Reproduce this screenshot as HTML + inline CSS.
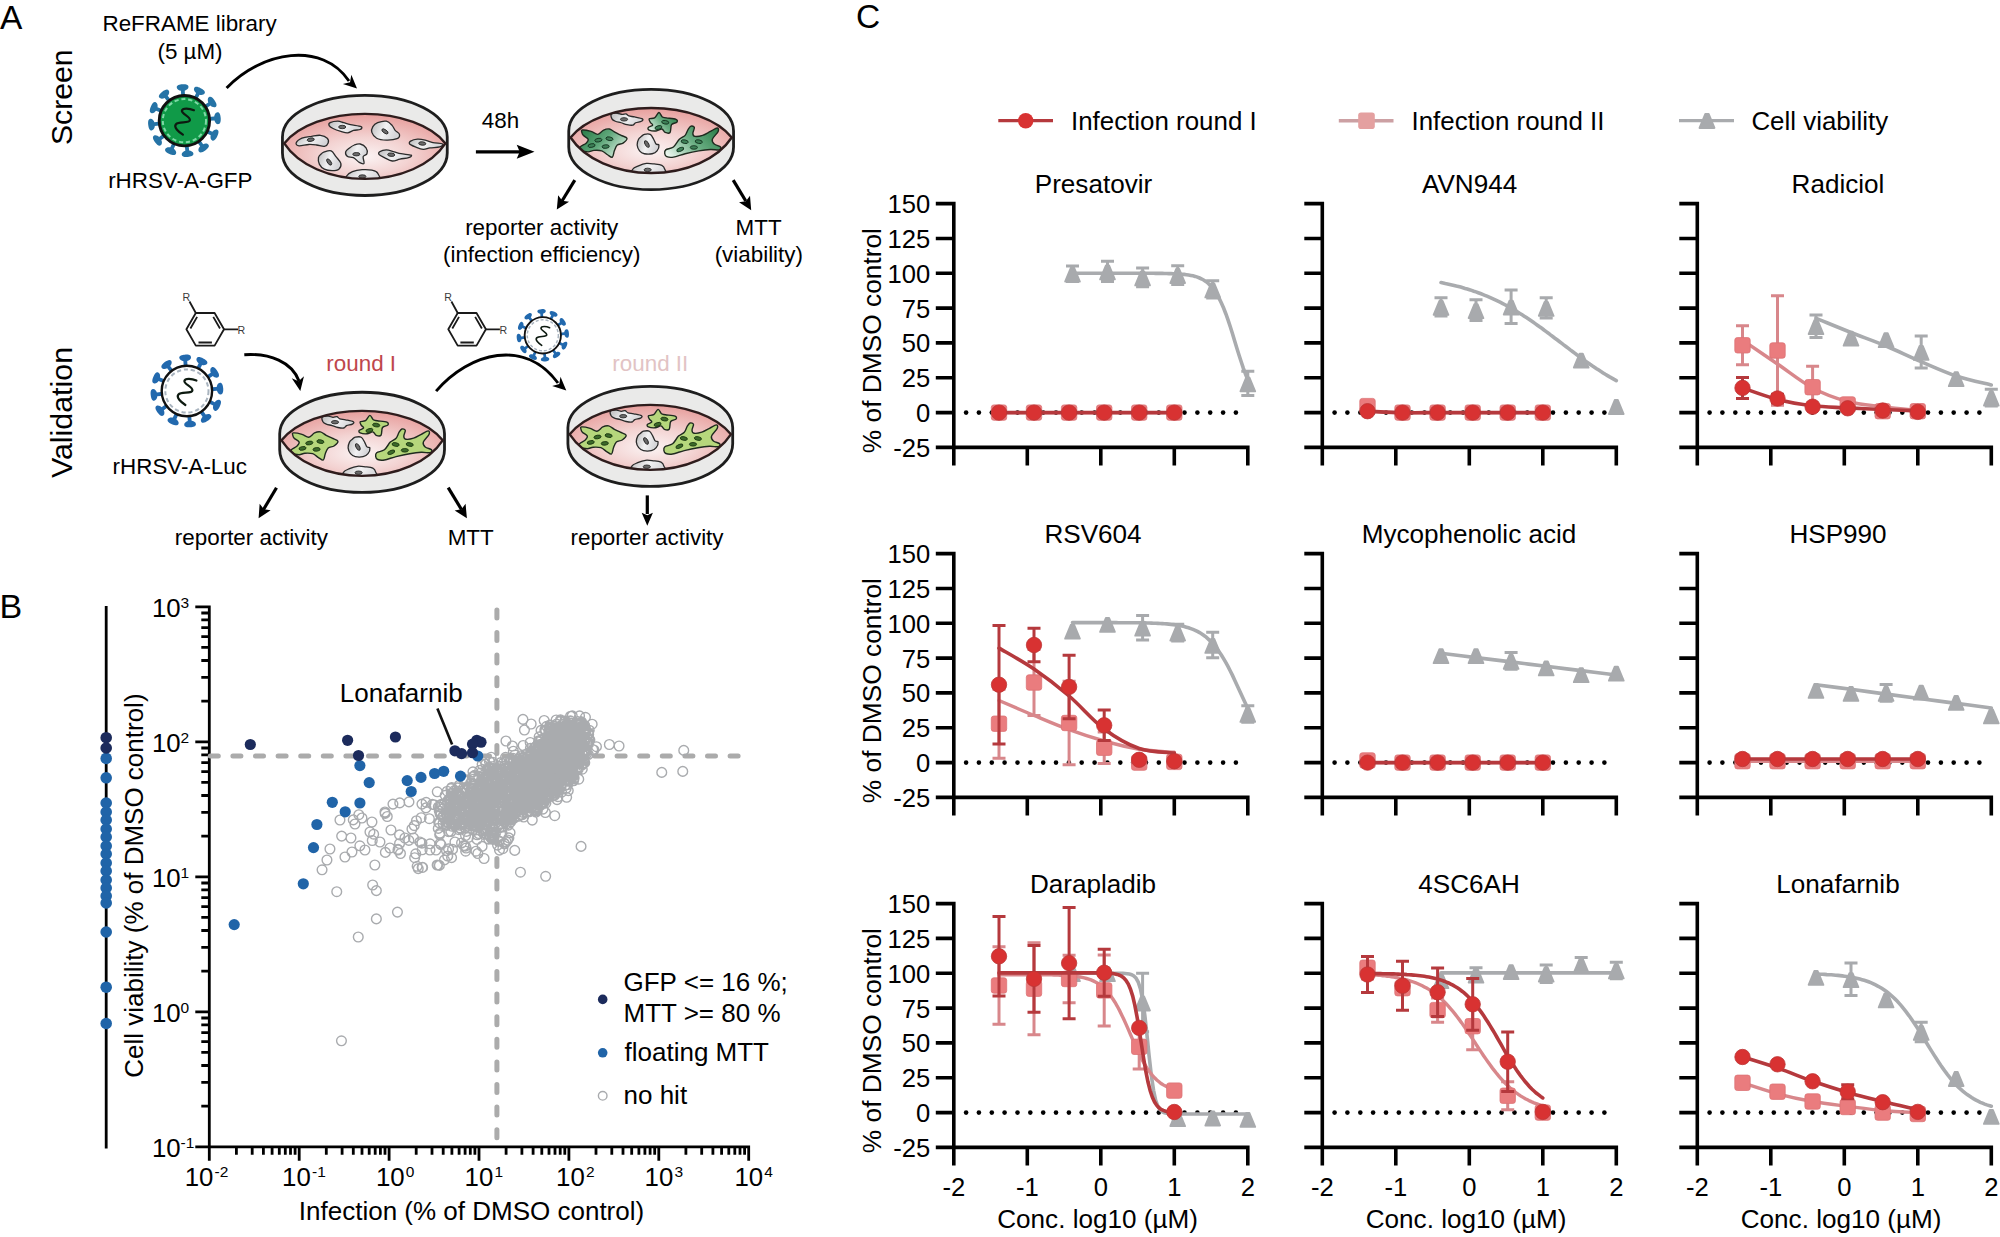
<!DOCTYPE html>
<html><head><meta charset="utf-8"><style>html,body{margin:0;padding:0;background:#fff;width:2000px;height:1237px;overflow:hidden}svg{display:block}</style></head>
<body><svg width="2000" height="1237" viewBox="0 0 2000 1237" font-family="&quot;Liberation Sans&quot;, sans-serif" fill="#000">
<rect width="2000" height="1237" fill="#fff"/>
<path d="M998.3 120.7H1053" stroke="#B5393D" stroke-width="3.2"/><circle cx="1025.7" cy="120.7" r="7.7" fill="#D83232"/><text x="1071" y="130" font-size="25.9">Infection round I</text><path d="M1338.8 120.7H1393.5" stroke="#CCA0A3" stroke-width="3.4"/><rect x="1358.2" y="112.4" width="16.6" height="16.6" rx="2.8" fill="#E4A0A0"/><text x="1411.5" y="130" font-size="25.9">Infection round II</text><path d="M1679 120.7H1734" stroke="#A9ABAE" stroke-width="3.2"/><path d="M1705.4 113.9L1708.6 113.9L1714.4 127.9L1699.6 127.9Z" fill="#A8AAAD" stroke="#A8AAAD" stroke-width="2" stroke-linejoin="round"/><text x="1751.4" y="130" font-size="25.9">Cell viability</text><text x="856" y="28.4" font-size="33.5">C</text><path d="M953.8 201.8V465.4 M935.8 447.4H1249.6 M935.8 412.6H953.8 M935.8 377.8H953.8 M935.8 342.9H953.8 M935.8 308.1H953.8 M935.8 273.3H953.8 M935.8 238.5H953.8 M935.8 203.6H953.8 M1027.3 447.4V465.4 M1100.8 447.4V465.4 M1174.3 447.4V465.4 M1247.8 447.4V465.4" stroke="#000" stroke-width="3.6" fill="none"/><g fill="#000"><circle cx="966.1" cy="412.6" r="2.3"/><circle cx="978.9" cy="412.6" r="2.3"/><circle cx="991.8" cy="412.6" r="2.3"/><circle cx="1004.6" cy="412.6" r="2.3"/><circle cx="1017.5" cy="412.6" r="2.3"/><circle cx="1030.3" cy="412.6" r="2.3"/><circle cx="1043.2" cy="412.6" r="2.3"/><circle cx="1056" cy="412.6" r="2.3"/><circle cx="1068.9" cy="412.6" r="2.3"/><circle cx="1081.7" cy="412.6" r="2.3"/><circle cx="1094.6" cy="412.6" r="2.3"/><circle cx="1107.4" cy="412.6" r="2.3"/><circle cx="1120.3" cy="412.6" r="2.3"/><circle cx="1133.1" cy="412.6" r="2.3"/><circle cx="1146" cy="412.6" r="2.3"/><circle cx="1158.8" cy="412.6" r="2.3"/><circle cx="1171.7" cy="412.6" r="2.3"/><circle cx="1184.5" cy="412.6" r="2.3"/><circle cx="1197.4" cy="412.6" r="2.3"/><circle cx="1210.2" cy="412.6" r="2.3"/><circle cx="1223.1" cy="412.6" r="2.3"/><circle cx="1235.9" cy="412.6" r="2.3"/></g><text x="930.2" y="456.8" text-anchor="end" font-size="25.6">-25</text><text x="930.2" y="422" text-anchor="end" font-size="25.6">0</text><text x="930.2" y="387.2" text-anchor="end" font-size="25.6">25</text><text x="930.2" y="352.3" text-anchor="end" font-size="25.6">50</text><text x="930.2" y="317.5" text-anchor="end" font-size="25.6">75</text><text x="930.2" y="282.7" text-anchor="end" font-size="25.6">100</text><text x="930.2" y="247.9" text-anchor="end" font-size="25.6">125</text><text x="930.2" y="213" text-anchor="end" font-size="25.6">150</text><text transform="translate(880.5 340.6) rotate(-90)" text-anchor="middle" font-size="26.3">% of DMSO control</text><text x="1093.5" y="193" text-anchor="middle" font-size="26.1">Presatovir</text><path d="M1072.5 273.3 L1074.7 273.3 L1076.8 273.3 L1079 273.3 L1081.2 273.3 L1083.4 273.3 L1085.6 273.3 L1087.8 273.3 L1090 273.3 L1092.2 273.3 L1094.4 273.3 L1096.6 273.3 L1098.8 273.3 L1101 273.3 L1103.1 273.3 L1105.3 273.3 L1107.5 273.3 L1109.7 273.3 L1111.9 273.3 L1114.1 273.3 L1116.3 273.3 L1118.5 273.3 L1120.7 273.3 L1122.9 273.3 L1125.1 273.3 L1127.3 273.3 L1129.4 273.3 L1131.6 273.3 L1133.8 273.3 L1136 273.3 L1138.2 273.3 L1140.4 273.3 L1142.6 273.3 L1144.8 273.3 L1147 273.3 L1149.2 273.3 L1151.4 273.3 L1153.6 273.3 L1155.7 273.4 L1157.9 273.4 L1160.1 273.4 L1162.3 273.4 L1164.5 273.5 L1166.7 273.5 L1168.9 273.6 L1171.1 273.6 L1173.3 273.7 L1175.5 273.8 L1177.7 273.9 L1179.9 274 L1182 274.2 L1184.2 274.4 L1186.4 274.7 L1188.6 275 L1190.8 275.4 L1193 275.8 L1195.2 276.4 L1197.4 277.1 L1199.6 278 L1201.8 279 L1204 280.2 L1206.2 281.7 L1208.3 283.5 L1210.5 285.7 L1212.7 288.2 L1214.9 291.2 L1217.1 294.6 L1219.3 298.6 L1221.5 303.2 L1223.7 308.3 L1225.9 314 L1228.1 320.1 L1230.3 326.7 L1232.5 333.7 L1234.6 340.8 L1236.8 348 L1239 355 L1241.2 361.8 L1243.4 368.3 L1245.6 374.3 L1247.8 379.7" stroke="#A9ABAE" stroke-width="3.6" fill="none" stroke-linecap="round"/><path d="M1072.5 266V281.4 M1066 266H1079 M1066 281.4H1079 M1107.5 261.3V281.6 M1101 261.3H1114 M1101 281.6H1114 M1142.6 268.1V286.8 M1136.1 268.1H1149.1 M1136.1 286.8H1149.1 M1177.7 265.8V284.4 M1171.2 265.8H1184.2 M1171.2 284.4H1184.2 M1212.7 280.8V298.1 M1206.2 280.8H1219.2 M1206.2 298.1H1219.2 M1247.8 371.2V395.5 M1241.3 371.2H1254.3 M1241.3 395.5H1254.3" stroke="#A8AAAD" stroke-width="3" fill="none"/><path d="M1070.9 267.6L1074.1 267.6L1079.9 281.6L1065.1 281.6Z M1105.9 265.4L1109.1 265.4L1114.9 279.4L1100.1 279.4Z M1141 271.4L1144.2 271.4L1150 285.4L1135.2 285.4Z M1176.1 269L1179.3 269L1185.1 283L1170.3 283Z M1211.1 283.4L1214.3 283.4L1220.1 297.4L1205.3 297.4Z M1246.2 377.3L1249.4 377.3L1255.2 391.3L1240.4 391.3Z" fill="#A8AAAD" stroke="#A8AAAD" stroke-width="1.8" stroke-linejoin="round"/><path d="M999 412.6C1004.8 412.6 1022.3 412.6 1034 412.6C1045.7 412.6 1057.4 412.6 1069.1 412.6C1080.8 412.6 1092.5 412.6 1104.2 412.6C1115.9 412.6 1127.5 412.6 1139.2 412.6C1150.9 412.6 1168.5 412.6 1174.3 412.6" stroke="#D8878B" stroke-width="3.4" fill="none" stroke-linecap="round"/><rect x="991.3" y="404.9" width="15.4" height="15.4" rx="2.5" fill="#EA7C7E" stroke="#DC7476" stroke-width="0.8"/><rect x="1026.3" y="404.9" width="15.4" height="15.4" rx="2.5" fill="#EA7C7E" stroke="#DC7476" stroke-width="0.8"/><rect x="1061.4" y="404.9" width="15.4" height="15.4" rx="2.5" fill="#EA7C7E" stroke="#DC7476" stroke-width="0.8"/><rect x="1096.5" y="404.9" width="15.4" height="15.4" rx="2.5" fill="#EA7C7E" stroke="#DC7476" stroke-width="0.8"/><rect x="1131.5" y="404.9" width="15.4" height="15.4" rx="2.5" fill="#EA7C7E" stroke="#DC7476" stroke-width="0.8"/><rect x="1166.6" y="404.9" width="15.4" height="15.4" rx="2.5" fill="#EA7C7E" stroke="#DC7476" stroke-width="0.8"/><path d="M999 412.6C1004.8 412.6 1022.3 412.6 1034 412.6C1045.7 412.6 1057.4 412.6 1069.1 412.6C1080.8 412.6 1092.5 412.6 1104.2 412.6C1115.9 412.6 1127.5 412.6 1139.2 412.6C1150.9 412.6 1168.5 412.6 1174.3 412.6" stroke="#B5393D" stroke-width="3.6" fill="none" stroke-linecap="round"/><circle cx="999" cy="412.6" r="7.7" fill="#D83232" stroke="#BC3636" stroke-width="0.8"/><circle cx="1034" cy="412.6" r="7.7" fill="#D83232" stroke="#BC3636" stroke-width="0.8"/><circle cx="1069.1" cy="412.6" r="7.7" fill="#D83232" stroke="#BC3636" stroke-width="0.8"/><circle cx="1104.2" cy="412.6" r="7.7" fill="#D83232" stroke="#BC3636" stroke-width="0.8"/><circle cx="1139.2" cy="412.6" r="7.7" fill="#D83232" stroke="#BC3636" stroke-width="0.8"/><circle cx="1174.3" cy="412.6" r="7.7" fill="#D83232" stroke="#BC3636" stroke-width="0.8"/><path d="M1322.3 201.8V465.4 M1304.3 447.4H1618.1 M1304.3 412.6H1322.3 M1304.3 377.8H1322.3 M1304.3 342.9H1322.3 M1304.3 308.1H1322.3 M1304.3 273.3H1322.3 M1304.3 238.5H1322.3 M1304.3 203.6H1322.3 M1395.8 447.4V465.4 M1469.3 447.4V465.4 M1542.8 447.4V465.4 M1616.3 447.4V465.4" stroke="#000" stroke-width="3.6" fill="none"/><g fill="#000"><circle cx="1334.6" cy="412.6" r="2.3"/><circle cx="1347.4" cy="412.6" r="2.3"/><circle cx="1360.3" cy="412.6" r="2.3"/><circle cx="1373.1" cy="412.6" r="2.3"/><circle cx="1386" cy="412.6" r="2.3"/><circle cx="1398.8" cy="412.6" r="2.3"/><circle cx="1411.7" cy="412.6" r="2.3"/><circle cx="1424.5" cy="412.6" r="2.3"/><circle cx="1437.4" cy="412.6" r="2.3"/><circle cx="1450.2" cy="412.6" r="2.3"/><circle cx="1463.1" cy="412.6" r="2.3"/><circle cx="1475.9" cy="412.6" r="2.3"/><circle cx="1488.8" cy="412.6" r="2.3"/><circle cx="1501.6" cy="412.6" r="2.3"/><circle cx="1514.5" cy="412.6" r="2.3"/><circle cx="1527.3" cy="412.6" r="2.3"/><circle cx="1540.2" cy="412.6" r="2.3"/><circle cx="1553" cy="412.6" r="2.3"/><circle cx="1565.9" cy="412.6" r="2.3"/><circle cx="1578.7" cy="412.6" r="2.3"/><circle cx="1591.6" cy="412.6" r="2.3"/><circle cx="1604.4" cy="412.6" r="2.3"/></g><text x="1469.6" y="193" text-anchor="middle" font-size="26.1">AVN944</text><path d="M1441 282.6 L1443.2 283 L1445.3 283.5 L1447.5 283.9 L1449.7 284.4 L1451.9 284.9 L1454.1 285.4 L1456.3 286 L1458.5 286.5 L1460.7 287.1 L1462.9 287.7 L1465.1 288.4 L1467.3 289 L1469.5 289.7 L1471.6 290.4 L1473.8 291.2 L1476 291.9 L1478.2 292.7 L1480.4 293.5 L1482.6 294.4 L1484.8 295.3 L1487 296.2 L1489.2 297.1 L1491.4 298.1 L1493.6 299.1 L1495.8 300.1 L1497.9 301.1 L1500.1 302.2 L1502.3 303.3 L1504.5 304.5 L1506.7 305.7 L1508.9 306.9 L1511.1 308.1 L1513.3 309.4 L1515.5 310.7 L1517.7 312 L1519.9 313.4 L1522.1 314.8 L1524.2 316.2 L1526.4 317.6 L1528.6 319.1 L1530.8 320.6 L1533 322.1 L1535.2 323.6 L1537.4 325.2 L1539.6 326.8 L1541.8 328.3 L1544 330 L1546.2 331.6 L1548.4 333.2 L1550.5 334.9 L1552.7 336.5 L1554.9 338.2 L1557.1 339.8 L1559.3 341.5 L1561.5 343.2 L1563.7 344.9 L1565.9 346.5 L1568.1 348.2 L1570.3 349.9 L1572.5 351.5 L1574.7 353.2 L1576.8 354.8 L1579 356.4 L1581.2 358 L1583.4 359.6 L1585.6 361.2 L1587.8 362.7 L1590 364.3 L1592.2 365.8 L1594.4 367.2 L1596.6 368.7 L1598.8 370.1 L1601 371.5 L1603.1 372.9 L1605.3 374.3 L1607.5 375.6 L1609.7 376.9 L1611.9 378.1 L1614.1 379.4 L1616.3 380.6" stroke="#A9ABAE" stroke-width="3.6" fill="none" stroke-linecap="round"/><path d="M1441 297.7V316.1 M1434.5 297.7H1447.5 M1434.5 316.1H1447.5 M1476 299.8V320.6 M1469.5 299.8H1482.5 M1469.5 320.6H1482.5 M1511.1 290V323.4 M1504.6 290H1517.6 M1504.6 323.4H1517.6 M1546.2 297.7V318 M1539.7 297.7H1552.7 M1539.7 318H1552.7" stroke="#A8AAAD" stroke-width="3" fill="none"/><path d="M1439.4 300.8L1442.6 300.8L1448.4 314.8L1433.6 314.8Z M1474.4 304.1L1477.6 304.1L1483.4 318.1L1468.6 318.1Z M1509.5 300.6L1512.7 300.6L1518.5 314.6L1503.7 314.6Z M1544.6 301.8L1547.8 301.8L1553.6 315.8L1538.8 315.8Z M1579.6 353.6L1582.8 353.6L1588.6 367.6L1573.8 367.6Z M1614.7 400L1617.9 400L1623.7 414L1608.9 414Z" fill="#A8AAAD" stroke="#A8AAAD" stroke-width="1.8" stroke-linejoin="round"/><path d="M1367.5 411.2C1373.3 411.4 1390.8 412.4 1402.5 412.6C1414.2 412.8 1425.9 412.6 1437.6 412.6C1449.3 412.6 1461 412.6 1472.7 412.6C1484.4 412.6 1496 412.6 1507.7 412.6C1519.4 412.6 1537 412.6 1542.8 412.6" stroke="#D8878B" stroke-width="3.4" fill="none" stroke-linecap="round"/><rect x="1359.8" y="398.4" width="15.4" height="15.4" rx="2.5" fill="#EA7C7E" stroke="#DC7476" stroke-width="0.8"/><rect x="1394.8" y="404.9" width="15.4" height="15.4" rx="2.5" fill="#EA7C7E" stroke="#DC7476" stroke-width="0.8"/><rect x="1429.9" y="404.9" width="15.4" height="15.4" rx="2.5" fill="#EA7C7E" stroke="#DC7476" stroke-width="0.8"/><rect x="1465" y="404.9" width="15.4" height="15.4" rx="2.5" fill="#EA7C7E" stroke="#DC7476" stroke-width="0.8"/><rect x="1500" y="404.9" width="15.4" height="15.4" rx="2.5" fill="#EA7C7E" stroke="#DC7476" stroke-width="0.8"/><rect x="1535.1" y="404.9" width="15.4" height="15.4" rx="2.5" fill="#EA7C7E" stroke="#DC7476" stroke-width="0.8"/><path d="M1367.5 411.2C1373.3 411.4 1390.8 412.4 1402.5 412.6C1414.2 412.8 1425.9 412.6 1437.6 412.6C1449.3 412.6 1461 412.6 1472.7 412.6C1484.4 412.6 1496 412.6 1507.7 412.6C1519.4 412.6 1537 412.6 1542.8 412.6" stroke="#B5393D" stroke-width="3.6" fill="none" stroke-linecap="round"/><circle cx="1367.5" cy="411.2" r="7.7" fill="#D83232" stroke="#BC3636" stroke-width="0.8"/><circle cx="1402.5" cy="412.6" r="7.7" fill="#D83232" stroke="#BC3636" stroke-width="0.8"/><circle cx="1437.6" cy="412.6" r="7.7" fill="#D83232" stroke="#BC3636" stroke-width="0.8"/><circle cx="1472.7" cy="412.6" r="7.7" fill="#D83232" stroke="#BC3636" stroke-width="0.8"/><circle cx="1507.7" cy="412.6" r="7.7" fill="#D83232" stroke="#BC3636" stroke-width="0.8"/><circle cx="1542.8" cy="412.6" r="7.7" fill="#D83232" stroke="#BC3636" stroke-width="0.8"/><path d="M1697.3 201.8V465.4 M1679.3 447.4H1993.1 M1679.3 412.6H1697.3 M1679.3 377.8H1697.3 M1679.3 342.9H1697.3 M1679.3 308.1H1697.3 M1679.3 273.3H1697.3 M1679.3 238.5H1697.3 M1679.3 203.6H1697.3 M1770.8 447.4V465.4 M1844.3 447.4V465.4 M1917.8 447.4V465.4 M1991.3 447.4V465.4" stroke="#000" stroke-width="3.6" fill="none"/><g fill="#000"><circle cx="1709.6" cy="412.6" r="2.3"/><circle cx="1722.4" cy="412.6" r="2.3"/><circle cx="1735.3" cy="412.6" r="2.3"/><circle cx="1748.1" cy="412.6" r="2.3"/><circle cx="1761" cy="412.6" r="2.3"/><circle cx="1773.8" cy="412.6" r="2.3"/><circle cx="1786.7" cy="412.6" r="2.3"/><circle cx="1799.5" cy="412.6" r="2.3"/><circle cx="1812.4" cy="412.6" r="2.3"/><circle cx="1825.2" cy="412.6" r="2.3"/><circle cx="1838.1" cy="412.6" r="2.3"/><circle cx="1850.9" cy="412.6" r="2.3"/><circle cx="1863.8" cy="412.6" r="2.3"/><circle cx="1876.6" cy="412.6" r="2.3"/><circle cx="1889.5" cy="412.6" r="2.3"/><circle cx="1902.3" cy="412.6" r="2.3"/><circle cx="1915.2" cy="412.6" r="2.3"/><circle cx="1928" cy="412.6" r="2.3"/><circle cx="1940.9" cy="412.6" r="2.3"/><circle cx="1953.7" cy="412.6" r="2.3"/><circle cx="1966.6" cy="412.6" r="2.3"/><circle cx="1979.4" cy="412.6" r="2.3"/></g><text x="1838" y="193" text-anchor="middle" font-size="26.1">Radiciol</text><path d="M1816 318.3C1821.8 320.6 1839.3 327.9 1851 332.5C1862.7 337.1 1874.4 341.1 1886.1 346C1897.8 350.9 1909.5 356.8 1921.2 361.7C1932.9 366.7 1944.5 372.1 1956.2 376C1967.9 379.8 1985.5 383.5 1991.3 385" stroke="#A9ABAE" stroke-width="3.6" fill="none" stroke-linecap="round"/><path d="M1816 315.1V337.4 M1809.5 315.1H1822.5 M1809.5 337.4H1822.5 M1921.2 336V368 M1914.7 336H1927.7 M1914.7 368H1927.7 M1991.3 389.3V406.1 M1984.8 389.3H1997.8 M1984.8 406.1H1997.8" stroke="#A8AAAD" stroke-width="3" fill="none"/><path d="M1814.4 320.1L1817.6 320.1L1823.4 334.1L1808.6 334.1Z M1849.4 331.7L1852.6 331.7L1858.4 345.7L1843.6 345.7Z M1884.5 333.2L1887.7 333.2L1893.5 347.2L1878.7 347.2Z M1919.6 345.9L1922.8 345.9L1928.6 359.9L1913.8 359.9Z M1954.6 372.2L1957.8 372.2L1963.6 386.2L1948.8 386.2Z M1989.7 391.6L1992.9 391.6L1998.7 405.6L1983.9 405.6Z" fill="#A8AAAD" stroke="#A8AAAD" stroke-width="1.8" stroke-linejoin="round"/><path d="M1742.5 340.2C1748.3 344.1 1765.8 356 1777.5 364C1789.2 371.9 1800.9 381.7 1812.6 387.9C1824.3 394.2 1836 398.3 1847.7 401.5C1859.4 404.6 1871 405.2 1882.7 406.7C1894.4 408.3 1912 409.9 1917.8 410.5" stroke="#D8878B" stroke-width="3.4" fill="none" stroke-linecap="round"/><path d="M1742.5 325.8V364.8 M1736 325.8H1749 M1736 364.8H1749 M1777.5 295.7V405.2 M1771 295.7H1784 M1771 405.2H1784 M1812.6 366.3V408.1 M1806.1 366.3H1819.1 M1806.1 408.1H1819.1" stroke="#D8878B" stroke-width="3" fill="none"/><rect x="1734.8" y="337.6" width="15.4" height="15.4" rx="2.5" fill="#EA7C7E" stroke="#DC7476" stroke-width="0.8"/><rect x="1769.8" y="342.8" width="15.4" height="15.4" rx="2.5" fill="#EA7C7E" stroke="#DC7476" stroke-width="0.8"/><rect x="1804.9" y="379.5" width="15.4" height="15.4" rx="2.5" fill="#EA7C7E" stroke="#DC7476" stroke-width="0.8"/><rect x="1840" y="396.8" width="15.4" height="15.4" rx="2.5" fill="#EA7C7E" stroke="#DC7476" stroke-width="0.8"/><rect x="1875" y="403.5" width="15.4" height="15.4" rx="2.5" fill="#EA7C7E" stroke="#DC7476" stroke-width="0.8"/><rect x="1910.1" y="403.5" width="15.4" height="15.4" rx="2.5" fill="#EA7C7E" stroke="#DC7476" stroke-width="0.8"/><path d="M1742.5 387.9C1748.3 389.9 1765.8 396.5 1777.5 399.5C1789.2 402.5 1800.9 404.4 1812.6 405.8C1824.3 407.2 1836 407.2 1847.7 407.9C1859.4 408.5 1871 409 1882.7 409.5C1894.4 410 1912 410.7 1917.8 410.9" stroke="#B5393D" stroke-width="3.6" fill="none" stroke-linecap="round"/><path d="M1742.5 377.5V398.4 M1736 377.5H1749 M1736 398.4H1749 M1777.5 394.3V402.7 M1771 394.3H1784 M1771 402.7H1784" stroke="#B5393D" stroke-width="3" fill="none"/><circle cx="1742.5" cy="387.9" r="7.7" fill="#D83232" stroke="#BC3636" stroke-width="0.8"/><circle cx="1777.5" cy="398.5" r="7.7" fill="#D83232" stroke="#BC3636" stroke-width="0.8"/><circle cx="1812.6" cy="406.7" r="7.7" fill="#D83232" stroke="#BC3636" stroke-width="0.8"/><circle cx="1847.7" cy="408.3" r="7.7" fill="#D83232" stroke="#BC3636" stroke-width="0.8"/><circle cx="1882.7" cy="410.5" r="7.7" fill="#D83232" stroke="#BC3636" stroke-width="0.8"/><circle cx="1917.8" cy="411.9" r="7.7" fill="#D83232" stroke="#BC3636" stroke-width="0.8"/><path d="M953.8 551.8V815.4 M935.8 797.4H1249.6 M935.8 762.6H953.8 M935.8 727.8H953.8 M935.8 692.9H953.8 M935.8 658.1H953.8 M935.8 623.3H953.8 M935.8 588.5H953.8 M935.8 553.6H953.8 M1027.3 797.4V815.4 M1100.8 797.4V815.4 M1174.3 797.4V815.4 M1247.8 797.4V815.4" stroke="#000" stroke-width="3.6" fill="none"/><g fill="#000"><circle cx="966.1" cy="762.6" r="2.3"/><circle cx="978.9" cy="762.6" r="2.3"/><circle cx="991.8" cy="762.6" r="2.3"/><circle cx="1004.6" cy="762.6" r="2.3"/><circle cx="1017.5" cy="762.6" r="2.3"/><circle cx="1030.3" cy="762.6" r="2.3"/><circle cx="1043.2" cy="762.6" r="2.3"/><circle cx="1056" cy="762.6" r="2.3"/><circle cx="1068.9" cy="762.6" r="2.3"/><circle cx="1081.7" cy="762.6" r="2.3"/><circle cx="1094.6" cy="762.6" r="2.3"/><circle cx="1107.4" cy="762.6" r="2.3"/><circle cx="1120.3" cy="762.6" r="2.3"/><circle cx="1133.1" cy="762.6" r="2.3"/><circle cx="1146" cy="762.6" r="2.3"/><circle cx="1158.8" cy="762.6" r="2.3"/><circle cx="1171.7" cy="762.6" r="2.3"/><circle cx="1184.5" cy="762.6" r="2.3"/><circle cx="1197.4" cy="762.6" r="2.3"/><circle cx="1210.2" cy="762.6" r="2.3"/><circle cx="1223.1" cy="762.6" r="2.3"/><circle cx="1235.9" cy="762.6" r="2.3"/></g><text x="930.2" y="806.8" text-anchor="end" font-size="25.6">-25</text><text x="930.2" y="772" text-anchor="end" font-size="25.6">0</text><text x="930.2" y="737.2" text-anchor="end" font-size="25.6">25</text><text x="930.2" y="702.3" text-anchor="end" font-size="25.6">50</text><text x="930.2" y="667.5" text-anchor="end" font-size="25.6">75</text><text x="930.2" y="632.7" text-anchor="end" font-size="25.6">100</text><text x="930.2" y="597.9" text-anchor="end" font-size="25.6">125</text><text x="930.2" y="563" text-anchor="end" font-size="25.6">150</text><text transform="translate(880.5 690.6) rotate(-90)" text-anchor="middle" font-size="26.3">% of DMSO control</text><text x="1093" y="543" text-anchor="middle" font-size="26.1">RSV604</text><path d="M1072.5 622.6 L1074.7 622.6 L1076.8 622.6 L1079 622.6 L1081.2 622.6 L1083.4 622.6 L1085.6 622.6 L1087.8 622.6 L1090 622.6 L1092.2 622.6 L1094.4 622.6 L1096.6 622.6 L1098.8 622.6 L1101 622.6 L1103.1 622.6 L1105.3 622.6 L1107.5 622.6 L1109.7 622.6 L1111.9 622.6 L1114.1 622.6 L1116.3 622.6 L1118.5 622.7 L1120.7 622.7 L1122.9 622.7 L1125.1 622.7 L1127.3 622.7 L1129.4 622.7 L1131.6 622.7 L1133.8 622.8 L1136 622.8 L1138.2 622.8 L1140.4 622.8 L1142.6 622.9 L1144.8 622.9 L1147 623 L1149.2 623 L1151.4 623.1 L1153.6 623.2 L1155.7 623.3 L1157.9 623.4 L1160.1 623.5 L1162.3 623.6 L1164.5 623.8 L1166.7 623.9 L1168.9 624.1 L1171.1 624.4 L1173.3 624.6 L1175.5 624.9 L1177.7 625.3 L1179.9 625.7 L1182 626.1 L1184.2 626.6 L1186.4 627.2 L1188.6 627.8 L1190.8 628.6 L1193 629.4 L1195.2 630.3 L1197.4 631.4 L1199.6 632.6 L1201.8 634 L1204 635.5 L1206.2 637.2 L1208.3 639.1 L1210.5 641.2 L1212.7 643.6 L1214.9 646.1 L1217.1 648.9 L1219.3 652 L1221.5 655.3 L1223.7 658.9 L1225.9 662.7 L1228.1 666.7 L1230.3 671 L1232.5 675.4 L1234.6 680 L1236.8 684.7 L1239 689.5 L1241.2 694.3 L1243.4 699.1 L1245.6 703.8 L1247.8 708.4" stroke="#A9ABAE" stroke-width="3.6" fill="none" stroke-linecap="round"/><path d="M1142.6 615.6V639.9 M1136.1 615.6H1149.1 M1136.1 639.9H1149.1 M1177.7 624.3V641 M1171.2 624.3H1184.2 M1171.2 641H1184.2 M1212.7 632.2V657.8 M1206.2 632.2H1219.2 M1206.2 657.8H1219.2 M1247.8 705.8V722.2 M1241.3 705.8H1254.3 M1241.3 722.2H1254.3" stroke="#A8AAAD" stroke-width="3" fill="none"/><path d="M1070.9 624.7L1074.1 624.7L1079.9 638.7L1065.1 638.7Z M1105.9 617.9L1109.1 617.9L1114.9 631.9L1100.1 631.9Z M1141 621.7L1144.2 621.7L1150 635.7L1135.2 635.7Z M1176.1 626.5L1179.3 626.5L1185.1 640.5L1170.3 640.5Z M1211.1 638.9L1214.3 638.9L1220.1 652.9L1205.3 652.9Z M1246.2 707.9L1249.4 707.9L1255.2 721.9L1240.4 721.9Z" fill="#A8AAAD" stroke="#A8AAAD" stroke-width="1.8" stroke-linejoin="round"/><path d="M999 700.5C1004.8 703 1022.3 710.6 1034 715.5C1045.7 720.4 1057.4 725.5 1069.1 729.7C1080.8 734 1092.5 737.8 1104.2 741C1115.9 744.3 1127.5 747.3 1139.2 749.2C1150.9 751.1 1168.5 751.8 1174.3 752.3" stroke="#D8878B" stroke-width="3.4" fill="none" stroke-linecap="round"/><path d="M999 689.2V758.3 M992.5 689.2H1005.5 M992.5 758.3H1005.5 M1034 649.5V715.5 M1027.5 649.5H1040.5 M1027.5 715.5H1040.5 M1069.1 681.2V764.8 M1062.6 681.2H1075.6 M1062.6 764.8H1075.6 M1104.2 731.9V763.4 M1097.7 731.9H1110.7 M1097.7 763.4H1110.7" stroke="#D8878B" stroke-width="3" fill="none"/><rect x="991.3" y="716" width="15.4" height="15.4" rx="2.5" fill="#EA7C7E" stroke="#DC7476" stroke-width="0.8"/><rect x="1026.3" y="674.8" width="15.4" height="15.4" rx="2.5" fill="#EA7C7E" stroke="#DC7476" stroke-width="0.8"/><rect x="1061.4" y="715.3" width="15.4" height="15.4" rx="2.5" fill="#EA7C7E" stroke="#DC7476" stroke-width="0.8"/><rect x="1096.5" y="740" width="15.4" height="15.4" rx="2.5" fill="#EA7C7E" stroke="#DC7476" stroke-width="0.8"/><rect x="1131.5" y="754.9" width="15.4" height="15.4" rx="2.5" fill="#EA7C7E" stroke="#DC7476" stroke-width="0.8"/><rect x="1166.6" y="754.2" width="15.4" height="15.4" rx="2.5" fill="#EA7C7E" stroke="#DC7476" stroke-width="0.8"/><path d="M999 648.1C1004.8 651.6 1022.3 661 1034 669C1045.7 677 1057.4 686 1069.1 696C1080.8 706 1092.5 720.3 1104.2 729C1115.9 737.8 1127.5 744.5 1139.2 748.5C1150.9 752.5 1168.5 752.2 1174.3 753" stroke="#B5393D" stroke-width="3.6" fill="none" stroke-linecap="round"/><path d="M999 625.5V743.9 M992.5 625.5H1005.5 M992.5 743.9H1005.5 M1034 628.3V661.7 M1027.5 628.3H1040.5 M1027.5 661.7H1040.5 M1069.1 655.2V718.7 M1062.6 655.2H1075.6 M1062.6 718.7H1075.6 M1104.2 709.9V740.6 M1097.7 709.9H1110.7 M1097.7 740.6H1110.7" stroke="#B5393D" stroke-width="3" fill="none"/><circle cx="999" cy="684.7" r="7.7" fill="#D83232" stroke="#BC3636" stroke-width="0.8"/><circle cx="1034" cy="645" r="7.7" fill="#D83232" stroke="#BC3636" stroke-width="0.8"/><circle cx="1069.1" cy="686.9" r="7.7" fill="#D83232" stroke="#BC3636" stroke-width="0.8"/><circle cx="1104.2" cy="725.3" r="7.7" fill="#D83232" stroke="#BC3636" stroke-width="0.8"/><circle cx="1139.2" cy="759.8" r="7.7" fill="#D83232" stroke="#BC3636" stroke-width="0.8"/><circle cx="1174.3" cy="761.2" r="7.7" fill="#D83232" stroke="#BC3636" stroke-width="0.8"/><path d="M1322.3 551.8V815.4 M1304.3 797.4H1618.1 M1304.3 762.6H1322.3 M1304.3 727.8H1322.3 M1304.3 692.9H1322.3 M1304.3 658.1H1322.3 M1304.3 623.3H1322.3 M1304.3 588.5H1322.3 M1304.3 553.6H1322.3 M1395.8 797.4V815.4 M1469.3 797.4V815.4 M1542.8 797.4V815.4 M1616.3 797.4V815.4" stroke="#000" stroke-width="3.6" fill="none"/><g fill="#000"><circle cx="1334.6" cy="762.6" r="2.3"/><circle cx="1347.4" cy="762.6" r="2.3"/><circle cx="1360.3" cy="762.6" r="2.3"/><circle cx="1373.1" cy="762.6" r="2.3"/><circle cx="1386" cy="762.6" r="2.3"/><circle cx="1398.8" cy="762.6" r="2.3"/><circle cx="1411.7" cy="762.6" r="2.3"/><circle cx="1424.5" cy="762.6" r="2.3"/><circle cx="1437.4" cy="762.6" r="2.3"/><circle cx="1450.2" cy="762.6" r="2.3"/><circle cx="1463.1" cy="762.6" r="2.3"/><circle cx="1475.9" cy="762.6" r="2.3"/><circle cx="1488.8" cy="762.6" r="2.3"/><circle cx="1501.6" cy="762.6" r="2.3"/><circle cx="1514.5" cy="762.6" r="2.3"/><circle cx="1527.3" cy="762.6" r="2.3"/><circle cx="1540.2" cy="762.6" r="2.3"/><circle cx="1553" cy="762.6" r="2.3"/><circle cx="1565.9" cy="762.6" r="2.3"/><circle cx="1578.7" cy="762.6" r="2.3"/><circle cx="1591.6" cy="762.6" r="2.3"/><circle cx="1604.4" cy="762.6" r="2.3"/></g><text x="1469" y="543" text-anchor="middle" font-size="26.1">Mycophenolic acid</text><path d="M1441 653.2C1446.8 654 1464.3 656.1 1476 657.6C1487.7 659 1499.4 660.4 1511.1 661.9C1522.8 663.3 1534.5 664.9 1546.2 666.3C1557.9 667.8 1569.5 669.2 1581.2 670.6C1592.9 672.1 1610.5 674.2 1616.3 675" stroke="#A9ABAE" stroke-width="3.6" fill="none" stroke-linecap="round"/><path d="M1511.1 652.5V669.3 M1504.6 652.5H1517.6 M1504.6 669.3H1517.6" stroke="#A8AAAD" stroke-width="3" fill="none"/><path d="M1439.4 649.2L1442.6 649.2L1448.4 663.2L1433.6 663.2Z M1474.4 649.2L1477.6 649.2L1483.4 663.2L1468.6 663.2Z M1509.5 654.8L1512.7 654.8L1518.5 668.8L1503.7 668.8Z M1544.6 661.4L1547.8 661.4L1553.6 675.4L1538.8 675.4Z M1579.6 668.2L1582.8 668.2L1588.6 682.2L1573.8 682.2Z M1614.7 666.7L1617.9 666.7L1623.7 680.7L1608.9 680.7Z" fill="#A8AAAD" stroke="#A8AAAD" stroke-width="1.8" stroke-linejoin="round"/><path d="M1367.5 762.6C1373.3 762.6 1390.8 762.6 1402.5 762.6C1414.2 762.6 1425.9 762.6 1437.6 762.6C1449.3 762.6 1461 762.6 1472.7 762.6C1484.4 762.6 1496 762.6 1507.7 762.6C1519.4 762.6 1537 762.6 1542.8 762.6" stroke="#D8878B" stroke-width="3.4" fill="none" stroke-linecap="round"/><rect x="1359.8" y="752.8" width="15.4" height="15.4" rx="2.5" fill="#EA7C7E" stroke="#DC7476" stroke-width="0.8"/><rect x="1394.8" y="754.9" width="15.4" height="15.4" rx="2.5" fill="#EA7C7E" stroke="#DC7476" stroke-width="0.8"/><rect x="1429.9" y="754.9" width="15.4" height="15.4" rx="2.5" fill="#EA7C7E" stroke="#DC7476" stroke-width="0.8"/><rect x="1465" y="754.9" width="15.4" height="15.4" rx="2.5" fill="#EA7C7E" stroke="#DC7476" stroke-width="0.8"/><rect x="1500" y="754.9" width="15.4" height="15.4" rx="2.5" fill="#EA7C7E" stroke="#DC7476" stroke-width="0.8"/><rect x="1535.1" y="754.9" width="15.4" height="15.4" rx="2.5" fill="#EA7C7E" stroke="#DC7476" stroke-width="0.8"/><path d="M1367.5 762.6C1373.3 762.6 1390.8 762.6 1402.5 762.6C1414.2 762.6 1425.9 762.6 1437.6 762.6C1449.3 762.6 1461 762.6 1472.7 762.6C1484.4 762.6 1496 762.6 1507.7 762.6C1519.4 762.6 1537 762.6 1542.8 762.6" stroke="#B5393D" stroke-width="3.6" fill="none" stroke-linecap="round"/><circle cx="1367.5" cy="762.6" r="7.7" fill="#D83232" stroke="#BC3636" stroke-width="0.8"/><circle cx="1402.5" cy="762.6" r="7.7" fill="#D83232" stroke="#BC3636" stroke-width="0.8"/><circle cx="1437.6" cy="762.6" r="7.7" fill="#D83232" stroke="#BC3636" stroke-width="0.8"/><circle cx="1472.7" cy="762.6" r="7.7" fill="#D83232" stroke="#BC3636" stroke-width="0.8"/><circle cx="1507.7" cy="762.6" r="7.7" fill="#D83232" stroke="#BC3636" stroke-width="0.8"/><circle cx="1542.8" cy="762.6" r="7.7" fill="#D83232" stroke="#BC3636" stroke-width="0.8"/><path d="M1697.3 551.8V815.4 M1679.3 797.4H1993.1 M1679.3 762.6H1697.3 M1679.3 727.8H1697.3 M1679.3 692.9H1697.3 M1679.3 658.1H1697.3 M1679.3 623.3H1697.3 M1679.3 588.5H1697.3 M1679.3 553.6H1697.3 M1770.8 797.4V815.4 M1844.3 797.4V815.4 M1917.8 797.4V815.4 M1991.3 797.4V815.4" stroke="#000" stroke-width="3.6" fill="none"/><g fill="#000"><circle cx="1709.6" cy="762.6" r="2.3"/><circle cx="1722.4" cy="762.6" r="2.3"/><circle cx="1735.3" cy="762.6" r="2.3"/><circle cx="1748.1" cy="762.6" r="2.3"/><circle cx="1761" cy="762.6" r="2.3"/><circle cx="1773.8" cy="762.6" r="2.3"/><circle cx="1786.7" cy="762.6" r="2.3"/><circle cx="1799.5" cy="762.6" r="2.3"/><circle cx="1812.4" cy="762.6" r="2.3"/><circle cx="1825.2" cy="762.6" r="2.3"/><circle cx="1838.1" cy="762.6" r="2.3"/><circle cx="1850.9" cy="762.6" r="2.3"/><circle cx="1863.8" cy="762.6" r="2.3"/><circle cx="1876.6" cy="762.6" r="2.3"/><circle cx="1889.5" cy="762.6" r="2.3"/><circle cx="1902.3" cy="762.6" r="2.3"/><circle cx="1915.2" cy="762.6" r="2.3"/><circle cx="1928" cy="762.6" r="2.3"/><circle cx="1940.9" cy="762.6" r="2.3"/><circle cx="1953.7" cy="762.6" r="2.3"/><circle cx="1966.6" cy="762.6" r="2.3"/><circle cx="1979.4" cy="762.6" r="2.3"/></g><text x="1838" y="543" text-anchor="middle" font-size="26.1">HSP990</text><path d="M1816 684.7C1821.8 685.5 1839.3 687.8 1851 689.3C1862.7 690.9 1874.4 692.5 1886.1 694.1C1897.8 695.6 1909.5 697.1 1921.2 698.7C1932.9 700.2 1944.5 701.8 1956.2 703.4C1967.9 704.9 1985.5 707.2 1991.3 708" stroke="#A9ABAE" stroke-width="3.6" fill="none" stroke-linecap="round"/><path d="M1886.1 684.6V701.3 M1879.6 684.6H1892.6 M1879.6 701.3H1892.6" stroke="#A8AAAD" stroke-width="3" fill="none"/><path d="M1814.4 683.9L1817.6 683.9L1823.4 697.9L1808.6 697.9Z M1849.4 686.9L1852.6 686.9L1858.4 700.9L1843.6 700.9Z M1884.5 686.9L1887.7 686.9L1893.5 700.9L1878.7 700.9Z M1919.6 685.7L1922.8 685.7L1928.6 699.7L1913.8 699.7Z M1954.6 695.9L1957.8 695.9L1963.6 709.9L1948.8 709.9Z M1989.7 709.4L1992.9 709.4L1998.7 723.4L1983.9 723.4Z" fill="#A8AAAD" stroke="#A8AAAD" stroke-width="1.8" stroke-linejoin="round"/><path d="M1742.5 761.2C1748.3 761.2 1765.8 761.2 1777.5 761.2C1789.2 761.2 1800.9 761.2 1812.6 761.2C1824.3 761.2 1836 761.2 1847.7 761.2C1859.4 761.2 1871 761.2 1882.7 761.2C1894.4 761.2 1912 761.2 1917.8 761.2" stroke="#D8878B" stroke-width="3.4" fill="none" stroke-linecap="round"/><rect x="1734.8" y="753.5" width="15.4" height="15.4" rx="2.5" fill="#EA7C7E" stroke="#DC7476" stroke-width="0.8"/><rect x="1769.8" y="753.5" width="15.4" height="15.4" rx="2.5" fill="#EA7C7E" stroke="#DC7476" stroke-width="0.8"/><rect x="1804.9" y="753.5" width="15.4" height="15.4" rx="2.5" fill="#EA7C7E" stroke="#DC7476" stroke-width="0.8"/><rect x="1840" y="753.5" width="15.4" height="15.4" rx="2.5" fill="#EA7C7E" stroke="#DC7476" stroke-width="0.8"/><rect x="1875" y="753.5" width="15.4" height="15.4" rx="2.5" fill="#EA7C7E" stroke="#DC7476" stroke-width="0.8"/><rect x="1910.1" y="753.5" width="15.4" height="15.4" rx="2.5" fill="#EA7C7E" stroke="#DC7476" stroke-width="0.8"/><path d="M1742.5 759C1748.3 759 1765.8 759 1777.5 759C1789.2 759 1800.9 759 1812.6 759C1824.3 759 1836 759 1847.7 759C1859.4 759 1871 759 1882.7 759C1894.4 759 1912 759 1917.8 759" stroke="#B5393D" stroke-width="3.6" fill="none" stroke-linecap="round"/><circle cx="1742.5" cy="759" r="7.7" fill="#D83232" stroke="#BC3636" stroke-width="0.8"/><circle cx="1777.5" cy="759" r="7.7" fill="#D83232" stroke="#BC3636" stroke-width="0.8"/><circle cx="1812.6" cy="759" r="7.7" fill="#D83232" stroke="#BC3636" stroke-width="0.8"/><circle cx="1847.7" cy="759" r="7.7" fill="#D83232" stroke="#BC3636" stroke-width="0.8"/><circle cx="1882.7" cy="759" r="7.7" fill="#D83232" stroke="#BC3636" stroke-width="0.8"/><circle cx="1917.8" cy="759" r="7.7" fill="#D83232" stroke="#BC3636" stroke-width="0.8"/><path d="M953.8 901.8V1165.4 M935.8 1147.4H1249.6 M935.8 1112.6H953.8 M935.8 1077.8H953.8 M935.8 1042.9H953.8 M935.8 1008.1H953.8 M935.8 973.3H953.8 M935.8 938.4H953.8 M935.8 903.6H953.8 M1027.3 1147.4V1165.4 M1100.8 1147.4V1165.4 M1174.3 1147.4V1165.4 M1247.8 1147.4V1165.4" stroke="#000" stroke-width="3.6" fill="none"/><g fill="#000"><circle cx="966.1" cy="1112.6" r="2.3"/><circle cx="978.9" cy="1112.6" r="2.3"/><circle cx="991.8" cy="1112.6" r="2.3"/><circle cx="1004.6" cy="1112.6" r="2.3"/><circle cx="1017.5" cy="1112.6" r="2.3"/><circle cx="1030.3" cy="1112.6" r="2.3"/><circle cx="1043.2" cy="1112.6" r="2.3"/><circle cx="1056" cy="1112.6" r="2.3"/><circle cx="1068.9" cy="1112.6" r="2.3"/><circle cx="1081.7" cy="1112.6" r="2.3"/><circle cx="1094.6" cy="1112.6" r="2.3"/><circle cx="1107.4" cy="1112.6" r="2.3"/><circle cx="1120.3" cy="1112.6" r="2.3"/><circle cx="1133.1" cy="1112.6" r="2.3"/><circle cx="1146" cy="1112.6" r="2.3"/><circle cx="1158.8" cy="1112.6" r="2.3"/><circle cx="1171.7" cy="1112.6" r="2.3"/><circle cx="1184.5" cy="1112.6" r="2.3"/><circle cx="1197.4" cy="1112.6" r="2.3"/><circle cx="1210.2" cy="1112.6" r="2.3"/><circle cx="1223.1" cy="1112.6" r="2.3"/><circle cx="1235.9" cy="1112.6" r="2.3"/></g><text x="930.2" y="1156.8" text-anchor="end" font-size="25.6">-25</text><text x="930.2" y="1122" text-anchor="end" font-size="25.6">0</text><text x="930.2" y="1087.2" text-anchor="end" font-size="25.6">25</text><text x="930.2" y="1052.3" text-anchor="end" font-size="25.6">50</text><text x="930.2" y="1017.5" text-anchor="end" font-size="25.6">75</text><text x="930.2" y="982.7" text-anchor="end" font-size="25.6">100</text><text x="930.2" y="947.8" text-anchor="end" font-size="25.6">125</text><text x="930.2" y="913" text-anchor="end" font-size="25.6">150</text><text transform="translate(880.5 1040.6) rotate(-90)" text-anchor="middle" font-size="26.3">% of DMSO control</text><text x="953.8" y="1195.5" text-anchor="middle" font-size="25.6">-2</text><text x="1027.3" y="1195.5" text-anchor="middle" font-size="25.6">-1</text><text x="1100.8" y="1195.5" text-anchor="middle" font-size="25.6">0</text><text x="1174.3" y="1195.5" text-anchor="middle" font-size="25.6">1</text><text x="1247.8" y="1195.5" text-anchor="middle" font-size="25.6">2</text><text x="1097.6" y="1228" text-anchor="middle" font-size="26.1">Conc. log10 (µM)</text><text x="1093" y="893" text-anchor="middle" font-size="26.1">Darapladib</text><path d="M1072.5 973.3 L1074.7 973.3 L1076.8 973.3 L1079 973.3 L1081.2 973.3 L1083.4 973.3 L1085.6 973.3 L1087.8 973.3 L1090 973.3 L1092.2 973.3 L1094.4 973.3 L1096.6 973.3 L1098.8 973.3 L1101 973.3 L1103.1 973.3 L1105.3 973.3 L1107.5 973.3 L1109.7 973.3 L1111.9 973.3 L1114.1 973.3 L1116.3 973.3 L1118.5 973.3 L1120.7 973.3 L1122.9 973.4 L1125.1 973.5 L1127.3 973.7 L1129.4 974.1 L1131.6 974.7 L1133.8 975.9 L1136 978.1 L1138.2 982 L1140.4 988.7 L1142.6 999.4 L1144.8 1015.1 L1147 1035.2 L1149.2 1056.7 L1151.4 1076 L1153.6 1090.6 L1155.7 1100.3 L1157.9 1106.3 L1160.1 1109.7 L1162.3 1111.7 L1164.5 1112.7 L1166.7 1113.3 L1168.9 1113.6 L1171.1 1113.8 L1173.3 1113.9 L1175.5 1113.9 L1177.7 1114 L1179.9 1114 L1182 1114 L1184.2 1114 L1186.4 1114 L1188.6 1114 L1190.8 1114 L1193 1114 L1195.2 1114 L1197.4 1114 L1199.6 1114 L1201.8 1114 L1204 1114 L1206.2 1114 L1208.3 1114 L1210.5 1114 L1212.7 1114 L1214.9 1114 L1217.1 1114 L1219.3 1114 L1221.5 1114 L1223.7 1114 L1225.9 1114 L1228.1 1114 L1230.3 1114 L1232.5 1114 L1234.6 1114 L1236.8 1114 L1239 1114 L1241.2 1114 L1243.4 1114 L1245.6 1114 L1247.8 1114" stroke="#A9ABAE" stroke-width="3.6" fill="none" stroke-linecap="round"/><path d="M1142.6 973.3V1031.8 M1136.1 973.3H1149.1 M1136.1 1031.8H1149.1" stroke="#A8AAAD" stroke-width="3" fill="none"/><path d="M1070.9 967.2L1074.1 967.2L1079.9 981.2L1065.1 981.2Z M1105.9 967.2L1109.1 967.2L1114.9 981.2L1100.1 981.2Z M1141 996.5L1144.2 996.5L1150 1010.5L1135.2 1010.5Z M1176.1 1112.1L1179.3 1112.1L1185.1 1126.1L1170.3 1126.1Z M1211.1 1111.5L1214.3 1111.5L1220.1 1125.5L1205.3 1125.5Z M1246.2 1112.8L1249.4 1112.8L1255.2 1126.8L1240.4 1126.8Z" fill="#A8AAAD" stroke="#A8AAAD" stroke-width="1.8" stroke-linejoin="round"/><path d="M999 974.7 L1001.2 974.7 L1003.3 974.7 L1005.5 974.7 L1007.7 974.7 L1009.9 974.7 L1012.1 974.7 L1014.3 974.7 L1016.5 974.7 L1018.7 974.7 L1020.9 974.7 L1023.1 974.7 L1025.3 974.7 L1027.5 974.7 L1029.6 974.7 L1031.8 974.7 L1034 974.7 L1036.2 974.7 L1038.4 974.8 L1040.6 974.8 L1042.8 974.8 L1045 974.8 L1047.2 974.9 L1049.4 974.9 L1051.6 974.9 L1053.8 975 L1055.9 975 L1058.1 975.1 L1060.3 975.2 L1062.5 975.3 L1064.7 975.4 L1066.9 975.5 L1069.1 975.7 L1071.3 975.8 L1073.5 976.1 L1075.7 976.3 L1077.9 976.6 L1080.1 977 L1082.2 977.4 L1084.4 977.9 L1086.6 978.5 L1088.8 979.1 L1091 979.9 L1093.2 980.9 L1095.4 982 L1097.6 983.2 L1099.8 984.7 L1102 986.4 L1104.2 988.3 L1106.4 990.5 L1108.5 993 L1110.7 995.9 L1112.9 999 L1115.1 1002.5 L1117.3 1006.3 L1119.5 1010.4 L1121.7 1014.9 L1123.9 1019.5 L1126.1 1024.4 L1128.3 1029.4 L1130.5 1034.5 L1132.7 1039.6 L1134.8 1044.5 L1137 1049.4 L1139.2 1054 L1141.4 1058.4 L1143.6 1062.4 L1145.8 1066.2 L1148 1069.6 L1150.2 1072.6 L1152.4 1075.4 L1154.6 1077.8 L1156.8 1080 L1159 1081.8 L1161.1 1083.5 L1163.3 1084.9 L1165.5 1086.1 L1167.7 1087.1 L1169.9 1088 L1172.1 1088.8 L1174.3 1089.5" stroke="#D8878B" stroke-width="3.4" fill="none" stroke-linecap="round"/><path d="M999 946.8V1024.3 M992.5 946.8H1005.5 M992.5 1024.3H1005.5 M1034 942.8V1034.7 M1027.5 942.8H1040.5 M1027.5 1034.7H1040.5 M1069.1 955.3V1002.7 M1062.6 955.3H1075.6 M1062.6 1002.7H1075.6 M1104.2 954.9V1025.9 M1097.7 954.9H1110.7 M1097.7 1025.9H1110.7 M1139.2 1024.8V1068.9 M1132.7 1024.8H1145.7 M1132.7 1068.9H1145.7" stroke="#D8878B" stroke-width="3" fill="none"/><rect x="991.3" y="977.8" width="15.4" height="15.4" rx="2.5" fill="#EA7C7E" stroke="#DC7476" stroke-width="0.8"/><rect x="1026.3" y="981" width="15.4" height="15.4" rx="2.5" fill="#EA7C7E" stroke="#DC7476" stroke-width="0.8"/><rect x="1061.4" y="971.3" width="15.4" height="15.4" rx="2.5" fill="#EA7C7E" stroke="#DC7476" stroke-width="0.8"/><rect x="1096.5" y="982.7" width="15.4" height="15.4" rx="2.5" fill="#EA7C7E" stroke="#DC7476" stroke-width="0.8"/><rect x="1131.5" y="1039.1" width="15.4" height="15.4" rx="2.5" fill="#EA7C7E" stroke="#DC7476" stroke-width="0.8"/><rect x="1166.6" y="1082.9" width="15.4" height="15.4" rx="2.5" fill="#EA7C7E" stroke="#DC7476" stroke-width="0.8"/><path d="M999 972.9 L1001.2 972.9 L1003.3 972.9 L1005.5 972.9 L1007.7 972.9 L1009.9 972.9 L1012.1 972.9 L1014.3 972.9 L1016.5 972.9 L1018.7 972.9 L1020.9 972.9 L1023.1 972.9 L1025.3 972.9 L1027.5 972.9 L1029.6 972.9 L1031.8 972.9 L1034 972.9 L1036.2 972.9 L1038.4 972.9 L1040.6 972.9 L1042.8 972.9 L1045 972.9 L1047.2 972.9 L1049.4 972.9 L1051.6 972.9 L1053.8 972.9 L1055.9 972.9 L1058.1 972.9 L1060.3 972.9 L1062.5 972.9 L1064.7 972.9 L1066.9 972.9 L1069.1 972.9 L1071.3 972.9 L1073.5 972.9 L1075.7 972.9 L1077.9 972.9 L1080.1 972.9 L1082.2 972.9 L1084.4 972.9 L1086.6 972.9 L1088.8 972.9 L1091 972.9 L1093.2 972.9 L1095.4 972.9 L1097.6 972.9 L1099.8 972.9 L1102 972.9 L1104.2 973 L1106.4 973.1 L1108.5 973.2 L1110.7 973.3 L1112.9 973.5 L1115.1 973.9 L1117.3 974.4 L1119.5 975.2 L1121.7 976.3 L1123.9 978 L1126.1 980.5 L1128.3 984.1 L1130.5 989.2 L1132.7 996.1 L1134.8 1005.2 L1137 1016.6 L1139.2 1029.8 L1141.4 1044 L1143.6 1058.2 L1145.8 1071.1 L1148 1082 L1150.2 1090.7 L1152.4 1097.3 L1154.6 1102.1 L1156.8 1105.5 L1159 1107.8 L1161.1 1109.4 L1163.3 1110.4 L1165.5 1111.2 L1167.7 1111.6 L1169.9 1112 L1172.1 1112.2 L1174.3 1112.3" stroke="#B5393D" stroke-width="3.6" fill="none" stroke-linecap="round"/><path d="M999 916.4V996.1 M992.5 916.4H1005.5 M992.5 996.1H1005.5 M1034 945.6V1012.2 M1027.5 945.6H1040.5 M1027.5 1012.2H1040.5 M1069.1 907.4V1018.8 M1062.6 907.4H1075.6 M1062.6 1018.8H1075.6 M1104.2 949.2V996.3 M1097.7 949.2H1110.7 M1097.7 996.3H1110.7" stroke="#B5393D" stroke-width="3" fill="none"/><circle cx="999" cy="956.3" r="7.7" fill="#D83232" stroke="#BC3636" stroke-width="0.8"/><circle cx="1034" cy="978.9" r="7.7" fill="#D83232" stroke="#BC3636" stroke-width="0.8"/><circle cx="1069.1" cy="963.1" r="7.7" fill="#D83232" stroke="#BC3636" stroke-width="0.8"/><circle cx="1104.2" cy="972.7" r="7.7" fill="#D83232" stroke="#BC3636" stroke-width="0.8"/><circle cx="1139.2" cy="1027.9" r="7.7" fill="#D83232" stroke="#BC3636" stroke-width="0.8"/><circle cx="1174.3" cy="1112" r="7.7" fill="#D83232" stroke="#BC3636" stroke-width="0.8"/><path d="M1322.3 901.8V1165.4 M1304.3 1147.4H1618.1 M1304.3 1112.6H1322.3 M1304.3 1077.8H1322.3 M1304.3 1042.9H1322.3 M1304.3 1008.1H1322.3 M1304.3 973.3H1322.3 M1304.3 938.4H1322.3 M1304.3 903.6H1322.3 M1395.8 1147.4V1165.4 M1469.3 1147.4V1165.4 M1542.8 1147.4V1165.4 M1616.3 1147.4V1165.4" stroke="#000" stroke-width="3.6" fill="none"/><g fill="#000"><circle cx="1334.6" cy="1112.6" r="2.3"/><circle cx="1347.4" cy="1112.6" r="2.3"/><circle cx="1360.3" cy="1112.6" r="2.3"/><circle cx="1373.1" cy="1112.6" r="2.3"/><circle cx="1386" cy="1112.6" r="2.3"/><circle cx="1398.8" cy="1112.6" r="2.3"/><circle cx="1411.7" cy="1112.6" r="2.3"/><circle cx="1424.5" cy="1112.6" r="2.3"/><circle cx="1437.4" cy="1112.6" r="2.3"/><circle cx="1450.2" cy="1112.6" r="2.3"/><circle cx="1463.1" cy="1112.6" r="2.3"/><circle cx="1475.9" cy="1112.6" r="2.3"/><circle cx="1488.8" cy="1112.6" r="2.3"/><circle cx="1501.6" cy="1112.6" r="2.3"/><circle cx="1514.5" cy="1112.6" r="2.3"/><circle cx="1527.3" cy="1112.6" r="2.3"/><circle cx="1540.2" cy="1112.6" r="2.3"/><circle cx="1553" cy="1112.6" r="2.3"/><circle cx="1565.9" cy="1112.6" r="2.3"/><circle cx="1578.7" cy="1112.6" r="2.3"/><circle cx="1591.6" cy="1112.6" r="2.3"/><circle cx="1604.4" cy="1112.6" r="2.3"/></g><text x="1322.3" y="1195.5" text-anchor="middle" font-size="25.6">-2</text><text x="1395.8" y="1195.5" text-anchor="middle" font-size="25.6">-1</text><text x="1469.3" y="1195.5" text-anchor="middle" font-size="25.6">0</text><text x="1542.8" y="1195.5" text-anchor="middle" font-size="25.6">1</text><text x="1616.3" y="1195.5" text-anchor="middle" font-size="25.6">2</text><text x="1466.1" y="1228" text-anchor="middle" font-size="26.1">Conc. log10 (µM)</text><text x="1469" y="893" text-anchor="middle" font-size="26.1">4SC6AH</text><path d="M1441 972.9C1446.8 972.9 1464.3 972.9 1476 972.9C1487.7 972.9 1499.4 972.9 1511.1 972.9C1522.8 972.9 1534.5 972.9 1546.2 972.9C1557.9 972.9 1569.5 972.9 1581.2 972.9C1592.9 972.9 1610.5 972.9 1616.3 972.9" stroke="#A9ABAE" stroke-width="3.6" fill="none" stroke-linecap="round"/><path d="M1476 967.7V981.6 M1469.5 967.7H1482.5 M1469.5 981.6H1482.5 M1546.2 964.9V982.5 M1539.7 964.9H1552.7 M1539.7 982.5H1552.7 M1581.2 957.5V972.3 M1574.7 957.5H1587.7 M1574.7 972.3H1587.7 M1616.3 962.3V978.7 M1609.8 962.3H1622.8 M1609.8 978.7H1622.8" stroke="#A8AAAD" stroke-width="3" fill="none"/><path d="M1439.4 974.2L1442.6 974.2L1448.4 988.2L1433.6 988.2Z M1474.4 968.6L1477.6 968.6L1483.4 982.6L1468.6 982.6Z M1509.5 965.1L1512.7 965.1L1518.5 979.1L1503.7 979.1Z M1544.6 967.6L1547.8 967.6L1553.6 981.6L1538.8 981.6Z M1579.6 958.8L1582.8 958.8L1588.6 972.8L1573.8 972.8Z M1614.7 964.4L1617.9 964.4L1623.7 978.4L1608.9 978.4Z" fill="#A8AAAD" stroke="#A8AAAD" stroke-width="1.8" stroke-linejoin="round"/><path d="M1367.5 974.5 L1369.7 974.6 L1371.8 974.8 L1374 974.9 L1376.2 975.1 L1378.4 975.3 L1380.6 975.4 L1382.8 975.7 L1385 975.9 L1387.2 976.2 L1389.4 976.4 L1391.6 976.8 L1393.8 977.1 L1396 977.5 L1398.1 977.9 L1400.3 978.3 L1402.5 978.8 L1404.7 979.3 L1406.9 979.9 L1409.1 980.6 L1411.3 981.3 L1413.5 982 L1415.7 982.8 L1417.9 983.7 L1420.1 984.7 L1422.3 985.7 L1424.4 986.9 L1426.6 988.1 L1428.8 989.4 L1431 990.8 L1433.2 992.4 L1435.4 994 L1437.6 995.8 L1439.8 997.6 L1442 999.6 L1444.2 1001.7 L1446.4 1004 L1448.6 1006.3 L1450.7 1008.8 L1452.9 1011.4 L1455.1 1014.1 L1457.3 1017 L1459.5 1019.9 L1461.7 1022.9 L1463.9 1026.1 L1466.1 1029.2 L1468.3 1032.5 L1470.5 1035.8 L1472.7 1039.1 L1474.9 1042.4 L1477 1045.8 L1479.2 1049.1 L1481.4 1052.4 L1483.6 1055.7 L1485.8 1058.9 L1488 1062 L1490.2 1065.1 L1492.4 1068.1 L1494.6 1070.9 L1496.8 1073.7 L1499 1076.3 L1501.2 1078.8 L1503.3 1081.2 L1505.5 1083.5 L1507.7 1085.6 L1509.9 1087.7 L1512.1 1089.6 L1514.3 1091.4 L1516.5 1093 L1518.7 1094.6 L1520.9 1096.1 L1523.1 1097.4 L1525.3 1098.7 L1527.5 1099.8 L1529.6 1100.9 L1531.8 1101.9 L1534 1102.8 L1536.2 1103.6 L1538.4 1104.4 L1540.6 1105.1 L1542.8 1105.8" stroke="#D8878B" stroke-width="3.4" fill="none" stroke-linecap="round"/><path d="M1367.5 956.6V978.9 M1361 956.6H1374 M1361 978.9H1374 M1437.6 997.9V1022.2 M1431.1 997.9H1444.1 M1431.1 1022.2H1444.1 M1472.7 1002.7V1049.8 M1466.2 1002.7H1479.2 M1466.2 1049.8H1479.2 M1507.7 1081.8V1109.7 M1501.2 1081.8H1514.2 M1501.2 1109.7H1514.2" stroke="#D8878B" stroke-width="3" fill="none"/><rect x="1359.8" y="960" width="15.4" height="15.4" rx="2.5" fill="#EA7C7E" stroke="#DC7476" stroke-width="0.8"/><rect x="1394.8" y="980.5" width="15.4" height="15.4" rx="2.5" fill="#EA7C7E" stroke="#DC7476" stroke-width="0.8"/><rect x="1429.9" y="1002.4" width="15.4" height="15.4" rx="2.5" fill="#EA7C7E" stroke="#DC7476" stroke-width="0.8"/><rect x="1465" y="1018.5" width="15.4" height="15.4" rx="2.5" fill="#EA7C7E" stroke="#DC7476" stroke-width="0.8"/><rect x="1500" y="1088" width="15.4" height="15.4" rx="2.5" fill="#EA7C7E" stroke="#DC7476" stroke-width="0.8"/><rect x="1535.1" y="1104.9" width="15.4" height="15.4" rx="2.5" fill="#EA7C7E" stroke="#DC7476" stroke-width="0.8"/><path d="M1367.5 973.5 L1369.7 973.5 L1371.8 973.5 L1374 973.5 L1376.2 973.6 L1378.4 973.6 L1380.6 973.6 L1382.8 973.7 L1385 973.7 L1387.2 973.8 L1389.4 973.8 L1391.6 973.9 L1393.8 973.9 L1396 974 L1398.1 974.1 L1400.3 974.2 L1402.5 974.3 L1404.7 974.4 L1406.9 974.6 L1409.1 974.7 L1411.3 974.9 L1413.5 975.1 L1415.7 975.3 L1417.9 975.5 L1420.1 975.7 L1422.3 976 L1424.4 976.3 L1426.6 976.7 L1428.8 977.1 L1431 977.5 L1433.2 978 L1435.4 978.5 L1437.6 979.1 L1439.8 979.7 L1442 980.4 L1444.2 981.2 L1446.4 982.1 L1448.6 983 L1450.7 984.1 L1452.9 985.2 L1455.1 986.5 L1457.3 987.8 L1459.5 989.3 L1461.7 991 L1463.9 992.7 L1466.1 994.7 L1468.3 996.7 L1470.5 998.9 L1472.7 1001.3 L1474.9 1003.9 L1477 1006.6 L1479.2 1009.4 L1481.4 1012.4 L1483.6 1015.6 L1485.8 1018.9 L1488 1022.3 L1490.2 1025.9 L1492.4 1029.5 L1494.6 1033.2 L1496.8 1037 L1499 1040.8 L1501.2 1044.7 L1503.3 1048.5 L1505.5 1052.3 L1507.7 1056 L1509.9 1059.6 L1512.1 1063.2 L1514.3 1066.6 L1516.5 1070 L1518.7 1073.1 L1520.9 1076.2 L1523.1 1079 L1525.3 1081.8 L1527.5 1084.3 L1529.6 1086.7 L1531.8 1089 L1534 1091 L1536.2 1093 L1538.4 1094.7 L1540.6 1096.4 L1542.8 1097.9" stroke="#B5393D" stroke-width="3.6" fill="none" stroke-linecap="round"/><path d="M1367.5 956.4V992.6 M1361 956.4H1374 M1361 992.6H1374 M1402.5 961.3V1010.3 M1396 961.3H1409 M1396 1010.3H1409 M1437.6 968V1016.5 M1431.1 968H1444.1 M1431.1 1016.5H1444.1 M1472.7 978.4V1030.3 M1466.2 978.4H1479.2 M1466.2 1030.3H1479.2 M1507.7 1031.9V1091.6 M1501.2 1031.9H1514.2 M1501.2 1091.6H1514.2" stroke="#B5393D" stroke-width="3" fill="none"/><circle cx="1367.5" cy="974.5" r="7.7" fill="#D83232" stroke="#BC3636" stroke-width="0.8"/><circle cx="1402.5" cy="985.8" r="7.7" fill="#D83232" stroke="#BC3636" stroke-width="0.8"/><circle cx="1437.6" cy="992.2" r="7.7" fill="#D83232" stroke="#BC3636" stroke-width="0.8"/><circle cx="1472.7" cy="1004.3" r="7.7" fill="#D83232" stroke="#BC3636" stroke-width="0.8"/><circle cx="1507.7" cy="1061.7" r="7.7" fill="#D83232" stroke="#BC3636" stroke-width="0.8"/><circle cx="1542.8" cy="1111.9" r="7.7" fill="#D83232" stroke="#BC3636" stroke-width="0.8"/><path d="M1697.3 901.8V1165.4 M1679.3 1147.4H1993.1 M1679.3 1112.6H1697.3 M1679.3 1077.8H1697.3 M1679.3 1042.9H1697.3 M1679.3 1008.1H1697.3 M1679.3 973.3H1697.3 M1679.3 938.4H1697.3 M1679.3 903.6H1697.3 M1770.8 1147.4V1165.4 M1844.3 1147.4V1165.4 M1917.8 1147.4V1165.4 M1991.3 1147.4V1165.4" stroke="#000" stroke-width="3.6" fill="none"/><g fill="#000"><circle cx="1709.6" cy="1112.6" r="2.3"/><circle cx="1722.4" cy="1112.6" r="2.3"/><circle cx="1735.3" cy="1112.6" r="2.3"/><circle cx="1748.1" cy="1112.6" r="2.3"/><circle cx="1761" cy="1112.6" r="2.3"/><circle cx="1773.8" cy="1112.6" r="2.3"/><circle cx="1786.7" cy="1112.6" r="2.3"/><circle cx="1799.5" cy="1112.6" r="2.3"/><circle cx="1812.4" cy="1112.6" r="2.3"/><circle cx="1825.2" cy="1112.6" r="2.3"/><circle cx="1838.1" cy="1112.6" r="2.3"/><circle cx="1850.9" cy="1112.6" r="2.3"/><circle cx="1863.8" cy="1112.6" r="2.3"/><circle cx="1876.6" cy="1112.6" r="2.3"/><circle cx="1889.5" cy="1112.6" r="2.3"/><circle cx="1902.3" cy="1112.6" r="2.3"/><circle cx="1915.2" cy="1112.6" r="2.3"/><circle cx="1928" cy="1112.6" r="2.3"/><circle cx="1940.9" cy="1112.6" r="2.3"/><circle cx="1953.7" cy="1112.6" r="2.3"/><circle cx="1966.6" cy="1112.6" r="2.3"/><circle cx="1979.4" cy="1112.6" r="2.3"/></g><text x="1697.3" y="1195.5" text-anchor="middle" font-size="25.6">-2</text><text x="1770.8" y="1195.5" text-anchor="middle" font-size="25.6">-1</text><text x="1844.3" y="1195.5" text-anchor="middle" font-size="25.6">0</text><text x="1917.8" y="1195.5" text-anchor="middle" font-size="25.6">1</text><text x="1991.3" y="1195.5" text-anchor="middle" font-size="25.6">2</text><text x="1841.1" y="1228" text-anchor="middle" font-size="26.1">Conc. log10 (µM)</text><text x="1838" y="893" text-anchor="middle" font-size="26.1">Lonafarnib</text><path d="M1816 974 L1818.2 974.1 L1820.3 974.2 L1822.5 974.3 L1824.7 974.4 L1826.9 974.6 L1829.1 974.7 L1831.3 974.8 L1833.5 975 L1835.7 975.2 L1837.9 975.4 L1840.1 975.6 L1842.3 975.9 L1844.5 976.2 L1846.6 976.5 L1848.8 976.8 L1851 977.2 L1853.2 977.6 L1855.4 978 L1857.6 978.5 L1859.8 979.1 L1862 979.7 L1864.2 980.3 L1866.4 981 L1868.6 981.8 L1870.8 982.7 L1872.9 983.6 L1875.1 984.7 L1877.3 985.8 L1879.5 987 L1881.7 988.3 L1883.9 989.8 L1886.1 991.3 L1888.3 993 L1890.5 994.8 L1892.7 996.8 L1894.9 998.9 L1897.1 1001.1 L1899.2 1003.4 L1901.4 1005.9 L1903.6 1008.6 L1905.8 1011.4 L1908 1014.3 L1910.2 1017.3 L1912.4 1020.5 L1914.6 1023.8 L1916.8 1027.1 L1919 1030.6 L1921.2 1034.1 L1923.4 1037.6 L1925.5 1041.2 L1927.7 1044.8 L1929.9 1048.4 L1932.1 1051.9 L1934.3 1055.4 L1936.5 1058.8 L1938.7 1062.2 L1940.9 1065.5 L1943.1 1068.6 L1945.3 1071.7 L1947.5 1074.6 L1949.7 1077.3 L1951.8 1080 L1954 1082.5 L1956.2 1084.9 L1958.4 1087.1 L1960.6 1089.1 L1962.8 1091.1 L1965 1092.9 L1967.2 1094.6 L1969.4 1096.1 L1971.6 1097.6 L1973.8 1098.9 L1976 1100.1 L1978.1 1101.2 L1980.3 1102.3 L1982.5 1103.2 L1984.7 1104.1 L1986.9 1104.9 L1989.1 1105.6 L1991.3 1106.2" stroke="#A9ABAE" stroke-width="3.6" fill="none" stroke-linecap="round"/><path d="M1851 963.1V995.4 M1844.5 963.1H1857.5 M1844.5 995.4H1857.5 M1921.2 1022.2V1041.7 M1914.7 1022.2H1927.7 M1914.7 1041.7H1927.7" stroke="#A8AAAD" stroke-width="3" fill="none"/><path d="M1814.4 970.8L1817.6 970.8L1823.4 984.8L1808.6 984.8Z M1849.4 973.2L1852.6 973.2L1858.4 987.2L1843.6 987.2Z M1884.5 993.4L1887.7 993.4L1893.5 1007.4L1878.7 1007.4Z M1919.6 1025.9L1922.8 1025.9L1928.6 1039.9L1913.8 1039.9Z M1954.6 1072L1957.8 1072L1963.6 1086L1948.8 1086Z M1989.7 1109.9L1992.9 1109.9L1998.7 1123.9L1983.9 1123.9Z" fill="#A8AAAD" stroke="#A8AAAD" stroke-width="1.8" stroke-linejoin="round"/><path d="M1742.5 1082.8C1748.3 1084.6 1765.8 1090.7 1777.5 1093.8C1789.2 1096.9 1800.9 1099.4 1812.6 1101.5C1824.3 1103.5 1836 1104.8 1847.7 1106.3C1859.4 1107.8 1871 1109.5 1882.7 1110.5C1894.4 1111.6 1912 1112.3 1917.8 1112.6" stroke="#D8878B" stroke-width="3.4" fill="none" stroke-linecap="round"/><rect x="1734.8" y="1075.1" width="15.4" height="15.4" rx="2.5" fill="#EA7C7E" stroke="#DC7476" stroke-width="0.8"/><rect x="1769.8" y="1084" width="15.4" height="15.4" rx="2.5" fill="#EA7C7E" stroke="#DC7476" stroke-width="0.8"/><rect x="1804.9" y="1093.8" width="15.4" height="15.4" rx="2.5" fill="#EA7C7E" stroke="#DC7476" stroke-width="0.8"/><rect x="1840" y="1099.3" width="15.4" height="15.4" rx="2.5" fill="#EA7C7E" stroke="#DC7476" stroke-width="0.8"/><rect x="1875" y="1104.9" width="15.4" height="15.4" rx="2.5" fill="#EA7C7E" stroke="#DC7476" stroke-width="0.8"/><rect x="1910.1" y="1106.3" width="15.4" height="15.4" rx="2.5" fill="#EA7C7E" stroke="#DC7476" stroke-width="0.8"/><path d="M1742.5 1056.9C1748.3 1058.7 1765.8 1064 1777.5 1068C1789.2 1072.1 1800.9 1077.2 1812.6 1081.3C1824.3 1085.3 1836 1089 1847.7 1092.4C1859.4 1095.8 1871 1098.6 1882.7 1101.5C1894.4 1104.4 1912 1108.4 1917.8 1109.8" stroke="#B5393D" stroke-width="3.6" fill="none" stroke-linecap="round"/><path d="M1847.7 1084.7V1098.7 M1841.2 1084.7H1854.2 M1841.2 1098.7H1854.2" stroke="#B5393D" stroke-width="3" fill="none"/><circle cx="1742.5" cy="1057" r="7.7" fill="#D83232" stroke="#BC3636" stroke-width="0.8"/><circle cx="1777.5" cy="1064.3" r="7.7" fill="#D83232" stroke="#BC3636" stroke-width="0.8"/><circle cx="1812.6" cy="1081.3" r="7.7" fill="#D83232" stroke="#BC3636" stroke-width="0.8"/><circle cx="1847.7" cy="1091.7" r="7.7" fill="#D83232" stroke="#BC3636" stroke-width="0.8"/><circle cx="1882.7" cy="1102.2" r="7.7" fill="#D83232" stroke="#BC3636" stroke-width="0.8"/><circle cx="1917.8" cy="1111.9" r="7.7" fill="#D83232" stroke="#BC3636" stroke-width="0.8"/>
<path d="M209.3 605.4V1160.8 M195.3 1146.8H750.1 M195.3 1146.8H209.3 M201.3 1106.2H209.3 M201.3 1082.4H209.3 M201.3 1065.5H209.3 M201.3 1052.4H209.3 M201.3 1041.7H209.3 M201.3 1032.7H209.3 M201.3 1024.9H209.3 M201.3 1018H209.3 M195.3 1011.8H209.3 M201.3 971.2H209.3 M201.3 947.4H209.3 M201.3 930.5H209.3 M201.3 917.4H209.3 M201.3 906.7H209.3 M201.3 897.7H209.3 M201.3 889.9H209.3 M201.3 883H209.3 M195.3 876.8H209.3 M201.3 836.2H209.3 M201.3 812.4H209.3 M201.3 795.5H209.3 M201.3 782.4H209.3 M201.3 771.7H209.3 M201.3 762.7H209.3 M201.3 754.9H209.3 M201.3 748H209.3 M195.3 741.8H209.3 M201.3 701.2H209.3 M201.3 677.4H209.3 M201.3 660.5H209.3 M201.3 647.4H209.3 M201.3 636.7H209.3 M201.3 627.7H209.3 M201.3 619.9H209.3 M201.3 613H209.3 M195.3 606.8H209.3 M209.3 1146.8V1160.8 M236.4 1146.8V1154.8 M252.2 1146.8V1154.8 M263.4 1146.8V1154.8 M272.1 1146.8V1154.8 M279.3 1146.8V1154.8 M285.3 1146.8V1154.8 M290.5 1146.8V1154.8 M295.1 1146.8V1154.8 M299.2 1146.8V1160.8 M326.3 1146.8V1154.8 M342.1 1146.8V1154.8 M353.3 1146.8V1154.8 M362 1146.8V1154.8 M369.2 1146.8V1154.8 M375.2 1146.8V1154.8 M380.4 1146.8V1154.8 M385 1146.8V1154.8 M389.1 1146.8V1160.8 M416.2 1146.8V1154.8 M432 1146.8V1154.8 M443.2 1146.8V1154.8 M451.9 1146.8V1154.8 M459.1 1146.8V1154.8 M465.1 1146.8V1154.8 M470.3 1146.8V1154.8 M474.9 1146.8V1154.8 M479 1146.8V1160.8 M506.1 1146.8V1154.8 M521.9 1146.8V1154.8 M533.1 1146.8V1154.8 M541.8 1146.8V1154.8 M549 1146.8V1154.8 M555 1146.8V1154.8 M560.2 1146.8V1154.8 M564.8 1146.8V1154.8 M568.9 1146.8V1160.8 M596 1146.8V1154.8 M611.8 1146.8V1154.8 M623 1146.8V1154.8 M631.7 1146.8V1154.8 M638.9 1146.8V1154.8 M644.9 1146.8V1154.8 M650.1 1146.8V1154.8 M654.7 1146.8V1154.8 M658.8 1146.8V1160.8 M685.9 1146.8V1154.8 M701.7 1146.8V1154.8 M712.9 1146.8V1154.8 M721.6 1146.8V1154.8 M728.8 1146.8V1154.8 M734.8 1146.8V1154.8 M740 1146.8V1154.8 M744.6 1146.8V1154.8 M748.7 1146.8V1160.8" stroke="#000" stroke-width="2.8" fill="none"/><text x="180.6" y="1156.9" text-anchor="end" font-size="25.8">10</text><text x="180.6" y="1148.4" font-size="15.5">-1</text><text x="180.6" y="1021.9" text-anchor="end" font-size="25.8">10</text><text x="180.6" y="1013.4" font-size="15.5">0</text><text x="180.6" y="886.9" text-anchor="end" font-size="25.8">10</text><text x="180.6" y="878.4" font-size="15.5">1</text><text x="180.6" y="751.9" text-anchor="end" font-size="25.8">10</text><text x="180.6" y="743.4" font-size="15.5">2</text><text x="180.6" y="616.9" text-anchor="end" font-size="25.8">10</text><text x="180.6" y="608.4" font-size="15.5">3</text><text x="184.7" y="1185.6" font-size="25.8">10<tspan font-size="15.5" dy="-8.6" dx="1.2">-2</tspan></text><text x="282.1" y="1185.6" font-size="25.8">10<tspan font-size="15.5" dy="-8.6" dx="1.2">-1</tspan></text><text x="375.9" y="1185.6" font-size="25.8">10<tspan font-size="15.5" dy="-8.6" dx="1.2">0</tspan></text><text x="464.6" y="1185.6" font-size="25.8">10<tspan font-size="15.5" dy="-8.6" dx="1.2">1</tspan></text><text x="556.1" y="1185.6" font-size="25.8">10<tspan font-size="15.5" dy="-8.6" dx="1.2">2</tspan></text><text x="644.6" y="1185.6" font-size="25.8">10<tspan font-size="15.5" dy="-8.6" dx="1.2">3</tspan></text><text x="734.4" y="1185.6" font-size="25.8">10<tspan font-size="15.5" dy="-8.6" dx="1.2">4</tspan></text><text x="471.5" y="1220.4" text-anchor="middle" font-size="26">Infection (% of DMSO control)</text><text transform="translate(143 885.6) rotate(-90)" text-anchor="middle" font-size="26">Cell viability (% of DMSO control)</text><text x="-0.5" y="617.7" font-size="34">B</text><path d="M207.8 756H748" stroke="#ABABAB" stroke-width="5" stroke-dasharray="8 14.6" stroke-linecap="round" fill="none" transform="translate(2.5 0)"/><path d="M496.9 607.4V1146" stroke="#ABABAB" stroke-width="5" stroke-dasharray="8 14.6" stroke-linecap="round" fill="none" transform="translate(0 2.5)"/><path d="M556 727C564.3 720.7 575.2 721 580 724C584.8 727 585.8 737.3 585 745C584.2 752.7 580 762.8 575 770C570 777.2 561.7 783.3 555 788C548.3 792.7 540.5 797.7 535 798C529.5 798.3 522.8 796 522 790C521.2 784 524.3 772.5 530 762C535.7 751.5 547.7 733.3 556 727Z" fill="#A9ABAE"/><path d="M578.3 725.8a4.85 4.85 0 1 0 9.7 0a4.85 4.85 0 1 0 -9.7 0M467.1 786.1a4.85 4.85 0 1 0 9.7 0a4.85 4.85 0 1 0 -9.7 0M555.3 732.3a4.85 4.85 0 1 0 9.7 0a4.85 4.85 0 1 0 -9.7 0M448.7 796.4a4.85 4.85 0 1 0 9.7 0a4.85 4.85 0 1 0 -9.7 0M516.8 804.9a4.85 4.85 0 1 0 9.7 0a4.85 4.85 0 1 0 -9.7 0M540.4 757.3a4.85 4.85 0 1 0 9.7 0a4.85 4.85 0 1 0 -9.7 0M564.3 777.3a4.85 4.85 0 1 0 9.7 0a4.85 4.85 0 1 0 -9.7 0M507 808.7a4.85 4.85 0 1 0 9.7 0a4.85 4.85 0 1 0 -9.7 0M487.4 791a4.85 4.85 0 1 0 9.7 0a4.85 4.85 0 1 0 -9.7 0M502.6 769a4.85 4.85 0 1 0 9.7 0a4.85 4.85 0 1 0 -9.7 0M554.3 760.9a4.85 4.85 0 1 0 9.7 0a4.85 4.85 0 1 0 -9.7 0M535.6 791.3a4.85 4.85 0 1 0 9.7 0a4.85 4.85 0 1 0 -9.7 0M539.3 774.8a4.85 4.85 0 1 0 9.7 0a4.85 4.85 0 1 0 -9.7 0M565.9 759a4.85 4.85 0 1 0 9.7 0a4.85 4.85 0 1 0 -9.7 0M513.2 784.1a4.85 4.85 0 1 0 9.7 0a4.85 4.85 0 1 0 -9.7 0M549.3 734.1a4.85 4.85 0 1 0 9.7 0a4.85 4.85 0 1 0 -9.7 0M523.9 803.2a4.85 4.85 0 1 0 9.7 0a4.85 4.85 0 1 0 -9.7 0M500.1 801a4.85 4.85 0 1 0 9.7 0a4.85 4.85 0 1 0 -9.7 0M541.8 798.3a4.85 4.85 0 1 0 9.7 0a4.85 4.85 0 1 0 -9.7 0M504.3 763.2a4.85 4.85 0 1 0 9.7 0a4.85 4.85 0 1 0 -9.7 0M566.5 762.3a4.85 4.85 0 1 0 9.7 0a4.85 4.85 0 1 0 -9.7 0M517.8 757.5a4.85 4.85 0 1 0 9.7 0a4.85 4.85 0 1 0 -9.7 0M496.4 823.8a4.85 4.85 0 1 0 9.7 0a4.85 4.85 0 1 0 -9.7 0M484.8 835.1a4.85 4.85 0 1 0 9.7 0a4.85 4.85 0 1 0 -9.7 0M489 770.4a4.85 4.85 0 1 0 9.7 0a4.85 4.85 0 1 0 -9.7 0M509.5 768.2a4.85 4.85 0 1 0 9.7 0a4.85 4.85 0 1 0 -9.7 0M473.8 776.8a4.85 4.85 0 1 0 9.7 0a4.85 4.85 0 1 0 -9.7 0M530.8 772.1a4.85 4.85 0 1 0 9.7 0a4.85 4.85 0 1 0 -9.7 0M558.1 744.4a4.85 4.85 0 1 0 9.7 0a4.85 4.85 0 1 0 -9.7 0M475 795.1a4.85 4.85 0 1 0 9.7 0a4.85 4.85 0 1 0 -9.7 0M534.8 794.5a4.85 4.85 0 1 0 9.7 0a4.85 4.85 0 1 0 -9.7 0M445.2 816.5a4.85 4.85 0 1 0 9.7 0a4.85 4.85 0 1 0 -9.7 0M475.6 784.2a4.85 4.85 0 1 0 9.7 0a4.85 4.85 0 1 0 -9.7 0M486.5 814.3a4.85 4.85 0 1 0 9.7 0a4.85 4.85 0 1 0 -9.7 0M570 737.5a4.85 4.85 0 1 0 9.7 0a4.85 4.85 0 1 0 -9.7 0M518.5 779.7a4.85 4.85 0 1 0 9.7 0a4.85 4.85 0 1 0 -9.7 0M546.3 728.8a4.85 4.85 0 1 0 9.7 0a4.85 4.85 0 1 0 -9.7 0M581.2 731a4.85 4.85 0 1 0 9.7 0a4.85 4.85 0 1 0 -9.7 0M574.5 728.8a4.85 4.85 0 1 0 9.7 0a4.85 4.85 0 1 0 -9.7 0M478.6 794a4.85 4.85 0 1 0 9.7 0a4.85 4.85 0 1 0 -9.7 0M450.8 798.4a4.85 4.85 0 1 0 9.7 0a4.85 4.85 0 1 0 -9.7 0M530.7 746.9a4.85 4.85 0 1 0 9.7 0a4.85 4.85 0 1 0 -9.7 0M468.4 815.1a4.85 4.85 0 1 0 9.7 0a4.85 4.85 0 1 0 -9.7 0M488.3 813.1a4.85 4.85 0 1 0 9.7 0a4.85 4.85 0 1 0 -9.7 0M439.6 803.5a4.85 4.85 0 1 0 9.7 0a4.85 4.85 0 1 0 -9.7 0M446.4 793.2a4.85 4.85 0 1 0 9.7 0a4.85 4.85 0 1 0 -9.7 0M480.1 821.5a4.85 4.85 0 1 0 9.7 0a4.85 4.85 0 1 0 -9.7 0M540.9 741.2a4.85 4.85 0 1 0 9.7 0a4.85 4.85 0 1 0 -9.7 0M564.7 729.6a4.85 4.85 0 1 0 9.7 0a4.85 4.85 0 1 0 -9.7 0M481.8 795.9a4.85 4.85 0 1 0 9.7 0a4.85 4.85 0 1 0 -9.7 0M561.9 770.7a4.85 4.85 0 1 0 9.7 0a4.85 4.85 0 1 0 -9.7 0M513.1 793a4.85 4.85 0 1 0 9.7 0a4.85 4.85 0 1 0 -9.7 0M551 765.4a4.85 4.85 0 1 0 9.7 0a4.85 4.85 0 1 0 -9.7 0M506.9 816.4a4.85 4.85 0 1 0 9.7 0a4.85 4.85 0 1 0 -9.7 0M530.5 770a4.85 4.85 0 1 0 9.7 0a4.85 4.85 0 1 0 -9.7 0M490.7 833.2a4.85 4.85 0 1 0 9.7 0a4.85 4.85 0 1 0 -9.7 0M445.2 803.6a4.85 4.85 0 1 0 9.7 0a4.85 4.85 0 1 0 -9.7 0M478.2 775.5a4.85 4.85 0 1 0 9.7 0a4.85 4.85 0 1 0 -9.7 0M557.6 767.4a4.85 4.85 0 1 0 9.7 0a4.85 4.85 0 1 0 -9.7 0M513.4 759a4.85 4.85 0 1 0 9.7 0a4.85 4.85 0 1 0 -9.7 0M511.6 766.3a4.85 4.85 0 1 0 9.7 0a4.85 4.85 0 1 0 -9.7 0M570.8 740a4.85 4.85 0 1 0 9.7 0a4.85 4.85 0 1 0 -9.7 0M516.9 778.1a4.85 4.85 0 1 0 9.7 0a4.85 4.85 0 1 0 -9.7 0M580.4 753.1a4.85 4.85 0 1 0 9.7 0a4.85 4.85 0 1 0 -9.7 0M565.6 741.4a4.85 4.85 0 1 0 9.7 0a4.85 4.85 0 1 0 -9.7 0M478.5 815.3a4.85 4.85 0 1 0 9.7 0a4.85 4.85 0 1 0 -9.7 0M554.3 790.5a4.85 4.85 0 1 0 9.7 0a4.85 4.85 0 1 0 -9.7 0M544.4 747.5a4.85 4.85 0 1 0 9.7 0a4.85 4.85 0 1 0 -9.7 0M469.8 804.6a4.85 4.85 0 1 0 9.7 0a4.85 4.85 0 1 0 -9.7 0M560.3 726.5a4.85 4.85 0 1 0 9.7 0a4.85 4.85 0 1 0 -9.7 0M523.2 777.5a4.85 4.85 0 1 0 9.7 0a4.85 4.85 0 1 0 -9.7 0M530.2 766.1a4.85 4.85 0 1 0 9.7 0a4.85 4.85 0 1 0 -9.7 0M566.5 778.6a4.85 4.85 0 1 0 9.7 0a4.85 4.85 0 1 0 -9.7 0M459 821.6a4.85 4.85 0 1 0 9.7 0a4.85 4.85 0 1 0 -9.7 0M512.1 792.1a4.85 4.85 0 1 0 9.7 0a4.85 4.85 0 1 0 -9.7 0M486.8 793.1a4.85 4.85 0 1 0 9.7 0a4.85 4.85 0 1 0 -9.7 0M471.8 810.2a4.85 4.85 0 1 0 9.7 0a4.85 4.85 0 1 0 -9.7 0M517.6 765.1a4.85 4.85 0 1 0 9.7 0a4.85 4.85 0 1 0 -9.7 0M542.2 787.5a4.85 4.85 0 1 0 9.7 0a4.85 4.85 0 1 0 -9.7 0M488.7 834.1a4.85 4.85 0 1 0 9.7 0a4.85 4.85 0 1 0 -9.7 0M496 769.6a4.85 4.85 0 1 0 9.7 0a4.85 4.85 0 1 0 -9.7 0M579 752.3a4.85 4.85 0 1 0 9.7 0a4.85 4.85 0 1 0 -9.7 0M457.5 793.2a4.85 4.85 0 1 0 9.7 0a4.85 4.85 0 1 0 -9.7 0M479.3 829a4.85 4.85 0 1 0 9.7 0a4.85 4.85 0 1 0 -9.7 0M582.7 742.1a4.85 4.85 0 1 0 9.7 0a4.85 4.85 0 1 0 -9.7 0M568.1 776.7a4.85 4.85 0 1 0 9.7 0a4.85 4.85 0 1 0 -9.7 0M517.5 762.5a4.85 4.85 0 1 0 9.7 0a4.85 4.85 0 1 0 -9.7 0M526.7 762.4a4.85 4.85 0 1 0 9.7 0a4.85 4.85 0 1 0 -9.7 0M509.9 807.6a4.85 4.85 0 1 0 9.7 0a4.85 4.85 0 1 0 -9.7 0M482.4 828.7a4.85 4.85 0 1 0 9.7 0a4.85 4.85 0 1 0 -9.7 0M465.6 803.3a4.85 4.85 0 1 0 9.7 0a4.85 4.85 0 1 0 -9.7 0M555.4 760.5a4.85 4.85 0 1 0 9.7 0a4.85 4.85 0 1 0 -9.7 0M490.2 782.3a4.85 4.85 0 1 0 9.7 0a4.85 4.85 0 1 0 -9.7 0M500.4 776.1a4.85 4.85 0 1 0 9.7 0a4.85 4.85 0 1 0 -9.7 0M542 781.1a4.85 4.85 0 1 0 9.7 0a4.85 4.85 0 1 0 -9.7 0M491.9 819a4.85 4.85 0 1 0 9.7 0a4.85 4.85 0 1 0 -9.7 0M534.8 799a4.85 4.85 0 1 0 9.7 0a4.85 4.85 0 1 0 -9.7 0M450.3 819.3a4.85 4.85 0 1 0 9.7 0a4.85 4.85 0 1 0 -9.7 0M473.9 803.3a4.85 4.85 0 1 0 9.7 0a4.85 4.85 0 1 0 -9.7 0M470.5 815.5a4.85 4.85 0 1 0 9.7 0a4.85 4.85 0 1 0 -9.7 0M556.9 731.3a4.85 4.85 0 1 0 9.7 0a4.85 4.85 0 1 0 -9.7 0M534.5 762.5a4.85 4.85 0 1 0 9.7 0a4.85 4.85 0 1 0 -9.7 0M466.1 789.6a4.85 4.85 0 1 0 9.7 0a4.85 4.85 0 1 0 -9.7 0M517.9 812.4a4.85 4.85 0 1 0 9.7 0a4.85 4.85 0 1 0 -9.7 0M506.9 808.8a4.85 4.85 0 1 0 9.7 0a4.85 4.85 0 1 0 -9.7 0M556.2 768.6a4.85 4.85 0 1 0 9.7 0a4.85 4.85 0 1 0 -9.7 0M475.8 773a4.85 4.85 0 1 0 9.7 0a4.85 4.85 0 1 0 -9.7 0M501.4 813.1a4.85 4.85 0 1 0 9.7 0a4.85 4.85 0 1 0 -9.7 0M509.2 789.2a4.85 4.85 0 1 0 9.7 0a4.85 4.85 0 1 0 -9.7 0M469.7 826.1a4.85 4.85 0 1 0 9.7 0a4.85 4.85 0 1 0 -9.7 0M491.2 798a4.85 4.85 0 1 0 9.7 0a4.85 4.85 0 1 0 -9.7 0M445.1 811a4.85 4.85 0 1 0 9.7 0a4.85 4.85 0 1 0 -9.7 0M445.6 815.6a4.85 4.85 0 1 0 9.7 0a4.85 4.85 0 1 0 -9.7 0M530.8 801.1a4.85 4.85 0 1 0 9.7 0a4.85 4.85 0 1 0 -9.7 0M542 772.6a4.85 4.85 0 1 0 9.7 0a4.85 4.85 0 1 0 -9.7 0M580.2 730.3a4.85 4.85 0 1 0 9.7 0a4.85 4.85 0 1 0 -9.7 0M519.6 802.7a4.85 4.85 0 1 0 9.7 0a4.85 4.85 0 1 0 -9.7 0M576.4 747a4.85 4.85 0 1 0 9.7 0a4.85 4.85 0 1 0 -9.7 0M445 817.8a4.85 4.85 0 1 0 9.7 0a4.85 4.85 0 1 0 -9.7 0M442.6 817.6a4.85 4.85 0 1 0 9.7 0a4.85 4.85 0 1 0 -9.7 0M480.5 823.5a4.85 4.85 0 1 0 9.7 0a4.85 4.85 0 1 0 -9.7 0M522.7 780a4.85 4.85 0 1 0 9.7 0a4.85 4.85 0 1 0 -9.7 0M551.7 745.9a4.85 4.85 0 1 0 9.7 0a4.85 4.85 0 1 0 -9.7 0M452.9 807.8a4.85 4.85 0 1 0 9.7 0a4.85 4.85 0 1 0 -9.7 0M547.7 727.1a4.85 4.85 0 1 0 9.7 0a4.85 4.85 0 1 0 -9.7 0M482.3 792.8a4.85 4.85 0 1 0 9.7 0a4.85 4.85 0 1 0 -9.7 0M581.5 749.5a4.85 4.85 0 1 0 9.7 0a4.85 4.85 0 1 0 -9.7 0M574.2 728.6a4.85 4.85 0 1 0 9.7 0a4.85 4.85 0 1 0 -9.7 0M496.7 827.3a4.85 4.85 0 1 0 9.7 0a4.85 4.85 0 1 0 -9.7 0M482.9 812.5a4.85 4.85 0 1 0 9.7 0a4.85 4.85 0 1 0 -9.7 0M570.1 743.3a4.85 4.85 0 1 0 9.7 0a4.85 4.85 0 1 0 -9.7 0M535.8 763.9a4.85 4.85 0 1 0 9.7 0a4.85 4.85 0 1 0 -9.7 0M510.8 770.9a4.85 4.85 0 1 0 9.7 0a4.85 4.85 0 1 0 -9.7 0M550.2 762.2a4.85 4.85 0 1 0 9.7 0a4.85 4.85 0 1 0 -9.7 0M553.9 772.2a4.85 4.85 0 1 0 9.7 0a4.85 4.85 0 1 0 -9.7 0M568.1 730.6a4.85 4.85 0 1 0 9.7 0a4.85 4.85 0 1 0 -9.7 0M499.7 822.4a4.85 4.85 0 1 0 9.7 0a4.85 4.85 0 1 0 -9.7 0M549 764.4a4.85 4.85 0 1 0 9.7 0a4.85 4.85 0 1 0 -9.7 0M542.3 740.4a4.85 4.85 0 1 0 9.7 0a4.85 4.85 0 1 0 -9.7 0M501.8 767.2a4.85 4.85 0 1 0 9.7 0a4.85 4.85 0 1 0 -9.7 0M502.6 817.5a4.85 4.85 0 1 0 9.7 0a4.85 4.85 0 1 0 -9.7 0M495.9 802.4a4.85 4.85 0 1 0 9.7 0a4.85 4.85 0 1 0 -9.7 0M568 761.2a4.85 4.85 0 1 0 9.7 0a4.85 4.85 0 1 0 -9.7 0M528.1 760.7a4.85 4.85 0 1 0 9.7 0a4.85 4.85 0 1 0 -9.7 0M528.5 785.2a4.85 4.85 0 1 0 9.7 0a4.85 4.85 0 1 0 -9.7 0M538.2 793.2a4.85 4.85 0 1 0 9.7 0a4.85 4.85 0 1 0 -9.7 0M549.3 767a4.85 4.85 0 1 0 9.7 0a4.85 4.85 0 1 0 -9.7 0M477.8 804.9a4.85 4.85 0 1 0 9.7 0a4.85 4.85 0 1 0 -9.7 0M512.4 775.7a4.85 4.85 0 1 0 9.7 0a4.85 4.85 0 1 0 -9.7 0M539.8 744.1a4.85 4.85 0 1 0 9.7 0a4.85 4.85 0 1 0 -9.7 0M541.1 774.6a4.85 4.85 0 1 0 9.7 0a4.85 4.85 0 1 0 -9.7 0M571.7 755.9a4.85 4.85 0 1 0 9.7 0a4.85 4.85 0 1 0 -9.7 0M564.9 780.3a4.85 4.85 0 1 0 9.7 0a4.85 4.85 0 1 0 -9.7 0M522 773.2a4.85 4.85 0 1 0 9.7 0a4.85 4.85 0 1 0 -9.7 0M529.7 766.8a4.85 4.85 0 1 0 9.7 0a4.85 4.85 0 1 0 -9.7 0M574.6 752.8a4.85 4.85 0 1 0 9.7 0a4.85 4.85 0 1 0 -9.7 0M527.7 792.7a4.85 4.85 0 1 0 9.7 0a4.85 4.85 0 1 0 -9.7 0M501 812.8a4.85 4.85 0 1 0 9.7 0a4.85 4.85 0 1 0 -9.7 0M531.7 749.8a4.85 4.85 0 1 0 9.7 0a4.85 4.85 0 1 0 -9.7 0M543.1 781.4a4.85 4.85 0 1 0 9.7 0a4.85 4.85 0 1 0 -9.7 0M569.2 734.8a4.85 4.85 0 1 0 9.7 0a4.85 4.85 0 1 0 -9.7 0M479.5 797.5a4.85 4.85 0 1 0 9.7 0a4.85 4.85 0 1 0 -9.7 0M575.6 761.9a4.85 4.85 0 1 0 9.7 0a4.85 4.85 0 1 0 -9.7 0M468.6 796.7a4.85 4.85 0 1 0 9.7 0a4.85 4.85 0 1 0 -9.7 0M529.5 773.6a4.85 4.85 0 1 0 9.7 0a4.85 4.85 0 1 0 -9.7 0M537.2 744.1a4.85 4.85 0 1 0 9.7 0a4.85 4.85 0 1 0 -9.7 0M557.5 752.9a4.85 4.85 0 1 0 9.7 0a4.85 4.85 0 1 0 -9.7 0M559.1 740.9a4.85 4.85 0 1 0 9.7 0a4.85 4.85 0 1 0 -9.7 0M558.2 745.7a4.85 4.85 0 1 0 9.7 0a4.85 4.85 0 1 0 -9.7 0M455 810.8a4.85 4.85 0 1 0 9.7 0a4.85 4.85 0 1 0 -9.7 0M490.3 790.2a4.85 4.85 0 1 0 9.7 0a4.85 4.85 0 1 0 -9.7 0M551.7 792.9a4.85 4.85 0 1 0 9.7 0a4.85 4.85 0 1 0 -9.7 0M559.6 751.3a4.85 4.85 0 1 0 9.7 0a4.85 4.85 0 1 0 -9.7 0M460 803a4.85 4.85 0 1 0 9.7 0a4.85 4.85 0 1 0 -9.7 0M473 812.3a4.85 4.85 0 1 0 9.7 0a4.85 4.85 0 1 0 -9.7 0M532.1 806.7a4.85 4.85 0 1 0 9.7 0a4.85 4.85 0 1 0 -9.7 0M551.2 758.5a4.85 4.85 0 1 0 9.7 0a4.85 4.85 0 1 0 -9.7 0M476.5 788.4a4.85 4.85 0 1 0 9.7 0a4.85 4.85 0 1 0 -9.7 0M536.6 753.7a4.85 4.85 0 1 0 9.7 0a4.85 4.85 0 1 0 -9.7 0M505.1 794.1a4.85 4.85 0 1 0 9.7 0a4.85 4.85 0 1 0 -9.7 0M543.3 797.5a4.85 4.85 0 1 0 9.7 0a4.85 4.85 0 1 0 -9.7 0M537.7 756.3a4.85 4.85 0 1 0 9.7 0a4.85 4.85 0 1 0 -9.7 0M487.7 796.3a4.85 4.85 0 1 0 9.7 0a4.85 4.85 0 1 0 -9.7 0M544.9 742.3a4.85 4.85 0 1 0 9.7 0a4.85 4.85 0 1 0 -9.7 0M553.4 741.7a4.85 4.85 0 1 0 9.7 0a4.85 4.85 0 1 0 -9.7 0M439.5 818.8a4.85 4.85 0 1 0 9.7 0a4.85 4.85 0 1 0 -9.7 0M571.3 730.5a4.85 4.85 0 1 0 9.7 0a4.85 4.85 0 1 0 -9.7 0M553.7 756.7a4.85 4.85 0 1 0 9.7 0a4.85 4.85 0 1 0 -9.7 0M515.5 803.4a4.85 4.85 0 1 0 9.7 0a4.85 4.85 0 1 0 -9.7 0M509 802a4.85 4.85 0 1 0 9.7 0a4.85 4.85 0 1 0 -9.7 0M479.3 779.9a4.85 4.85 0 1 0 9.7 0a4.85 4.85 0 1 0 -9.7 0M563.2 743.8a4.85 4.85 0 1 0 9.7 0a4.85 4.85 0 1 0 -9.7 0M475 798.1a4.85 4.85 0 1 0 9.7 0a4.85 4.85 0 1 0 -9.7 0M558.6 724.7a4.85 4.85 0 1 0 9.7 0a4.85 4.85 0 1 0 -9.7 0M555.4 786a4.85 4.85 0 1 0 9.7 0a4.85 4.85 0 1 0 -9.7 0M513.7 773.5a4.85 4.85 0 1 0 9.7 0a4.85 4.85 0 1 0 -9.7 0M477.5 818.9a4.85 4.85 0 1 0 9.7 0a4.85 4.85 0 1 0 -9.7 0M530.8 783.3a4.85 4.85 0 1 0 9.7 0a4.85 4.85 0 1 0 -9.7 0M539.4 783a4.85 4.85 0 1 0 9.7 0a4.85 4.85 0 1 0 -9.7 0M478.5 779a4.85 4.85 0 1 0 9.7 0a4.85 4.85 0 1 0 -9.7 0M474.7 809.8a4.85 4.85 0 1 0 9.7 0a4.85 4.85 0 1 0 -9.7 0M497.5 827.2a4.85 4.85 0 1 0 9.7 0a4.85 4.85 0 1 0 -9.7 0M512.9 762.2a4.85 4.85 0 1 0 9.7 0a4.85 4.85 0 1 0 -9.7 0M574.8 723.3a4.85 4.85 0 1 0 9.7 0a4.85 4.85 0 1 0 -9.7 0M529.7 776.6a4.85 4.85 0 1 0 9.7 0a4.85 4.85 0 1 0 -9.7 0M558 778.9a4.85 4.85 0 1 0 9.7 0a4.85 4.85 0 1 0 -9.7 0M462.7 799.5a4.85 4.85 0 1 0 9.7 0a4.85 4.85 0 1 0 -9.7 0M528.4 780.4a4.85 4.85 0 1 0 9.7 0a4.85 4.85 0 1 0 -9.7 0M530.8 792.5a4.85 4.85 0 1 0 9.7 0a4.85 4.85 0 1 0 -9.7 0M546.2 737.1a4.85 4.85 0 1 0 9.7 0a4.85 4.85 0 1 0 -9.7 0M542 756a4.85 4.85 0 1 0 9.7 0a4.85 4.85 0 1 0 -9.7 0M539.3 760.1a4.85 4.85 0 1 0 9.7 0a4.85 4.85 0 1 0 -9.7 0M456.4 791.3a4.85 4.85 0 1 0 9.7 0a4.85 4.85 0 1 0 -9.7 0M528.8 809.4a4.85 4.85 0 1 0 9.7 0a4.85 4.85 0 1 0 -9.7 0M566.6 750.2a4.85 4.85 0 1 0 9.7 0a4.85 4.85 0 1 0 -9.7 0M550.4 755.1a4.85 4.85 0 1 0 9.7 0a4.85 4.85 0 1 0 -9.7 0M536.9 776a4.85 4.85 0 1 0 9.7 0a4.85 4.85 0 1 0 -9.7 0M536.6 746.7a4.85 4.85 0 1 0 9.7 0a4.85 4.85 0 1 0 -9.7 0M496.8 776a4.85 4.85 0 1 0 9.7 0a4.85 4.85 0 1 0 -9.7 0M554.4 790.5a4.85 4.85 0 1 0 9.7 0a4.85 4.85 0 1 0 -9.7 0M552.4 786.6a4.85 4.85 0 1 0 9.7 0a4.85 4.85 0 1 0 -9.7 0M447.4 812.3a4.85 4.85 0 1 0 9.7 0a4.85 4.85 0 1 0 -9.7 0M555 764.2a4.85 4.85 0 1 0 9.7 0a4.85 4.85 0 1 0 -9.7 0M554.3 740.2a4.85 4.85 0 1 0 9.7 0a4.85 4.85 0 1 0 -9.7 0M543.5 748.3a4.85 4.85 0 1 0 9.7 0a4.85 4.85 0 1 0 -9.7 0M464 812.4a4.85 4.85 0 1 0 9.7 0a4.85 4.85 0 1 0 -9.7 0M464.3 786.8a4.85 4.85 0 1 0 9.7 0a4.85 4.85 0 1 0 -9.7 0M510.1 801.1a4.85 4.85 0 1 0 9.7 0a4.85 4.85 0 1 0 -9.7 0M541.1 764.2a4.85 4.85 0 1 0 9.7 0a4.85 4.85 0 1 0 -9.7 0M458 823a4.85 4.85 0 1 0 9.7 0a4.85 4.85 0 1 0 -9.7 0M446.4 805.7a4.85 4.85 0 1 0 9.7 0a4.85 4.85 0 1 0 -9.7 0M569.5 730.5a4.85 4.85 0 1 0 9.7 0a4.85 4.85 0 1 0 -9.7 0M553.5 758.4a4.85 4.85 0 1 0 9.7 0a4.85 4.85 0 1 0 -9.7 0M459.6 798.2a4.85 4.85 0 1 0 9.7 0a4.85 4.85 0 1 0 -9.7 0M468.9 779.1a4.85 4.85 0 1 0 9.7 0a4.85 4.85 0 1 0 -9.7 0M520.3 804.6a4.85 4.85 0 1 0 9.7 0a4.85 4.85 0 1 0 -9.7 0M524 783.8a4.85 4.85 0 1 0 9.7 0a4.85 4.85 0 1 0 -9.7 0M523.1 799.3a4.85 4.85 0 1 0 9.7 0a4.85 4.85 0 1 0 -9.7 0M565 723.5a4.85 4.85 0 1 0 9.7 0a4.85 4.85 0 1 0 -9.7 0M544.3 762.7a4.85 4.85 0 1 0 9.7 0a4.85 4.85 0 1 0 -9.7 0M549.2 764.2a4.85 4.85 0 1 0 9.7 0a4.85 4.85 0 1 0 -9.7 0M541.4 748.2a4.85 4.85 0 1 0 9.7 0a4.85 4.85 0 1 0 -9.7 0M543.4 735.8a4.85 4.85 0 1 0 9.7 0a4.85 4.85 0 1 0 -9.7 0M540.7 783.2a4.85 4.85 0 1 0 9.7 0a4.85 4.85 0 1 0 -9.7 0M468.6 818.1a4.85 4.85 0 1 0 9.7 0a4.85 4.85 0 1 0 -9.7 0M504 785.7a4.85 4.85 0 1 0 9.7 0a4.85 4.85 0 1 0 -9.7 0M553.9 761.5a4.85 4.85 0 1 0 9.7 0a4.85 4.85 0 1 0 -9.7 0M545.4 770.1a4.85 4.85 0 1 0 9.7 0a4.85 4.85 0 1 0 -9.7 0M488.1 791.6a4.85 4.85 0 1 0 9.7 0a4.85 4.85 0 1 0 -9.7 0M559.5 774.4a4.85 4.85 0 1 0 9.7 0a4.85 4.85 0 1 0 -9.7 0M526.9 753.1a4.85 4.85 0 1 0 9.7 0a4.85 4.85 0 1 0 -9.7 0M449.6 814.3a4.85 4.85 0 1 0 9.7 0a4.85 4.85 0 1 0 -9.7 0M453.5 796.8a4.85 4.85 0 1 0 9.7 0a4.85 4.85 0 1 0 -9.7 0M549.4 747.4a4.85 4.85 0 1 0 9.7 0a4.85 4.85 0 1 0 -9.7 0M489.2 774.3a4.85 4.85 0 1 0 9.7 0a4.85 4.85 0 1 0 -9.7 0M490.5 788.4a4.85 4.85 0 1 0 9.7 0a4.85 4.85 0 1 0 -9.7 0M534.2 756.1a4.85 4.85 0 1 0 9.7 0a4.85 4.85 0 1 0 -9.7 0M532.3 787.4a4.85 4.85 0 1 0 9.7 0a4.85 4.85 0 1 0 -9.7 0M505.2 766.9a4.85 4.85 0 1 0 9.7 0a4.85 4.85 0 1 0 -9.7 0M574.5 762.2a4.85 4.85 0 1 0 9.7 0a4.85 4.85 0 1 0 -9.7 0M520.7 803.4a4.85 4.85 0 1 0 9.7 0a4.85 4.85 0 1 0 -9.7 0M449.9 805.3a4.85 4.85 0 1 0 9.7 0a4.85 4.85 0 1 0 -9.7 0M508.6 773.2a4.85 4.85 0 1 0 9.7 0a4.85 4.85 0 1 0 -9.7 0M550.8 762a4.85 4.85 0 1 0 9.7 0a4.85 4.85 0 1 0 -9.7 0M460.4 809a4.85 4.85 0 1 0 9.7 0a4.85 4.85 0 1 0 -9.7 0M545.1 731.4a4.85 4.85 0 1 0 9.7 0a4.85 4.85 0 1 0 -9.7 0M541.3 770a4.85 4.85 0 1 0 9.7 0a4.85 4.85 0 1 0 -9.7 0M548.6 770.2a4.85 4.85 0 1 0 9.7 0a4.85 4.85 0 1 0 -9.7 0M492.4 775.2a4.85 4.85 0 1 0 9.7 0a4.85 4.85 0 1 0 -9.7 0M561.4 728.9a4.85 4.85 0 1 0 9.7 0a4.85 4.85 0 1 0 -9.7 0M564.5 758.3a4.85 4.85 0 1 0 9.7 0a4.85 4.85 0 1 0 -9.7 0M531.4 763.3a4.85 4.85 0 1 0 9.7 0a4.85 4.85 0 1 0 -9.7 0M467.4 821.6a4.85 4.85 0 1 0 9.7 0a4.85 4.85 0 1 0 -9.7 0M456.2 822.4a4.85 4.85 0 1 0 9.7 0a4.85 4.85 0 1 0 -9.7 0M480.7 786.1a4.85 4.85 0 1 0 9.7 0a4.85 4.85 0 1 0 -9.7 0M543.7 747.1a4.85 4.85 0 1 0 9.7 0a4.85 4.85 0 1 0 -9.7 0M529.8 761.6a4.85 4.85 0 1 0 9.7 0a4.85 4.85 0 1 0 -9.7 0M489.1 819.4a4.85 4.85 0 1 0 9.7 0a4.85 4.85 0 1 0 -9.7 0M565.3 751.6a4.85 4.85 0 1 0 9.7 0a4.85 4.85 0 1 0 -9.7 0M471.9 816.4a4.85 4.85 0 1 0 9.7 0a4.85 4.85 0 1 0 -9.7 0M573 769.3a4.85 4.85 0 1 0 9.7 0a4.85 4.85 0 1 0 -9.7 0M553.1 757.9a4.85 4.85 0 1 0 9.7 0a4.85 4.85 0 1 0 -9.7 0M548.7 773.4a4.85 4.85 0 1 0 9.7 0a4.85 4.85 0 1 0 -9.7 0M512.3 760.5a4.85 4.85 0 1 0 9.7 0a4.85 4.85 0 1 0 -9.7 0M459.6 819.6a4.85 4.85 0 1 0 9.7 0a4.85 4.85 0 1 0 -9.7 0M449.9 825.1a4.85 4.85 0 1 0 9.7 0a4.85 4.85 0 1 0 -9.7 0M550 751.2a4.85 4.85 0 1 0 9.7 0a4.85 4.85 0 1 0 -9.7 0M552.9 784.5a4.85 4.85 0 1 0 9.7 0a4.85 4.85 0 1 0 -9.7 0M531.6 778.9a4.85 4.85 0 1 0 9.7 0a4.85 4.85 0 1 0 -9.7 0M532.4 796.1a4.85 4.85 0 1 0 9.7 0a4.85 4.85 0 1 0 -9.7 0M547.3 737.6a4.85 4.85 0 1 0 9.7 0a4.85 4.85 0 1 0 -9.7 0M485.5 793.9a4.85 4.85 0 1 0 9.7 0a4.85 4.85 0 1 0 -9.7 0M520.8 806.5a4.85 4.85 0 1 0 9.7 0a4.85 4.85 0 1 0 -9.7 0M533.1 769.8a4.85 4.85 0 1 0 9.7 0a4.85 4.85 0 1 0 -9.7 0M451 824.6a4.85 4.85 0 1 0 9.7 0a4.85 4.85 0 1 0 -9.7 0M483.6 807.2a4.85 4.85 0 1 0 9.7 0a4.85 4.85 0 1 0 -9.7 0M551.9 788.3a4.85 4.85 0 1 0 9.7 0a4.85 4.85 0 1 0 -9.7 0M475 811.2a4.85 4.85 0 1 0 9.7 0a4.85 4.85 0 1 0 -9.7 0M518.1 758.4a4.85 4.85 0 1 0 9.7 0a4.85 4.85 0 1 0 -9.7 0M572.3 758.3a4.85 4.85 0 1 0 9.7 0a4.85 4.85 0 1 0 -9.7 0M480.5 777.1a4.85 4.85 0 1 0 9.7 0a4.85 4.85 0 1 0 -9.7 0M539.1 747.9a4.85 4.85 0 1 0 9.7 0a4.85 4.85 0 1 0 -9.7 0M491.3 777.9a4.85 4.85 0 1 0 9.7 0a4.85 4.85 0 1 0 -9.7 0M511.8 761.5a4.85 4.85 0 1 0 9.7 0a4.85 4.85 0 1 0 -9.7 0M543.9 780.4a4.85 4.85 0 1 0 9.7 0a4.85 4.85 0 1 0 -9.7 0M541.2 769.4a4.85 4.85 0 1 0 9.7 0a4.85 4.85 0 1 0 -9.7 0M484.3 799.4a4.85 4.85 0 1 0 9.7 0a4.85 4.85 0 1 0 -9.7 0M507.6 778.9a4.85 4.85 0 1 0 9.7 0a4.85 4.85 0 1 0 -9.7 0M559.9 736.5a4.85 4.85 0 1 0 9.7 0a4.85 4.85 0 1 0 -9.7 0M526.2 808.4a4.85 4.85 0 1 0 9.7 0a4.85 4.85 0 1 0 -9.7 0M523.7 784.2a4.85 4.85 0 1 0 9.7 0a4.85 4.85 0 1 0 -9.7 0M533.4 777.2a4.85 4.85 0 1 0 9.7 0a4.85 4.85 0 1 0 -9.7 0M543.1 756.6a4.85 4.85 0 1 0 9.7 0a4.85 4.85 0 1 0 -9.7 0M533.8 740.7a4.85 4.85 0 1 0 9.7 0a4.85 4.85 0 1 0 -9.7 0M505.5 784.3a4.85 4.85 0 1 0 9.7 0a4.85 4.85 0 1 0 -9.7 0M566.4 776.3a4.85 4.85 0 1 0 9.7 0a4.85 4.85 0 1 0 -9.7 0M524.6 774.9a4.85 4.85 0 1 0 9.7 0a4.85 4.85 0 1 0 -9.7 0M466.1 818.6a4.85 4.85 0 1 0 9.7 0a4.85 4.85 0 1 0 -9.7 0M581.8 737.2a4.85 4.85 0 1 0 9.7 0a4.85 4.85 0 1 0 -9.7 0M566.9 770a4.85 4.85 0 1 0 9.7 0a4.85 4.85 0 1 0 -9.7 0M549.5 750.9a4.85 4.85 0 1 0 9.7 0a4.85 4.85 0 1 0 -9.7 0M467.8 806.1a4.85 4.85 0 1 0 9.7 0a4.85 4.85 0 1 0 -9.7 0M549.6 767.7a4.85 4.85 0 1 0 9.7 0a4.85 4.85 0 1 0 -9.7 0M578.7 750.3a4.85 4.85 0 1 0 9.7 0a4.85 4.85 0 1 0 -9.7 0M544.8 789.2a4.85 4.85 0 1 0 9.7 0a4.85 4.85 0 1 0 -9.7 0M493.8 825.4a4.85 4.85 0 1 0 9.7 0a4.85 4.85 0 1 0 -9.7 0M546.3 768.4a4.85 4.85 0 1 0 9.7 0a4.85 4.85 0 1 0 -9.7 0M556.6 751.5a4.85 4.85 0 1 0 9.7 0a4.85 4.85 0 1 0 -9.7 0M503.7 818.6a4.85 4.85 0 1 0 9.7 0a4.85 4.85 0 1 0 -9.7 0M449.2 810.4a4.85 4.85 0 1 0 9.7 0a4.85 4.85 0 1 0 -9.7 0M556.9 751.9a4.85 4.85 0 1 0 9.7 0a4.85 4.85 0 1 0 -9.7 0M473.6 813.6a4.85 4.85 0 1 0 9.7 0a4.85 4.85 0 1 0 -9.7 0M518 784.5a4.85 4.85 0 1 0 9.7 0a4.85 4.85 0 1 0 -9.7 0M482.9 796.1a4.85 4.85 0 1 0 9.7 0a4.85 4.85 0 1 0 -9.7 0M558.7 736.7a4.85 4.85 0 1 0 9.7 0a4.85 4.85 0 1 0 -9.7 0M482.1 780.2a4.85 4.85 0 1 0 9.7 0a4.85 4.85 0 1 0 -9.7 0M474.7 788.7a4.85 4.85 0 1 0 9.7 0a4.85 4.85 0 1 0 -9.7 0M543.9 776.8a4.85 4.85 0 1 0 9.7 0a4.85 4.85 0 1 0 -9.7 0M578.8 746.2a4.85 4.85 0 1 0 9.7 0a4.85 4.85 0 1 0 -9.7 0M562.9 772.7a4.85 4.85 0 1 0 9.7 0a4.85 4.85 0 1 0 -9.7 0M565.5 741.3a4.85 4.85 0 1 0 9.7 0a4.85 4.85 0 1 0 -9.7 0M463.9 786.6a4.85 4.85 0 1 0 9.7 0a4.85 4.85 0 1 0 -9.7 0M478 828a4.85 4.85 0 1 0 9.7 0a4.85 4.85 0 1 0 -9.7 0M557.7 767.7a4.85 4.85 0 1 0 9.7 0a4.85 4.85 0 1 0 -9.7 0M468.4 810.1a4.85 4.85 0 1 0 9.7 0a4.85 4.85 0 1 0 -9.7 0M499.5 809.6a4.85 4.85 0 1 0 9.7 0a4.85 4.85 0 1 0 -9.7 0M523 776.3a4.85 4.85 0 1 0 9.7 0a4.85 4.85 0 1 0 -9.7 0M552.5 791a4.85 4.85 0 1 0 9.7 0a4.85 4.85 0 1 0 -9.7 0M571.9 753.7a4.85 4.85 0 1 0 9.7 0a4.85 4.85 0 1 0 -9.7 0M504.8 814.2a4.85 4.85 0 1 0 9.7 0a4.85 4.85 0 1 0 -9.7 0M580.8 750.4a4.85 4.85 0 1 0 9.7 0a4.85 4.85 0 1 0 -9.7 0M567.4 736.5a4.85 4.85 0 1 0 9.7 0a4.85 4.85 0 1 0 -9.7 0M447.6 795.7a4.85 4.85 0 1 0 9.7 0a4.85 4.85 0 1 0 -9.7 0M482.1 789.6a4.85 4.85 0 1 0 9.7 0a4.85 4.85 0 1 0 -9.7 0M565.6 754.1a4.85 4.85 0 1 0 9.7 0a4.85 4.85 0 1 0 -9.7 0M521.4 768.8a4.85 4.85 0 1 0 9.7 0a4.85 4.85 0 1 0 -9.7 0M484.7 816.5a4.85 4.85 0 1 0 9.7 0a4.85 4.85 0 1 0 -9.7 0M542.1 763.5a4.85 4.85 0 1 0 9.7 0a4.85 4.85 0 1 0 -9.7 0M538.7 791a4.85 4.85 0 1 0 9.7 0a4.85 4.85 0 1 0 -9.7 0M519.1 785.3a4.85 4.85 0 1 0 9.7 0a4.85 4.85 0 1 0 -9.7 0M557.3 725a4.85 4.85 0 1 0 9.7 0a4.85 4.85 0 1 0 -9.7 0M573.9 737a4.85 4.85 0 1 0 9.7 0a4.85 4.85 0 1 0 -9.7 0M444.9 799.6a4.85 4.85 0 1 0 9.7 0a4.85 4.85 0 1 0 -9.7 0M543.9 743.2a4.85 4.85 0 1 0 9.7 0a4.85 4.85 0 1 0 -9.7 0M532.4 751.1a4.85 4.85 0 1 0 9.7 0a4.85 4.85 0 1 0 -9.7 0M493.7 790.5a4.85 4.85 0 1 0 9.7 0a4.85 4.85 0 1 0 -9.7 0M574.8 741.1a4.85 4.85 0 1 0 9.7 0a4.85 4.85 0 1 0 -9.7 0M510.6 772.2a4.85 4.85 0 1 0 9.7 0a4.85 4.85 0 1 0 -9.7 0M567 746a4.85 4.85 0 1 0 9.7 0a4.85 4.85 0 1 0 -9.7 0M523.9 794.4a4.85 4.85 0 1 0 9.7 0a4.85 4.85 0 1 0 -9.7 0M490 810.6a4.85 4.85 0 1 0 9.7 0a4.85 4.85 0 1 0 -9.7 0M468.7 795.5a4.85 4.85 0 1 0 9.7 0a4.85 4.85 0 1 0 -9.7 0M559.3 729.6a4.85 4.85 0 1 0 9.7 0a4.85 4.85 0 1 0 -9.7 0M495.6 809.1a4.85 4.85 0 1 0 9.7 0a4.85 4.85 0 1 0 -9.7 0M537.4 776.5a4.85 4.85 0 1 0 9.7 0a4.85 4.85 0 1 0 -9.7 0M511.3 779.8a4.85 4.85 0 1 0 9.7 0a4.85 4.85 0 1 0 -9.7 0M453.3 797a4.85 4.85 0 1 0 9.7 0a4.85 4.85 0 1 0 -9.7 0M531.9 786.5a4.85 4.85 0 1 0 9.7 0a4.85 4.85 0 1 0 -9.7 0M542.2 768.1a4.85 4.85 0 1 0 9.7 0a4.85 4.85 0 1 0 -9.7 0M569 764.1a4.85 4.85 0 1 0 9.7 0a4.85 4.85 0 1 0 -9.7 0M465 795.1a4.85 4.85 0 1 0 9.7 0a4.85 4.85 0 1 0 -9.7 0M490.2 794.8a4.85 4.85 0 1 0 9.7 0a4.85 4.85 0 1 0 -9.7 0M575.6 727a4.85 4.85 0 1 0 9.7 0a4.85 4.85 0 1 0 -9.7 0M534 794.4a4.85 4.85 0 1 0 9.7 0a4.85 4.85 0 1 0 -9.7 0M579.2 731.5a4.85 4.85 0 1 0 9.7 0a4.85 4.85 0 1 0 -9.7 0M522.7 792.7a4.85 4.85 0 1 0 9.7 0a4.85 4.85 0 1 0 -9.7 0M531 751.6a4.85 4.85 0 1 0 9.7 0a4.85 4.85 0 1 0 -9.7 0M468.9 797.5a4.85 4.85 0 1 0 9.7 0a4.85 4.85 0 1 0 -9.7 0M563.4 734.1a4.85 4.85 0 1 0 9.7 0a4.85 4.85 0 1 0 -9.7 0M553.9 769.1a4.85 4.85 0 1 0 9.7 0a4.85 4.85 0 1 0 -9.7 0M536.1 791.1a4.85 4.85 0 1 0 9.7 0a4.85 4.85 0 1 0 -9.7 0M544.2 735.7a4.85 4.85 0 1 0 9.7 0a4.85 4.85 0 1 0 -9.7 0M553 726.9a4.85 4.85 0 1 0 9.7 0a4.85 4.85 0 1 0 -9.7 0M497.2 796.4a4.85 4.85 0 1 0 9.7 0a4.85 4.85 0 1 0 -9.7 0M481.6 795.1a4.85 4.85 0 1 0 9.7 0a4.85 4.85 0 1 0 -9.7 0M551.4 790.1a4.85 4.85 0 1 0 9.7 0a4.85 4.85 0 1 0 -9.7 0M538.7 765.1a4.85 4.85 0 1 0 9.7 0a4.85 4.85 0 1 0 -9.7 0M552.8 789.9a4.85 4.85 0 1 0 9.7 0a4.85 4.85 0 1 0 -9.7 0M492.8 794.2a4.85 4.85 0 1 0 9.7 0a4.85 4.85 0 1 0 -9.7 0M488.8 799.4a4.85 4.85 0 1 0 9.7 0a4.85 4.85 0 1 0 -9.7 0M459 805a4.85 4.85 0 1 0 9.7 0a4.85 4.85 0 1 0 -9.7 0M478.9 783.2a4.85 4.85 0 1 0 9.7 0a4.85 4.85 0 1 0 -9.7 0M531.6 794a4.85 4.85 0 1 0 9.7 0a4.85 4.85 0 1 0 -9.7 0M525 778.6a4.85 4.85 0 1 0 9.7 0a4.85 4.85 0 1 0 -9.7 0M501.6 782.6a4.85 4.85 0 1 0 9.7 0a4.85 4.85 0 1 0 -9.7 0M544.5 742.4a4.85 4.85 0 1 0 9.7 0a4.85 4.85 0 1 0 -9.7 0M491.4 795.1a4.85 4.85 0 1 0 9.7 0a4.85 4.85 0 1 0 -9.7 0M469.4 825.3a4.85 4.85 0 1 0 9.7 0a4.85 4.85 0 1 0 -9.7 0M524.7 784.8a4.85 4.85 0 1 0 9.7 0a4.85 4.85 0 1 0 -9.7 0M560.6 742.9a4.85 4.85 0 1 0 9.7 0a4.85 4.85 0 1 0 -9.7 0M533.1 745.3a4.85 4.85 0 1 0 9.7 0a4.85 4.85 0 1 0 -9.7 0M481.4 802.7a4.85 4.85 0 1 0 9.7 0a4.85 4.85 0 1 0 -9.7 0M519.3 779.3a4.85 4.85 0 1 0 9.7 0a4.85 4.85 0 1 0 -9.7 0M531.3 810.3a4.85 4.85 0 1 0 9.7 0a4.85 4.85 0 1 0 -9.7 0M560.9 764.5a4.85 4.85 0 1 0 9.7 0a4.85 4.85 0 1 0 -9.7 0M505.1 782.5a4.85 4.85 0 1 0 9.7 0a4.85 4.85 0 1 0 -9.7 0M557.9 758.5a4.85 4.85 0 1 0 9.7 0a4.85 4.85 0 1 0 -9.7 0M577.5 725.8a4.85 4.85 0 1 0 9.7 0a4.85 4.85 0 1 0 -9.7 0M568.8 727.5a4.85 4.85 0 1 0 9.7 0a4.85 4.85 0 1 0 -9.7 0M495.1 768.7a4.85 4.85 0 1 0 9.7 0a4.85 4.85 0 1 0 -9.7 0M533.6 759.3a4.85 4.85 0 1 0 9.7 0a4.85 4.85 0 1 0 -9.7 0M524.4 811.8a4.85 4.85 0 1 0 9.7 0a4.85 4.85 0 1 0 -9.7 0M521.7 784.7a4.85 4.85 0 1 0 9.7 0a4.85 4.85 0 1 0 -9.7 0M528.9 775.7a4.85 4.85 0 1 0 9.7 0a4.85 4.85 0 1 0 -9.7 0M522.7 803.4a4.85 4.85 0 1 0 9.7 0a4.85 4.85 0 1 0 -9.7 0M488.3 782.9a4.85 4.85 0 1 0 9.7 0a4.85 4.85 0 1 0 -9.7 0M483.9 795.4a4.85 4.85 0 1 0 9.7 0a4.85 4.85 0 1 0 -9.7 0M495.2 783.2a4.85 4.85 0 1 0 9.7 0a4.85 4.85 0 1 0 -9.7 0M531.4 762.7a4.85 4.85 0 1 0 9.7 0a4.85 4.85 0 1 0 -9.7 0M572.5 725.3a4.85 4.85 0 1 0 9.7 0a4.85 4.85 0 1 0 -9.7 0M527.7 797.3a4.85 4.85 0 1 0 9.7 0a4.85 4.85 0 1 0 -9.7 0M554.5 739.4a4.85 4.85 0 1 0 9.7 0a4.85 4.85 0 1 0 -9.7 0M444.3 823.5a4.85 4.85 0 1 0 9.7 0a4.85 4.85 0 1 0 -9.7 0M542.6 772.5a4.85 4.85 0 1 0 9.7 0a4.85 4.85 0 1 0 -9.7 0M448.7 806.7a4.85 4.85 0 1 0 9.7 0a4.85 4.85 0 1 0 -9.7 0M551.9 745a4.85 4.85 0 1 0 9.7 0a4.85 4.85 0 1 0 -9.7 0M549.9 726.2a4.85 4.85 0 1 0 9.7 0a4.85 4.85 0 1 0 -9.7 0M580.1 734.1a4.85 4.85 0 1 0 9.7 0a4.85 4.85 0 1 0 -9.7 0M531.1 746.3a4.85 4.85 0 1 0 9.7 0a4.85 4.85 0 1 0 -9.7 0M438.1 817.2a4.85 4.85 0 1 0 9.7 0a4.85 4.85 0 1 0 -9.7 0M521.3 761.4a4.85 4.85 0 1 0 9.7 0a4.85 4.85 0 1 0 -9.7 0M503.1 785.7a4.85 4.85 0 1 0 9.7 0a4.85 4.85 0 1 0 -9.7 0M503.7 773.1a4.85 4.85 0 1 0 9.7 0a4.85 4.85 0 1 0 -9.7 0M543 761.5a4.85 4.85 0 1 0 9.7 0a4.85 4.85 0 1 0 -9.7 0M548.7 745.9a4.85 4.85 0 1 0 9.7 0a4.85 4.85 0 1 0 -9.7 0M512.5 805.1a4.85 4.85 0 1 0 9.7 0a4.85 4.85 0 1 0 -9.7 0M528.8 780.2a4.85 4.85 0 1 0 9.7 0a4.85 4.85 0 1 0 -9.7 0M580.6 739.7a4.85 4.85 0 1 0 9.7 0a4.85 4.85 0 1 0 -9.7 0M525.7 779.5a4.85 4.85 0 1 0 9.7 0a4.85 4.85 0 1 0 -9.7 0M471.4 817.3a4.85 4.85 0 1 0 9.7 0a4.85 4.85 0 1 0 -9.7 0M499.9 775.5a4.85 4.85 0 1 0 9.7 0a4.85 4.85 0 1 0 -9.7 0M493 781.7a4.85 4.85 0 1 0 9.7 0a4.85 4.85 0 1 0 -9.7 0M567 729.4a4.85 4.85 0 1 0 9.7 0a4.85 4.85 0 1 0 -9.7 0M569.9 753.9a4.85 4.85 0 1 0 9.7 0a4.85 4.85 0 1 0 -9.7 0M542.3 747.4a4.85 4.85 0 1 0 9.7 0a4.85 4.85 0 1 0 -9.7 0M548 733.4a4.85 4.85 0 1 0 9.7 0a4.85 4.85 0 1 0 -9.7 0M552 735.7a4.85 4.85 0 1 0 9.7 0a4.85 4.85 0 1 0 -9.7 0M564.3 731.5a4.85 4.85 0 1 0 9.7 0a4.85 4.85 0 1 0 -9.7 0M526.2 769.8a4.85 4.85 0 1 0 9.7 0a4.85 4.85 0 1 0 -9.7 0M485 807a4.85 4.85 0 1 0 9.7 0a4.85 4.85 0 1 0 -9.7 0M546.9 740.3a4.85 4.85 0 1 0 9.7 0a4.85 4.85 0 1 0 -9.7 0M540.7 797.4a4.85 4.85 0 1 0 9.7 0a4.85 4.85 0 1 0 -9.7 0M570.3 754.6a4.85 4.85 0 1 0 9.7 0a4.85 4.85 0 1 0 -9.7 0M510.2 765.6a4.85 4.85 0 1 0 9.7 0a4.85 4.85 0 1 0 -9.7 0M488.8 834.2a4.85 4.85 0 1 0 9.7 0a4.85 4.85 0 1 0 -9.7 0M497.3 814.5a4.85 4.85 0 1 0 9.7 0a4.85 4.85 0 1 0 -9.7 0M536.7 739.5a4.85 4.85 0 1 0 9.7 0a4.85 4.85 0 1 0 -9.7 0M507.1 769.8a4.85 4.85 0 1 0 9.7 0a4.85 4.85 0 1 0 -9.7 0M544.7 747.4a4.85 4.85 0 1 0 9.7 0a4.85 4.85 0 1 0 -9.7 0M472.4 794.3a4.85 4.85 0 1 0 9.7 0a4.85 4.85 0 1 0 -9.7 0M533.2 761.9a4.85 4.85 0 1 0 9.7 0a4.85 4.85 0 1 0 -9.7 0M560.5 736.2a4.85 4.85 0 1 0 9.7 0a4.85 4.85 0 1 0 -9.7 0M478.3 805.8a4.85 4.85 0 1 0 9.7 0a4.85 4.85 0 1 0 -9.7 0M526.7 767.3a4.85 4.85 0 1 0 9.7 0a4.85 4.85 0 1 0 -9.7 0M483.1 792.2a4.85 4.85 0 1 0 9.7 0a4.85 4.85 0 1 0 -9.7 0M471.5 795.9a4.85 4.85 0 1 0 9.7 0a4.85 4.85 0 1 0 -9.7 0M558.9 778.6a4.85 4.85 0 1 0 9.7 0a4.85 4.85 0 1 0 -9.7 0M568 736.7a4.85 4.85 0 1 0 9.7 0a4.85 4.85 0 1 0 -9.7 0M499.6 801.6a4.85 4.85 0 1 0 9.7 0a4.85 4.85 0 1 0 -9.7 0M467.7 786.3a4.85 4.85 0 1 0 9.7 0a4.85 4.85 0 1 0 -9.7 0M553.8 764.7a4.85 4.85 0 1 0 9.7 0a4.85 4.85 0 1 0 -9.7 0M548.7 766.2a4.85 4.85 0 1 0 9.7 0a4.85 4.85 0 1 0 -9.7 0M549.3 781.3a4.85 4.85 0 1 0 9.7 0a4.85 4.85 0 1 0 -9.7 0M559.3 772.9a4.85 4.85 0 1 0 9.7 0a4.85 4.85 0 1 0 -9.7 0M552 772.3a4.85 4.85 0 1 0 9.7 0a4.85 4.85 0 1 0 -9.7 0M476.3 809.4a4.85 4.85 0 1 0 9.7 0a4.85 4.85 0 1 0 -9.7 0M516.8 782.2a4.85 4.85 0 1 0 9.7 0a4.85 4.85 0 1 0 -9.7 0M518.2 773.9a4.85 4.85 0 1 0 9.7 0a4.85 4.85 0 1 0 -9.7 0M508.2 781.1a4.85 4.85 0 1 0 9.7 0a4.85 4.85 0 1 0 -9.7 0M572.4 754a4.85 4.85 0 1 0 9.7 0a4.85 4.85 0 1 0 -9.7 0M532.8 757.8a4.85 4.85 0 1 0 9.7 0a4.85 4.85 0 1 0 -9.7 0M565.1 744.3a4.85 4.85 0 1 0 9.7 0a4.85 4.85 0 1 0 -9.7 0M457 824.4a4.85 4.85 0 1 0 9.7 0a4.85 4.85 0 1 0 -9.7 0M539.1 743.2a4.85 4.85 0 1 0 9.7 0a4.85 4.85 0 1 0 -9.7 0M519.2 793.7a4.85 4.85 0 1 0 9.7 0a4.85 4.85 0 1 0 -9.7 0M567.1 767.2a4.85 4.85 0 1 0 9.7 0a4.85 4.85 0 1 0 -9.7 0M559.1 723.8a4.85 4.85 0 1 0 9.7 0a4.85 4.85 0 1 0 -9.7 0M448.8 803.3a4.85 4.85 0 1 0 9.7 0a4.85 4.85 0 1 0 -9.7 0M483 816.4a4.85 4.85 0 1 0 9.7 0a4.85 4.85 0 1 0 -9.7 0M505.4 769.6a4.85 4.85 0 1 0 9.7 0a4.85 4.85 0 1 0 -9.7 0M473 827.2a4.85 4.85 0 1 0 9.7 0a4.85 4.85 0 1 0 -9.7 0M549.3 740.3a4.85 4.85 0 1 0 9.7 0a4.85 4.85 0 1 0 -9.7 0M543.9 730.8a4.85 4.85 0 1 0 9.7 0a4.85 4.85 0 1 0 -9.7 0M537 744.3a4.85 4.85 0 1 0 9.7 0a4.85 4.85 0 1 0 -9.7 0M505.8 813.4a4.85 4.85 0 1 0 9.7 0a4.85 4.85 0 1 0 -9.7 0M484.9 814.9a4.85 4.85 0 1 0 9.7 0a4.85 4.85 0 1 0 -9.7 0M480.9 789.2a4.85 4.85 0 1 0 9.7 0a4.85 4.85 0 1 0 -9.7 0M486.3 789a4.85 4.85 0 1 0 9.7 0a4.85 4.85 0 1 0 -9.7 0M561.8 749.7a4.85 4.85 0 1 0 9.7 0a4.85 4.85 0 1 0 -9.7 0M477.1 786a4.85 4.85 0 1 0 9.7 0a4.85 4.85 0 1 0 -9.7 0M567.8 775.4a4.85 4.85 0 1 0 9.7 0a4.85 4.85 0 1 0 -9.7 0M512.5 795.3a4.85 4.85 0 1 0 9.7 0a4.85 4.85 0 1 0 -9.7 0M473.4 792.4a4.85 4.85 0 1 0 9.7 0a4.85 4.85 0 1 0 -9.7 0M525.9 786.3a4.85 4.85 0 1 0 9.7 0a4.85 4.85 0 1 0 -9.7 0M510.2 768.5a4.85 4.85 0 1 0 9.7 0a4.85 4.85 0 1 0 -9.7 0M548.4 772.6a4.85 4.85 0 1 0 9.7 0a4.85 4.85 0 1 0 -9.7 0M539.1 777.5a4.85 4.85 0 1 0 9.7 0a4.85 4.85 0 1 0 -9.7 0M442.7 801a4.85 4.85 0 1 0 9.7 0a4.85 4.85 0 1 0 -9.7 0M487.5 791.2a4.85 4.85 0 1 0 9.7 0a4.85 4.85 0 1 0 -9.7 0M511.9 779.5a4.85 4.85 0 1 0 9.7 0a4.85 4.85 0 1 0 -9.7 0M478.8 822a4.85 4.85 0 1 0 9.7 0a4.85 4.85 0 1 0 -9.7 0M487.4 768.9a4.85 4.85 0 1 0 9.7 0a4.85 4.85 0 1 0 -9.7 0M576 742.9a4.85 4.85 0 1 0 9.7 0a4.85 4.85 0 1 0 -9.7 0M505.6 774a4.85 4.85 0 1 0 9.7 0a4.85 4.85 0 1 0 -9.7 0M532.9 794.3a4.85 4.85 0 1 0 9.7 0a4.85 4.85 0 1 0 -9.7 0M538.9 759.6a4.85 4.85 0 1 0 9.7 0a4.85 4.85 0 1 0 -9.7 0M517 781.4a4.85 4.85 0 1 0 9.7 0a4.85 4.85 0 1 0 -9.7 0M524.6 811a4.85 4.85 0 1 0 9.7 0a4.85 4.85 0 1 0 -9.7 0M481.5 807.7a4.85 4.85 0 1 0 9.7 0a4.85 4.85 0 1 0 -9.7 0M472 789a4.85 4.85 0 1 0 9.7 0a4.85 4.85 0 1 0 -9.7 0M544.5 744.7a4.85 4.85 0 1 0 9.7 0a4.85 4.85 0 1 0 -9.7 0M567.7 759.8a4.85 4.85 0 1 0 9.7 0a4.85 4.85 0 1 0 -9.7 0M502.5 801.8a4.85 4.85 0 1 0 9.7 0a4.85 4.85 0 1 0 -9.7 0M464.9 801.9a4.85 4.85 0 1 0 9.7 0a4.85 4.85 0 1 0 -9.7 0M445.1 819.7a4.85 4.85 0 1 0 9.7 0a4.85 4.85 0 1 0 -9.7 0M549 779.4a4.85 4.85 0 1 0 9.7 0a4.85 4.85 0 1 0 -9.7 0M546.3 794.7a4.85 4.85 0 1 0 9.7 0a4.85 4.85 0 1 0 -9.7 0M573.3 728.5a4.85 4.85 0 1 0 9.7 0a4.85 4.85 0 1 0 -9.7 0M536 781.7a4.85 4.85 0 1 0 9.7 0a4.85 4.85 0 1 0 -9.7 0M540 757.1a4.85 4.85 0 1 0 9.7 0a4.85 4.85 0 1 0 -9.7 0M536.3 779.4a4.85 4.85 0 1 0 9.7 0a4.85 4.85 0 1 0 -9.7 0M447.1 810.6a4.85 4.85 0 1 0 9.7 0a4.85 4.85 0 1 0 -9.7 0M532.3 807.8a4.85 4.85 0 1 0 9.7 0a4.85 4.85 0 1 0 -9.7 0M551.7 766.4a4.85 4.85 0 1 0 9.7 0a4.85 4.85 0 1 0 -9.7 0M443.8 799.4a4.85 4.85 0 1 0 9.7 0a4.85 4.85 0 1 0 -9.7 0M486.9 794.1a4.85 4.85 0 1 0 9.7 0a4.85 4.85 0 1 0 -9.7 0M516.6 762.1a4.85 4.85 0 1 0 9.7 0a4.85 4.85 0 1 0 -9.7 0M541.4 770.9a4.85 4.85 0 1 0 9.7 0a4.85 4.85 0 1 0 -9.7 0M526.5 789.9a4.85 4.85 0 1 0 9.7 0a4.85 4.85 0 1 0 -9.7 0M574.8 741a4.85 4.85 0 1 0 9.7 0a4.85 4.85 0 1 0 -9.7 0M504.8 771.8a4.85 4.85 0 1 0 9.7 0a4.85 4.85 0 1 0 -9.7 0M477.7 781.9a4.85 4.85 0 1 0 9.7 0a4.85 4.85 0 1 0 -9.7 0M541.6 794.8a4.85 4.85 0 1 0 9.7 0a4.85 4.85 0 1 0 -9.7 0M506.4 777.7a4.85 4.85 0 1 0 9.7 0a4.85 4.85 0 1 0 -9.7 0M517.9 809.7a4.85 4.85 0 1 0 9.7 0a4.85 4.85 0 1 0 -9.7 0M529.7 810a4.85 4.85 0 1 0 9.7 0a4.85 4.85 0 1 0 -9.7 0M523.5 810.5a4.85 4.85 0 1 0 9.7 0a4.85 4.85 0 1 0 -9.7 0M529.9 777a4.85 4.85 0 1 0 9.7 0a4.85 4.85 0 1 0 -9.7 0M503.7 802.2a4.85 4.85 0 1 0 9.7 0a4.85 4.85 0 1 0 -9.7 0M514.6 781.1a4.85 4.85 0 1 0 9.7 0a4.85 4.85 0 1 0 -9.7 0M521.3 764.4a4.85 4.85 0 1 0 9.7 0a4.85 4.85 0 1 0 -9.7 0M529.4 747.9a4.85 4.85 0 1 0 9.7 0a4.85 4.85 0 1 0 -9.7 0M547.9 757.5a4.85 4.85 0 1 0 9.7 0a4.85 4.85 0 1 0 -9.7 0M508.5 815.4a4.85 4.85 0 1 0 9.7 0a4.85 4.85 0 1 0 -9.7 0M476.4 796.5a4.85 4.85 0 1 0 9.7 0a4.85 4.85 0 1 0 -9.7 0M476.5 795.4a4.85 4.85 0 1 0 9.7 0a4.85 4.85 0 1 0 -9.7 0M445.8 822.3a4.85 4.85 0 1 0 9.7 0a4.85 4.85 0 1 0 -9.7 0M484.2 785.7a4.85 4.85 0 1 0 9.7 0a4.85 4.85 0 1 0 -9.7 0M551.8 757.4a4.85 4.85 0 1 0 9.7 0a4.85 4.85 0 1 0 -9.7 0M561.8 776.1a4.85 4.85 0 1 0 9.7 0a4.85 4.85 0 1 0 -9.7 0M477 775.8a4.85 4.85 0 1 0 9.7 0a4.85 4.85 0 1 0 -9.7 0M565.2 728.7a4.85 4.85 0 1 0 9.7 0a4.85 4.85 0 1 0 -9.7 0M542 795.3a4.85 4.85 0 1 0 9.7 0a4.85 4.85 0 1 0 -9.7 0M564 781.3a4.85 4.85 0 1 0 9.7 0a4.85 4.85 0 1 0 -9.7 0M566.6 743.1a4.85 4.85 0 1 0 9.7 0a4.85 4.85 0 1 0 -9.7 0M511.7 790.2a4.85 4.85 0 1 0 9.7 0a4.85 4.85 0 1 0 -9.7 0M529.5 777.9a4.85 4.85 0 1 0 9.7 0a4.85 4.85 0 1 0 -9.7 0M509.5 800.7a4.85 4.85 0 1 0 9.7 0a4.85 4.85 0 1 0 -9.7 0M530.5 804a4.85 4.85 0 1 0 9.7 0a4.85 4.85 0 1 0 -9.7 0M576.8 723.1a4.85 4.85 0 1 0 9.7 0a4.85 4.85 0 1 0 -9.7 0M491.7 780.1a4.85 4.85 0 1 0 9.7 0a4.85 4.85 0 1 0 -9.7 0M571.6 727.9a4.85 4.85 0 1 0 9.7 0a4.85 4.85 0 1 0 -9.7 0M507.4 793.5a4.85 4.85 0 1 0 9.7 0a4.85 4.85 0 1 0 -9.7 0M535.9 757.9a4.85 4.85 0 1 0 9.7 0a4.85 4.85 0 1 0 -9.7 0M494.1 791.6a4.85 4.85 0 1 0 9.7 0a4.85 4.85 0 1 0 -9.7 0M565.2 749.6a4.85 4.85 0 1 0 9.7 0a4.85 4.85 0 1 0 -9.7 0M518.6 779.7a4.85 4.85 0 1 0 9.7 0a4.85 4.85 0 1 0 -9.7 0M553.6 756a4.85 4.85 0 1 0 9.7 0a4.85 4.85 0 1 0 -9.7 0M488.6 768.4a4.85 4.85 0 1 0 9.7 0a4.85 4.85 0 1 0 -9.7 0M466.3 825.7a4.85 4.85 0 1 0 9.7 0a4.85 4.85 0 1 0 -9.7 0M523.1 793a4.85 4.85 0 1 0 9.7 0a4.85 4.85 0 1 0 -9.7 0M518.7 799.5a4.85 4.85 0 1 0 9.7 0a4.85 4.85 0 1 0 -9.7 0M520.6 795.9a4.85 4.85 0 1 0 9.7 0a4.85 4.85 0 1 0 -9.7 0M525.4 788.7a4.85 4.85 0 1 0 9.7 0a4.85 4.85 0 1 0 -9.7 0M504.7 815.8a4.85 4.85 0 1 0 9.7 0a4.85 4.85 0 1 0 -9.7 0M513.2 799a4.85 4.85 0 1 0 9.7 0a4.85 4.85 0 1 0 -9.7 0M461.7 803.3a4.85 4.85 0 1 0 9.7 0a4.85 4.85 0 1 0 -9.7 0M532.7 798.4a4.85 4.85 0 1 0 9.7 0a4.85 4.85 0 1 0 -9.7 0M477.8 778.6a4.85 4.85 0 1 0 9.7 0a4.85 4.85 0 1 0 -9.7 0M466.9 792.7a4.85 4.85 0 1 0 9.7 0a4.85 4.85 0 1 0 -9.7 0M562.5 741.5a4.85 4.85 0 1 0 9.7 0a4.85 4.85 0 1 0 -9.7 0M557 780.7a4.85 4.85 0 1 0 9.7 0a4.85 4.85 0 1 0 -9.7 0M552.8 791.4a4.85 4.85 0 1 0 9.7 0a4.85 4.85 0 1 0 -9.7 0M572.9 725a4.85 4.85 0 1 0 9.7 0a4.85 4.85 0 1 0 -9.7 0M552 731.7a4.85 4.85 0 1 0 9.7 0a4.85 4.85 0 1 0 -9.7 0M497.8 826.3a4.85 4.85 0 1 0 9.7 0a4.85 4.85 0 1 0 -9.7 0M506.8 814.6a4.85 4.85 0 1 0 9.7 0a4.85 4.85 0 1 0 -9.7 0M540.7 763.9a4.85 4.85 0 1 0 9.7 0a4.85 4.85 0 1 0 -9.7 0M539.3 787.8a4.85 4.85 0 1 0 9.7 0a4.85 4.85 0 1 0 -9.7 0M572.8 763.3a4.85 4.85 0 1 0 9.7 0a4.85 4.85 0 1 0 -9.7 0M528.7 757.7a4.85 4.85 0 1 0 9.7 0a4.85 4.85 0 1 0 -9.7 0M540.7 771a4.85 4.85 0 1 0 9.7 0a4.85 4.85 0 1 0 -9.7 0M575 723.1a4.85 4.85 0 1 0 9.7 0a4.85 4.85 0 1 0 -9.7 0M485.4 791.4a4.85 4.85 0 1 0 9.7 0a4.85 4.85 0 1 0 -9.7 0M578.5 763.6a4.85 4.85 0 1 0 9.7 0a4.85 4.85 0 1 0 -9.7 0M497.6 797.5a4.85 4.85 0 1 0 9.7 0a4.85 4.85 0 1 0 -9.7 0M480.6 830.1a4.85 4.85 0 1 0 9.7 0a4.85 4.85 0 1 0 -9.7 0M554.7 739.1a4.85 4.85 0 1 0 9.7 0a4.85 4.85 0 1 0 -9.7 0M580.6 728.2a4.85 4.85 0 1 0 9.7 0a4.85 4.85 0 1 0 -9.7 0M524 781.1a4.85 4.85 0 1 0 9.7 0a4.85 4.85 0 1 0 -9.7 0M563 764.3a4.85 4.85 0 1 0 9.7 0a4.85 4.85 0 1 0 -9.7 0M453.8 818.3a4.85 4.85 0 1 0 9.7 0a4.85 4.85 0 1 0 -9.7 0M480.8 786.1a4.85 4.85 0 1 0 9.7 0a4.85 4.85 0 1 0 -9.7 0M496 780.8a4.85 4.85 0 1 0 9.7 0a4.85 4.85 0 1 0 -9.7 0M494.6 802.3a4.85 4.85 0 1 0 9.7 0a4.85 4.85 0 1 0 -9.7 0M538.2 777.5a4.85 4.85 0 1 0 9.7 0a4.85 4.85 0 1 0 -9.7 0M533.1 766.1a4.85 4.85 0 1 0 9.7 0a4.85 4.85 0 1 0 -9.7 0M516 796.9a4.85 4.85 0 1 0 9.7 0a4.85 4.85 0 1 0 -9.7 0M572.5 768.1a4.85 4.85 0 1 0 9.7 0a4.85 4.85 0 1 0 -9.7 0M498.6 778.2a4.85 4.85 0 1 0 9.7 0a4.85 4.85 0 1 0 -9.7 0M545.2 760.7a4.85 4.85 0 1 0 9.7 0a4.85 4.85 0 1 0 -9.7 0M451.7 802.7a4.85 4.85 0 1 0 9.7 0a4.85 4.85 0 1 0 -9.7 0M573.8 759.9a4.85 4.85 0 1 0 9.7 0a4.85 4.85 0 1 0 -9.7 0M562.4 746.5a4.85 4.85 0 1 0 9.7 0a4.85 4.85 0 1 0 -9.7 0M541.8 765.6a4.85 4.85 0 1 0 9.7 0a4.85 4.85 0 1 0 -9.7 0M577 765a4.85 4.85 0 1 0 9.7 0a4.85 4.85 0 1 0 -9.7 0M552.1 727.2a4.85 4.85 0 1 0 9.7 0a4.85 4.85 0 1 0 -9.7 0M535.5 744.4a4.85 4.85 0 1 0 9.7 0a4.85 4.85 0 1 0 -9.7 0M579.7 751.8a4.85 4.85 0 1 0 9.7 0a4.85 4.85 0 1 0 -9.7 0M551 754.5a4.85 4.85 0 1 0 9.7 0a4.85 4.85 0 1 0 -9.7 0M567.9 772a4.85 4.85 0 1 0 9.7 0a4.85 4.85 0 1 0 -9.7 0M505.6 793.2a4.85 4.85 0 1 0 9.7 0a4.85 4.85 0 1 0 -9.7 0M543.3 741.6a4.85 4.85 0 1 0 9.7 0a4.85 4.85 0 1 0 -9.7 0M507 792.1a4.85 4.85 0 1 0 9.7 0a4.85 4.85 0 1 0 -9.7 0M515.8 799.6a4.85 4.85 0 1 0 9.7 0a4.85 4.85 0 1 0 -9.7 0M500.2 768.4a4.85 4.85 0 1 0 9.7 0a4.85 4.85 0 1 0 -9.7 0M580.8 752.3a4.85 4.85 0 1 0 9.7 0a4.85 4.85 0 1 0 -9.7 0M482.7 774.8a4.85 4.85 0 1 0 9.7 0a4.85 4.85 0 1 0 -9.7 0M533.7 799.8a4.85 4.85 0 1 0 9.7 0a4.85 4.85 0 1 0 -9.7 0M496.8 782.2a4.85 4.85 0 1 0 9.7 0a4.85 4.85 0 1 0 -9.7 0M501.7 823.8a4.85 4.85 0 1 0 9.7 0a4.85 4.85 0 1 0 -9.7 0M563.3 738.6a4.85 4.85 0 1 0 9.7 0a4.85 4.85 0 1 0 -9.7 0M534.1 764.7a4.85 4.85 0 1 0 9.7 0a4.85 4.85 0 1 0 -9.7 0M521.9 811.7a4.85 4.85 0 1 0 9.7 0a4.85 4.85 0 1 0 -9.7 0M540.2 741.2a4.85 4.85 0 1 0 9.7 0a4.85 4.85 0 1 0 -9.7 0M510.3 812.8a4.85 4.85 0 1 0 9.7 0a4.85 4.85 0 1 0 -9.7 0M542.9 755.4a4.85 4.85 0 1 0 9.7 0a4.85 4.85 0 1 0 -9.7 0M563.5 780.4a4.85 4.85 0 1 0 9.7 0a4.85 4.85 0 1 0 -9.7 0M544.6 758.2a4.85 4.85 0 1 0 9.7 0a4.85 4.85 0 1 0 -9.7 0M519.4 788.6a4.85 4.85 0 1 0 9.7 0a4.85 4.85 0 1 0 -9.7 0M454 816.8a4.85 4.85 0 1 0 9.7 0a4.85 4.85 0 1 0 -9.7 0M487.2 816.2a4.85 4.85 0 1 0 9.7 0a4.85 4.85 0 1 0 -9.7 0M551 779.2a4.85 4.85 0 1 0 9.7 0a4.85 4.85 0 1 0 -9.7 0M560 751.7a4.85 4.85 0 1 0 9.7 0a4.85 4.85 0 1 0 -9.7 0M546.6 785.4a4.85 4.85 0 1 0 9.7 0a4.85 4.85 0 1 0 -9.7 0M520.1 796.1a4.85 4.85 0 1 0 9.7 0a4.85 4.85 0 1 0 -9.7 0M454.1 818.3a4.85 4.85 0 1 0 9.7 0a4.85 4.85 0 1 0 -9.7 0M571.4 746a4.85 4.85 0 1 0 9.7 0a4.85 4.85 0 1 0 -9.7 0M485.4 805.4a4.85 4.85 0 1 0 9.7 0a4.85 4.85 0 1 0 -9.7 0M448.4 806.6a4.85 4.85 0 1 0 9.7 0a4.85 4.85 0 1 0 -9.7 0M565.6 720.9a4.85 4.85 0 1 0 9.7 0a4.85 4.85 0 1 0 -9.7 0M451 806.9a4.85 4.85 0 1 0 9.7 0a4.85 4.85 0 1 0 -9.7 0M508.7 789.6a4.85 4.85 0 1 0 9.7 0a4.85 4.85 0 1 0 -9.7 0M533.9 801.9a4.85 4.85 0 1 0 9.7 0a4.85 4.85 0 1 0 -9.7 0M536.1 789.5a4.85 4.85 0 1 0 9.7 0a4.85 4.85 0 1 0 -9.7 0M508.8 808.1a4.85 4.85 0 1 0 9.7 0a4.85 4.85 0 1 0 -9.7 0M577.3 736.6a4.85 4.85 0 1 0 9.7 0a4.85 4.85 0 1 0 -9.7 0M498 801.2a4.85 4.85 0 1 0 9.7 0a4.85 4.85 0 1 0 -9.7 0M522.7 771.5a4.85 4.85 0 1 0 9.7 0a4.85 4.85 0 1 0 -9.7 0M456.2 809.5a4.85 4.85 0 1 0 9.7 0a4.85 4.85 0 1 0 -9.7 0M542.4 781.2a4.85 4.85 0 1 0 9.7 0a4.85 4.85 0 1 0 -9.7 0M579.2 760.2a4.85 4.85 0 1 0 9.7 0a4.85 4.85 0 1 0 -9.7 0M549.1 758.7a4.85 4.85 0 1 0 9.7 0a4.85 4.85 0 1 0 -9.7 0M568.3 735.7a4.85 4.85 0 1 0 9.7 0a4.85 4.85 0 1 0 -9.7 0M553.7 761.6a4.85 4.85 0 1 0 9.7 0a4.85 4.85 0 1 0 -9.7 0M466.8 809.3a4.85 4.85 0 1 0 9.7 0a4.85 4.85 0 1 0 -9.7 0M437.7 817a4.85 4.85 0 1 0 9.7 0a4.85 4.85 0 1 0 -9.7 0M549.3 759.5a4.85 4.85 0 1 0 9.7 0a4.85 4.85 0 1 0 -9.7 0M494.2 784.7a4.85 4.85 0 1 0 9.7 0a4.85 4.85 0 1 0 -9.7 0M567.7 750a4.85 4.85 0 1 0 9.7 0a4.85 4.85 0 1 0 -9.7 0M467.3 823.1a4.85 4.85 0 1 0 9.7 0a4.85 4.85 0 1 0 -9.7 0M455.1 825.3a4.85 4.85 0 1 0 9.7 0a4.85 4.85 0 1 0 -9.7 0M475.7 830.9a4.85 4.85 0 1 0 9.7 0a4.85 4.85 0 1 0 -9.7 0M542.2 754.4a4.85 4.85 0 1 0 9.7 0a4.85 4.85 0 1 0 -9.7 0M568.5 742.1a4.85 4.85 0 1 0 9.7 0a4.85 4.85 0 1 0 -9.7 0M473.8 810a4.85 4.85 0 1 0 9.7 0a4.85 4.85 0 1 0 -9.7 0M567.2 726.5a4.85 4.85 0 1 0 9.7 0a4.85 4.85 0 1 0 -9.7 0M494.3 828a4.85 4.85 0 1 0 9.7 0a4.85 4.85 0 1 0 -9.7 0M583.7 733a4.85 4.85 0 1 0 9.7 0a4.85 4.85 0 1 0 -9.7 0M538.7 744.6a4.85 4.85 0 1 0 9.7 0a4.85 4.85 0 1 0 -9.7 0M502 809.4a4.85 4.85 0 1 0 9.7 0a4.85 4.85 0 1 0 -9.7 0M572.6 741.5a4.85 4.85 0 1 0 9.7 0a4.85 4.85 0 1 0 -9.7 0M490.8 831.9a4.85 4.85 0 1 0 9.7 0a4.85 4.85 0 1 0 -9.7 0M459.8 790.1a4.85 4.85 0 1 0 9.7 0a4.85 4.85 0 1 0 -9.7 0M517.8 802.7a4.85 4.85 0 1 0 9.7 0a4.85 4.85 0 1 0 -9.7 0M514.9 779.6a4.85 4.85 0 1 0 9.7 0a4.85 4.85 0 1 0 -9.7 0M502.1 783.1a4.85 4.85 0 1 0 9.7 0a4.85 4.85 0 1 0 -9.7 0M554.5 767.8a4.85 4.85 0 1 0 9.7 0a4.85 4.85 0 1 0 -9.7 0M537 746.7a4.85 4.85 0 1 0 9.7 0a4.85 4.85 0 1 0 -9.7 0M565.2 770.7a4.85 4.85 0 1 0 9.7 0a4.85 4.85 0 1 0 -9.7 0M459.2 796.8a4.85 4.85 0 1 0 9.7 0a4.85 4.85 0 1 0 -9.7 0M475.6 821.8a4.85 4.85 0 1 0 9.7 0a4.85 4.85 0 1 0 -9.7 0M561 725.2a4.85 4.85 0 1 0 9.7 0a4.85 4.85 0 1 0 -9.7 0M468.6 809.8a4.85 4.85 0 1 0 9.7 0a4.85 4.85 0 1 0 -9.7 0M568.8 750.3a4.85 4.85 0 1 0 9.7 0a4.85 4.85 0 1 0 -9.7 0M488.8 776.6a4.85 4.85 0 1 0 9.7 0a4.85 4.85 0 1 0 -9.7 0M521.5 790.5a4.85 4.85 0 1 0 9.7 0a4.85 4.85 0 1 0 -9.7 0M472.6 817.5a4.85 4.85 0 1 0 9.7 0a4.85 4.85 0 1 0 -9.7 0M508.8 767a4.85 4.85 0 1 0 9.7 0a4.85 4.85 0 1 0 -9.7 0M531.5 759.5a4.85 4.85 0 1 0 9.7 0a4.85 4.85 0 1 0 -9.7 0M444.6 817.7a4.85 4.85 0 1 0 9.7 0a4.85 4.85 0 1 0 -9.7 0M548 744.6a4.85 4.85 0 1 0 9.7 0a4.85 4.85 0 1 0 -9.7 0M532.5 765.7a4.85 4.85 0 1 0 9.7 0a4.85 4.85 0 1 0 -9.7 0M509.5 800.9a4.85 4.85 0 1 0 9.7 0a4.85 4.85 0 1 0 -9.7 0M502 813.6a4.85 4.85 0 1 0 9.7 0a4.85 4.85 0 1 0 -9.7 0M454.6 796.6a4.85 4.85 0 1 0 9.7 0a4.85 4.85 0 1 0 -9.7 0M460.1 811.2a4.85 4.85 0 1 0 9.7 0a4.85 4.85 0 1 0 -9.7 0M489.4 773.2a4.85 4.85 0 1 0 9.7 0a4.85 4.85 0 1 0 -9.7 0M490.3 797.8a4.85 4.85 0 1 0 9.7 0a4.85 4.85 0 1 0 -9.7 0M528.4 795.6a4.85 4.85 0 1 0 9.7 0a4.85 4.85 0 1 0 -9.7 0M516.8 791.9a4.85 4.85 0 1 0 9.7 0a4.85 4.85 0 1 0 -9.7 0M495.8 808.3a4.85 4.85 0 1 0 9.7 0a4.85 4.85 0 1 0 -9.7 0M521.3 789a4.85 4.85 0 1 0 9.7 0a4.85 4.85 0 1 0 -9.7 0M502.4 772.8a4.85 4.85 0 1 0 9.7 0a4.85 4.85 0 1 0 -9.7 0M500.7 795.1a4.85 4.85 0 1 0 9.7 0a4.85 4.85 0 1 0 -9.7 0M573 764a4.85 4.85 0 1 0 9.7 0a4.85 4.85 0 1 0 -9.7 0M494.8 784.5a4.85 4.85 0 1 0 9.7 0a4.85 4.85 0 1 0 -9.7 0M481.2 833.8a4.85 4.85 0 1 0 9.7 0a4.85 4.85 0 1 0 -9.7 0M577.9 763.7a4.85 4.85 0 1 0 9.7 0a4.85 4.85 0 1 0 -9.7 0M551.9 776.2a4.85 4.85 0 1 0 9.7 0a4.85 4.85 0 1 0 -9.7 0M490.4 789.4a4.85 4.85 0 1 0 9.7 0a4.85 4.85 0 1 0 -9.7 0M543.5 794.2a4.85 4.85 0 1 0 9.7 0a4.85 4.85 0 1 0 -9.7 0M476.3 786.2a4.85 4.85 0 1 0 9.7 0a4.85 4.85 0 1 0 -9.7 0M511.9 772.6a4.85 4.85 0 1 0 9.7 0a4.85 4.85 0 1 0 -9.7 0M512.9 811.3a4.85 4.85 0 1 0 9.7 0a4.85 4.85 0 1 0 -9.7 0M474.9 785.2a4.85 4.85 0 1 0 9.7 0a4.85 4.85 0 1 0 -9.7 0M478.5 807.9a4.85 4.85 0 1 0 9.7 0a4.85 4.85 0 1 0 -9.7 0M545.1 770.7a4.85 4.85 0 1 0 9.7 0a4.85 4.85 0 1 0 -9.7 0M521.9 791a4.85 4.85 0 1 0 9.7 0a4.85 4.85 0 1 0 -9.7 0M556.2 775.9a4.85 4.85 0 1 0 9.7 0a4.85 4.85 0 1 0 -9.7 0M511.8 789.6a4.85 4.85 0 1 0 9.7 0a4.85 4.85 0 1 0 -9.7 0M442.7 801.1a4.85 4.85 0 1 0 9.7 0a4.85 4.85 0 1 0 -9.7 0M471 811.8a4.85 4.85 0 1 0 9.7 0a4.85 4.85 0 1 0 -9.7 0M569.5 751.7a4.85 4.85 0 1 0 9.7 0a4.85 4.85 0 1 0 -9.7 0M541 799.4a4.85 4.85 0 1 0 9.7 0a4.85 4.85 0 1 0 -9.7 0M467.2 792.6a4.85 4.85 0 1 0 9.7 0a4.85 4.85 0 1 0 -9.7 0M546.5 768a4.85 4.85 0 1 0 9.7 0a4.85 4.85 0 1 0 -9.7 0M469.8 812.6a4.85 4.85 0 1 0 9.7 0a4.85 4.85 0 1 0 -9.7 0M508.4 804.5a4.85 4.85 0 1 0 9.7 0a4.85 4.85 0 1 0 -9.7 0M548.7 757.6a4.85 4.85 0 1 0 9.7 0a4.85 4.85 0 1 0 -9.7 0M548.6 781.2a4.85 4.85 0 1 0 9.7 0a4.85 4.85 0 1 0 -9.7 0M481.6 814.4a4.85 4.85 0 1 0 9.7 0a4.85 4.85 0 1 0 -9.7 0M556.9 784.1a4.85 4.85 0 1 0 9.7 0a4.85 4.85 0 1 0 -9.7 0M495.2 789.2a4.85 4.85 0 1 0 9.7 0a4.85 4.85 0 1 0 -9.7 0M530.5 773.1a4.85 4.85 0 1 0 9.7 0a4.85 4.85 0 1 0 -9.7 0M454.5 813.7a4.85 4.85 0 1 0 9.7 0a4.85 4.85 0 1 0 -9.7 0M507.8 799.8a4.85 4.85 0 1 0 9.7 0a4.85 4.85 0 1 0 -9.7 0M478.9 829.5a4.85 4.85 0 1 0 9.7 0a4.85 4.85 0 1 0 -9.7 0M550.8 772.3a4.85 4.85 0 1 0 9.7 0a4.85 4.85 0 1 0 -9.7 0M550.1 770.1a4.85 4.85 0 1 0 9.7 0a4.85 4.85 0 1 0 -9.7 0M558.2 761a4.85 4.85 0 1 0 9.7 0a4.85 4.85 0 1 0 -9.7 0M521.3 775a4.85 4.85 0 1 0 9.7 0a4.85 4.85 0 1 0 -9.7 0M491.7 770.1a4.85 4.85 0 1 0 9.7 0a4.85 4.85 0 1 0 -9.7 0M544.5 795.2a4.85 4.85 0 1 0 9.7 0a4.85 4.85 0 1 0 -9.7 0M478.3 778.8a4.85 4.85 0 1 0 9.7 0a4.85 4.85 0 1 0 -9.7 0M550.5 784.1a4.85 4.85 0 1 0 9.7 0a4.85 4.85 0 1 0 -9.7 0M449 821.4a4.85 4.85 0 1 0 9.7 0a4.85 4.85 0 1 0 -9.7 0M527.2 778.2a4.85 4.85 0 1 0 9.7 0a4.85 4.85 0 1 0 -9.7 0M524.5 792.5a4.85 4.85 0 1 0 9.7 0a4.85 4.85 0 1 0 -9.7 0M467.3 788.1a4.85 4.85 0 1 0 9.7 0a4.85 4.85 0 1 0 -9.7 0M546.2 764.1a4.85 4.85 0 1 0 9.7 0a4.85 4.85 0 1 0 -9.7 0M513.2 761.2a4.85 4.85 0 1 0 9.7 0a4.85 4.85 0 1 0 -9.7 0M534.4 751.5a4.85 4.85 0 1 0 9.7 0a4.85 4.85 0 1 0 -9.7 0M529.7 791.2a4.85 4.85 0 1 0 9.7 0a4.85 4.85 0 1 0 -9.7 0M564.4 747.6a4.85 4.85 0 1 0 9.7 0a4.85 4.85 0 1 0 -9.7 0M464.5 787.8a4.85 4.85 0 1 0 9.7 0a4.85 4.85 0 1 0 -9.7 0M471.9 822.9a4.85 4.85 0 1 0 9.7 0a4.85 4.85 0 1 0 -9.7 0M569 744.5a4.85 4.85 0 1 0 9.7 0a4.85 4.85 0 1 0 -9.7 0M482.1 783.1a4.85 4.85 0 1 0 9.7 0a4.85 4.85 0 1 0 -9.7 0M569.2 751.2a4.85 4.85 0 1 0 9.7 0a4.85 4.85 0 1 0 -9.7 0M486.5 819.1a4.85 4.85 0 1 0 9.7 0a4.85 4.85 0 1 0 -9.7 0M467.5 793.4a4.85 4.85 0 1 0 9.7 0a4.85 4.85 0 1 0 -9.7 0M550 741a4.85 4.85 0 1 0 9.7 0a4.85 4.85 0 1 0 -9.7 0M526 789a4.85 4.85 0 1 0 9.7 0a4.85 4.85 0 1 0 -9.7 0M465 824.4a4.85 4.85 0 1 0 9.7 0a4.85 4.85 0 1 0 -9.7 0M524 760.2a4.85 4.85 0 1 0 9.7 0a4.85 4.85 0 1 0 -9.7 0M566.2 730.4a4.85 4.85 0 1 0 9.7 0a4.85 4.85 0 1 0 -9.7 0M578.2 744.3a4.85 4.85 0 1 0 9.7 0a4.85 4.85 0 1 0 -9.7 0M566.3 723a4.85 4.85 0 1 0 9.7 0a4.85 4.85 0 1 0 -9.7 0M548 775.2a4.85 4.85 0 1 0 9.7 0a4.85 4.85 0 1 0 -9.7 0M539.6 771.3a4.85 4.85 0 1 0 9.7 0a4.85 4.85 0 1 0 -9.7 0M561.6 758.8a4.85 4.85 0 1 0 9.7 0a4.85 4.85 0 1 0 -9.7 0M494.8 784.5a4.85 4.85 0 1 0 9.7 0a4.85 4.85 0 1 0 -9.7 0M518.1 765.8a4.85 4.85 0 1 0 9.7 0a4.85 4.85 0 1 0 -9.7 0M572.9 724.6a4.85 4.85 0 1 0 9.7 0a4.85 4.85 0 1 0 -9.7 0M519.5 786.2a4.85 4.85 0 1 0 9.7 0a4.85 4.85 0 1 0 -9.7 0M567.6 745.3a4.85 4.85 0 1 0 9.7 0a4.85 4.85 0 1 0 -9.7 0M559.4 773.2a4.85 4.85 0 1 0 9.7 0a4.85 4.85 0 1 0 -9.7 0M508.9 807.1a4.85 4.85 0 1 0 9.7 0a4.85 4.85 0 1 0 -9.7 0M507.6 806.8a4.85 4.85 0 1 0 9.7 0a4.85 4.85 0 1 0 -9.7 0M484.2 821.9a4.85 4.85 0 1 0 9.7 0a4.85 4.85 0 1 0 -9.7 0M530.8 779.6a4.85 4.85 0 1 0 9.7 0a4.85 4.85 0 1 0 -9.7 0M476 817.1a4.85 4.85 0 1 0 9.7 0a4.85 4.85 0 1 0 -9.7 0M548.4 753.4a4.85 4.85 0 1 0 9.7 0a4.85 4.85 0 1 0 -9.7 0M556.3 773a4.85 4.85 0 1 0 9.7 0a4.85 4.85 0 1 0 -9.7 0M506.8 793.8a4.85 4.85 0 1 0 9.7 0a4.85 4.85 0 1 0 -9.7 0M473.2 805.6a4.85 4.85 0 1 0 9.7 0a4.85 4.85 0 1 0 -9.7 0M519.4 768.1a4.85 4.85 0 1 0 9.7 0a4.85 4.85 0 1 0 -9.7 0M534.2 791.4a4.85 4.85 0 1 0 9.7 0a4.85 4.85 0 1 0 -9.7 0M567.8 736a4.85 4.85 0 1 0 9.7 0a4.85 4.85 0 1 0 -9.7 0M564.8 726.9a4.85 4.85 0 1 0 9.7 0a4.85 4.85 0 1 0 -9.7 0M513.9 783.2a4.85 4.85 0 1 0 9.7 0a4.85 4.85 0 1 0 -9.7 0M548.6 753.4a4.85 4.85 0 1 0 9.7 0a4.85 4.85 0 1 0 -9.7 0M560.1 776.4a4.85 4.85 0 1 0 9.7 0a4.85 4.85 0 1 0 -9.7 0M568 746.4a4.85 4.85 0 1 0 9.7 0a4.85 4.85 0 1 0 -9.7 0M551.5 770.4a4.85 4.85 0 1 0 9.7 0a4.85 4.85 0 1 0 -9.7 0M544.5 787.8a4.85 4.85 0 1 0 9.7 0a4.85 4.85 0 1 0 -9.7 0M503.4 806a4.85 4.85 0 1 0 9.7 0a4.85 4.85 0 1 0 -9.7 0M535.7 805.3a4.85 4.85 0 1 0 9.7 0a4.85 4.85 0 1 0 -9.7 0M515.6 774.1a4.85 4.85 0 1 0 9.7 0a4.85 4.85 0 1 0 -9.7 0M536.8 757.1a4.85 4.85 0 1 0 9.7 0a4.85 4.85 0 1 0 -9.7 0M529.8 772.4a4.85 4.85 0 1 0 9.7 0a4.85 4.85 0 1 0 -9.7 0M483.8 821.4a4.85 4.85 0 1 0 9.7 0a4.85 4.85 0 1 0 -9.7 0M569.9 728.5a4.85 4.85 0 1 0 9.7 0a4.85 4.85 0 1 0 -9.7 0M556.7 740.1a4.85 4.85 0 1 0 9.7 0a4.85 4.85 0 1 0 -9.7 0M552.2 729.8a4.85 4.85 0 1 0 9.7 0a4.85 4.85 0 1 0 -9.7 0M495.9 808.6a4.85 4.85 0 1 0 9.7 0a4.85 4.85 0 1 0 -9.7 0M566 721.1a4.85 4.85 0 1 0 9.7 0a4.85 4.85 0 1 0 -9.7 0M469.4 797.1a4.85 4.85 0 1 0 9.7 0a4.85 4.85 0 1 0 -9.7 0M544.8 778.9a4.85 4.85 0 1 0 9.7 0a4.85 4.85 0 1 0 -9.7 0M513.3 768.7a4.85 4.85 0 1 0 9.7 0a4.85 4.85 0 1 0 -9.7 0M518.4 783.2a4.85 4.85 0 1 0 9.7 0a4.85 4.85 0 1 0 -9.7 0M562.9 727.6a4.85 4.85 0 1 0 9.7 0a4.85 4.85 0 1 0 -9.7 0M514.5 795.1a4.85 4.85 0 1 0 9.7 0a4.85 4.85 0 1 0 -9.7 0M486.3 800.8a4.85 4.85 0 1 0 9.7 0a4.85 4.85 0 1 0 -9.7 0M528.6 750.5a4.85 4.85 0 1 0 9.7 0a4.85 4.85 0 1 0 -9.7 0M458.2 788.7a4.85 4.85 0 1 0 9.7 0a4.85 4.85 0 1 0 -9.7 0M529.9 752.7a4.85 4.85 0 1 0 9.7 0a4.85 4.85 0 1 0 -9.7 0M565.7 761.3a4.85 4.85 0 1 0 9.7 0a4.85 4.85 0 1 0 -9.7 0M505.7 804.6a4.85 4.85 0 1 0 9.7 0a4.85 4.85 0 1 0 -9.7 0M513.9 771.7a4.85 4.85 0 1 0 9.7 0a4.85 4.85 0 1 0 -9.7 0M563.2 754a4.85 4.85 0 1 0 9.7 0a4.85 4.85 0 1 0 -9.7 0M517.9 768.2a4.85 4.85 0 1 0 9.7 0a4.85 4.85 0 1 0 -9.7 0M453.2 794.2a4.85 4.85 0 1 0 9.7 0a4.85 4.85 0 1 0 -9.7 0M441 821.7a4.85 4.85 0 1 0 9.7 0a4.85 4.85 0 1 0 -9.7 0M477.6 811.9a4.85 4.85 0 1 0 9.7 0a4.85 4.85 0 1 0 -9.7 0M567.6 733.3a4.85 4.85 0 1 0 9.7 0a4.85 4.85 0 1 0 -9.7 0M550.7 749.8a4.85 4.85 0 1 0 9.7 0a4.85 4.85 0 1 0 -9.7 0M482.4 824.1a4.85 4.85 0 1 0 9.7 0a4.85 4.85 0 1 0 -9.7 0M542.6 785a4.85 4.85 0 1 0 9.7 0a4.85 4.85 0 1 0 -9.7 0M501.8 787.3a4.85 4.85 0 1 0 9.7 0a4.85 4.85 0 1 0 -9.7 0M494.1 795.5a4.85 4.85 0 1 0 9.7 0a4.85 4.85 0 1 0 -9.7 0M505.6 778.6a4.85 4.85 0 1 0 9.7 0a4.85 4.85 0 1 0 -9.7 0M571.6 727.4a4.85 4.85 0 1 0 9.7 0a4.85 4.85 0 1 0 -9.7 0M556.8 729.3a4.85 4.85 0 1 0 9.7 0a4.85 4.85 0 1 0 -9.7 0M546.6 747.7a4.85 4.85 0 1 0 9.7 0a4.85 4.85 0 1 0 -9.7 0M582.3 743.6a4.85 4.85 0 1 0 9.7 0a4.85 4.85 0 1 0 -9.7 0M553.4 788.7a4.85 4.85 0 1 0 9.7 0a4.85 4.85 0 1 0 -9.7 0M547.6 753.4a4.85 4.85 0 1 0 9.7 0a4.85 4.85 0 1 0 -9.7 0M438.2 808.8a4.85 4.85 0 1 0 9.7 0a4.85 4.85 0 1 0 -9.7 0M518.1 788.5a4.85 4.85 0 1 0 9.7 0a4.85 4.85 0 1 0 -9.7 0M522.1 804.4a4.85 4.85 0 1 0 9.7 0a4.85 4.85 0 1 0 -9.7 0M565.7 778.1a4.85 4.85 0 1 0 9.7 0a4.85 4.85 0 1 0 -9.7 0M536.6 744.2a4.85 4.85 0 1 0 9.7 0a4.85 4.85 0 1 0 -9.7 0M458.7 824.3a4.85 4.85 0 1 0 9.7 0a4.85 4.85 0 1 0 -9.7 0M478 830.8a4.85 4.85 0 1 0 9.7 0a4.85 4.85 0 1 0 -9.7 0M488.2 786.9a4.85 4.85 0 1 0 9.7 0a4.85 4.85 0 1 0 -9.7 0M488.2 810.2a4.85 4.85 0 1 0 9.7 0a4.85 4.85 0 1 0 -9.7 0M565.6 753.5a4.85 4.85 0 1 0 9.7 0a4.85 4.85 0 1 0 -9.7 0M549.7 755.7a4.85 4.85 0 1 0 9.7 0a4.85 4.85 0 1 0 -9.7 0M577.3 726.7a4.85 4.85 0 1 0 9.7 0a4.85 4.85 0 1 0 -9.7 0M445.4 814.2a4.85 4.85 0 1 0 9.7 0a4.85 4.85 0 1 0 -9.7 0M524.1 793.6a4.85 4.85 0 1 0 9.7 0a4.85 4.85 0 1 0 -9.7 0M556.2 787.1a4.85 4.85 0 1 0 9.7 0a4.85 4.85 0 1 0 -9.7 0M511.7 789a4.85 4.85 0 1 0 9.7 0a4.85 4.85 0 1 0 -9.7 0M530.4 761.9a4.85 4.85 0 1 0 9.7 0a4.85 4.85 0 1 0 -9.7 0M487.2 826.9a4.85 4.85 0 1 0 9.7 0a4.85 4.85 0 1 0 -9.7 0M573.1 721.6a4.85 4.85 0 1 0 9.7 0a4.85 4.85 0 1 0 -9.7 0M554.4 743.6a4.85 4.85 0 1 0 9.7 0a4.85 4.85 0 1 0 -9.7 0M519.4 772.9a4.85 4.85 0 1 0 9.7 0a4.85 4.85 0 1 0 -9.7 0M579.3 738.5a4.85 4.85 0 1 0 9.7 0a4.85 4.85 0 1 0 -9.7 0M508.4 762.3a4.85 4.85 0 1 0 9.7 0a4.85 4.85 0 1 0 -9.7 0M503.5 820.4a4.85 4.85 0 1 0 9.7 0a4.85 4.85 0 1 0 -9.7 0M552 737.3a4.85 4.85 0 1 0 9.7 0a4.85 4.85 0 1 0 -9.7 0M485.3 818.2a4.85 4.85 0 1 0 9.7 0a4.85 4.85 0 1 0 -9.7 0M572.7 733.7a4.85 4.85 0 1 0 9.7 0a4.85 4.85 0 1 0 -9.7 0M532.7 796.8a4.85 4.85 0 1 0 9.7 0a4.85 4.85 0 1 0 -9.7 0M555.2 782a4.85 4.85 0 1 0 9.7 0a4.85 4.85 0 1 0 -9.7 0M571.8 754.5a4.85 4.85 0 1 0 9.7 0a4.85 4.85 0 1 0 -9.7 0M479.3 774.6a4.85 4.85 0 1 0 9.7 0a4.85 4.85 0 1 0 -9.7 0M554.4 741.4a4.85 4.85 0 1 0 9.7 0a4.85 4.85 0 1 0 -9.7 0M448.7 824.9a4.85 4.85 0 1 0 9.7 0a4.85 4.85 0 1 0 -9.7 0M548.8 732.6a4.85 4.85 0 1 0 9.7 0a4.85 4.85 0 1 0 -9.7 0M492.4 772a4.85 4.85 0 1 0 9.7 0a4.85 4.85 0 1 0 -9.7 0M567.1 730.4a4.85 4.85 0 1 0 9.7 0a4.85 4.85 0 1 0 -9.7 0M530.3 750.4a4.85 4.85 0 1 0 9.7 0a4.85 4.85 0 1 0 -9.7 0M560.5 720.9a4.85 4.85 0 1 0 9.7 0a4.85 4.85 0 1 0 -9.7 0M464.6 818.2a4.85 4.85 0 1 0 9.7 0a4.85 4.85 0 1 0 -9.7 0M513.3 792.6a4.85 4.85 0 1 0 9.7 0a4.85 4.85 0 1 0 -9.7 0M490.4 823.7a4.85 4.85 0 1 0 9.7 0a4.85 4.85 0 1 0 -9.7 0M472.6 803.5a4.85 4.85 0 1 0 9.7 0a4.85 4.85 0 1 0 -9.7 0M542.2 755.4a4.85 4.85 0 1 0 9.7 0a4.85 4.85 0 1 0 -9.7 0M557 727.8a4.85 4.85 0 1 0 9.7 0a4.85 4.85 0 1 0 -9.7 0M569.2 739.9a4.85 4.85 0 1 0 9.7 0a4.85 4.85 0 1 0 -9.7 0M557 740.1a4.85 4.85 0 1 0 9.7 0a4.85 4.85 0 1 0 -9.7 0M575.4 727a4.85 4.85 0 1 0 9.7 0a4.85 4.85 0 1 0 -9.7 0M444.7 808.9a4.85 4.85 0 1 0 9.7 0a4.85 4.85 0 1 0 -9.7 0M474.7 824.1a4.85 4.85 0 1 0 9.7 0a4.85 4.85 0 1 0 -9.7 0M549.8 752.8a4.85 4.85 0 1 0 9.7 0a4.85 4.85 0 1 0 -9.7 0M556.5 733.5a4.85 4.85 0 1 0 9.7 0a4.85 4.85 0 1 0 -9.7 0M506.2 799.5a4.85 4.85 0 1 0 9.7 0a4.85 4.85 0 1 0 -9.7 0M504.9 820a4.85 4.85 0 1 0 9.7 0a4.85 4.85 0 1 0 -9.7 0M492.8 780.5a4.85 4.85 0 1 0 9.7 0a4.85 4.85 0 1 0 -9.7 0M559.3 748.3a4.85 4.85 0 1 0 9.7 0a4.85 4.85 0 1 0 -9.7 0M564.6 763.4a4.85 4.85 0 1 0 9.7 0a4.85 4.85 0 1 0 -9.7 0M504.3 814.3a4.85 4.85 0 1 0 9.7 0a4.85 4.85 0 1 0 -9.7 0M574.9 742.7a4.85 4.85 0 1 0 9.7 0a4.85 4.85 0 1 0 -9.7 0M572.9 756.2a4.85 4.85 0 1 0 9.7 0a4.85 4.85 0 1 0 -9.7 0M506.9 786.8a4.85 4.85 0 1 0 9.7 0a4.85 4.85 0 1 0 -9.7 0M498.1 786a4.85 4.85 0 1 0 9.7 0a4.85 4.85 0 1 0 -9.7 0M506 778.9a4.85 4.85 0 1 0 9.7 0a4.85 4.85 0 1 0 -9.7 0M469.1 818.4a4.85 4.85 0 1 0 9.7 0a4.85 4.85 0 1 0 -9.7 0M500.4 816.4a4.85 4.85 0 1 0 9.7 0a4.85 4.85 0 1 0 -9.7 0M515.2 800.9a4.85 4.85 0 1 0 9.7 0a4.85 4.85 0 1 0 -9.7 0M557.9 730.5a4.85 4.85 0 1 0 9.7 0a4.85 4.85 0 1 0 -9.7 0M451.1 819.3a4.85 4.85 0 1 0 9.7 0a4.85 4.85 0 1 0 -9.7 0M486.6 798.5a4.85 4.85 0 1 0 9.7 0a4.85 4.85 0 1 0 -9.7 0M535.7 798.6a4.85 4.85 0 1 0 9.7 0a4.85 4.85 0 1 0 -9.7 0M558.5 726.6a4.85 4.85 0 1 0 9.7 0a4.85 4.85 0 1 0 -9.7 0M467.6 822.7a4.85 4.85 0 1 0 9.7 0a4.85 4.85 0 1 0 -9.7 0M468.2 784.4a4.85 4.85 0 1 0 9.7 0a4.85 4.85 0 1 0 -9.7 0M565.6 736.8a4.85 4.85 0 1 0 9.7 0a4.85 4.85 0 1 0 -9.7 0M568.5 746.1a4.85 4.85 0 1 0 9.7 0a4.85 4.85 0 1 0 -9.7 0M539.6 802.1a4.85 4.85 0 1 0 9.7 0a4.85 4.85 0 1 0 -9.7 0M494.4 766.4a4.85 4.85 0 1 0 9.7 0a4.85 4.85 0 1 0 -9.7 0M513 773.8a4.85 4.85 0 1 0 9.7 0a4.85 4.85 0 1 0 -9.7 0M548.1 793.7a4.85 4.85 0 1 0 9.7 0a4.85 4.85 0 1 0 -9.7 0M504.5 780.1a4.85 4.85 0 1 0 9.7 0a4.85 4.85 0 1 0 -9.7 0M492.7 782.5a4.85 4.85 0 1 0 9.7 0a4.85 4.85 0 1 0 -9.7 0M548.9 748a4.85 4.85 0 1 0 9.7 0a4.85 4.85 0 1 0 -9.7 0M488.5 791.9a4.85 4.85 0 1 0 9.7 0a4.85 4.85 0 1 0 -9.7 0M566.5 755.6a4.85 4.85 0 1 0 9.7 0a4.85 4.85 0 1 0 -9.7 0M462.1 798a4.85 4.85 0 1 0 9.7 0a4.85 4.85 0 1 0 -9.7 0M536.2 765.1a4.85 4.85 0 1 0 9.7 0a4.85 4.85 0 1 0 -9.7 0M458.2 817.4a4.85 4.85 0 1 0 9.7 0a4.85 4.85 0 1 0 -9.7 0M483.4 806.2a4.85 4.85 0 1 0 9.7 0a4.85 4.85 0 1 0 -9.7 0M515.4 810.1a4.85 4.85 0 1 0 9.7 0a4.85 4.85 0 1 0 -9.7 0M560 739.1a4.85 4.85 0 1 0 9.7 0a4.85 4.85 0 1 0 -9.7 0M493.2 773.8a4.85 4.85 0 1 0 9.7 0a4.85 4.85 0 1 0 -9.7 0M550.8 728.1a4.85 4.85 0 1 0 9.7 0a4.85 4.85 0 1 0 -9.7 0M480.7 814.4a4.85 4.85 0 1 0 9.7 0a4.85 4.85 0 1 0 -9.7 0M546.1 746.5a4.85 4.85 0 1 0 9.7 0a4.85 4.85 0 1 0 -9.7 0M535.3 767.2a4.85 4.85 0 1 0 9.7 0a4.85 4.85 0 1 0 -9.7 0M511 793.8a4.85 4.85 0 1 0 9.7 0a4.85 4.85 0 1 0 -9.7 0M475.7 792.6a4.85 4.85 0 1 0 9.7 0a4.85 4.85 0 1 0 -9.7 0M478.7 812.1a4.85 4.85 0 1 0 9.7 0a4.85 4.85 0 1 0 -9.7 0M518.1 794.6a4.85 4.85 0 1 0 9.7 0a4.85 4.85 0 1 0 -9.7 0M464.7 795.3a4.85 4.85 0 1 0 9.7 0a4.85 4.85 0 1 0 -9.7 0M531.6 764.4a4.85 4.85 0 1 0 9.7 0a4.85 4.85 0 1 0 -9.7 0M503.6 806.4a4.85 4.85 0 1 0 9.7 0a4.85 4.85 0 1 0 -9.7 0M480.5 805.1a4.85 4.85 0 1 0 9.7 0a4.85 4.85 0 1 0 -9.7 0M559.5 752.5a4.85 4.85 0 1 0 9.7 0a4.85 4.85 0 1 0 -9.7 0M462.3 788.8a4.85 4.85 0 1 0 9.7 0a4.85 4.85 0 1 0 -9.7 0M448.9 809.9a4.85 4.85 0 1 0 9.7 0a4.85 4.85 0 1 0 -9.7 0M538.9 771.2a4.85 4.85 0 1 0 9.7 0a4.85 4.85 0 1 0 -9.7 0M564.1 774.7a4.85 4.85 0 1 0 9.7 0a4.85 4.85 0 1 0 -9.7 0M461 820a4.85 4.85 0 1 0 9.7 0a4.85 4.85 0 1 0 -9.7 0M528.4 800.9a4.85 4.85 0 1 0 9.7 0a4.85 4.85 0 1 0 -9.7 0M542.2 765.5a4.85 4.85 0 1 0 9.7 0a4.85 4.85 0 1 0 -9.7 0M467.3 788.3a4.85 4.85 0 1 0 9.7 0a4.85 4.85 0 1 0 -9.7 0M533.6 741.9a4.85 4.85 0 1 0 9.7 0a4.85 4.85 0 1 0 -9.7 0M533 756.9a4.85 4.85 0 1 0 9.7 0a4.85 4.85 0 1 0 -9.7 0M446.1 796.5a4.85 4.85 0 1 0 9.7 0a4.85 4.85 0 1 0 -9.7 0M499.6 820.1a4.85 4.85 0 1 0 9.7 0a4.85 4.85 0 1 0 -9.7 0M480.2 810a4.85 4.85 0 1 0 9.7 0a4.85 4.85 0 1 0 -9.7 0M471.9 792.3a4.85 4.85 0 1 0 9.7 0a4.85 4.85 0 1 0 -9.7 0M491.7 777.7a4.85 4.85 0 1 0 9.7 0a4.85 4.85 0 1 0 -9.7 0M565.3 732.2a4.85 4.85 0 1 0 9.7 0a4.85 4.85 0 1 0 -9.7 0M544.9 754.8a4.85 4.85 0 1 0 9.7 0a4.85 4.85 0 1 0 -9.7 0M559.8 727.2a4.85 4.85 0 1 0 9.7 0a4.85 4.85 0 1 0 -9.7 0M489.7 810.5a4.85 4.85 0 1 0 9.7 0a4.85 4.85 0 1 0 -9.7 0M548.8 780.9a4.85 4.85 0 1 0 9.7 0a4.85 4.85 0 1 0 -9.7 0M556.9 751.4a4.85 4.85 0 1 0 9.7 0a4.85 4.85 0 1 0 -9.7 0M500.2 817.5a4.85 4.85 0 1 0 9.7 0a4.85 4.85 0 1 0 -9.7 0M577.4 738.2a4.85 4.85 0 1 0 9.7 0a4.85 4.85 0 1 0 -9.7 0M512.6 792.3a4.85 4.85 0 1 0 9.7 0a4.85 4.85 0 1 0 -9.7 0M522.1 784.9a4.85 4.85 0 1 0 9.7 0a4.85 4.85 0 1 0 -9.7 0M533.9 781.1a4.85 4.85 0 1 0 9.7 0a4.85 4.85 0 1 0 -9.7 0M551.5 730.4a4.85 4.85 0 1 0 9.7 0a4.85 4.85 0 1 0 -9.7 0M512.8 793.8a4.85 4.85 0 1 0 9.7 0a4.85 4.85 0 1 0 -9.7 0M500.5 791.2a4.85 4.85 0 1 0 9.7 0a4.85 4.85 0 1 0 -9.7 0M520.5 759.6a4.85 4.85 0 1 0 9.7 0a4.85 4.85 0 1 0 -9.7 0M456.5 813.2a4.85 4.85 0 1 0 9.7 0a4.85 4.85 0 1 0 -9.7 0M516.8 761.4a4.85 4.85 0 1 0 9.7 0a4.85 4.85 0 1 0 -9.7 0M462.2 807.6a4.85 4.85 0 1 0 9.7 0a4.85 4.85 0 1 0 -9.7 0M485.4 837a4.85 4.85 0 1 0 9.7 0a4.85 4.85 0 1 0 -9.7 0M484.3 816.2a4.85 4.85 0 1 0 9.7 0a4.85 4.85 0 1 0 -9.7 0M535.8 764.2a4.85 4.85 0 1 0 9.7 0a4.85 4.85 0 1 0 -9.7 0M532.5 776a4.85 4.85 0 1 0 9.7 0a4.85 4.85 0 1 0 -9.7 0M509.9 790.5a4.85 4.85 0 1 0 9.7 0a4.85 4.85 0 1 0 -9.7 0M557 742.2a4.85 4.85 0 1 0 9.7 0a4.85 4.85 0 1 0 -9.7 0M483.2 804.8a4.85 4.85 0 1 0 9.7 0a4.85 4.85 0 1 0 -9.7 0M481.7 817.4a4.85 4.85 0 1 0 9.7 0a4.85 4.85 0 1 0 -9.7 0M510.9 796.4a4.85 4.85 0 1 0 9.7 0a4.85 4.85 0 1 0 -9.7 0M547.3 793.4a4.85 4.85 0 1 0 9.7 0a4.85 4.85 0 1 0 -9.7 0M566.3 772.6a4.85 4.85 0 1 0 9.7 0a4.85 4.85 0 1 0 -9.7 0M524.7 772a4.85 4.85 0 1 0 9.7 0a4.85 4.85 0 1 0 -9.7 0M579.1 758.7a4.85 4.85 0 1 0 9.7 0a4.85 4.85 0 1 0 -9.7 0M544 766.8a4.85 4.85 0 1 0 9.7 0a4.85 4.85 0 1 0 -9.7 0M571.2 758a4.85 4.85 0 1 0 9.7 0a4.85 4.85 0 1 0 -9.7 0M516.1 798.7a4.85 4.85 0 1 0 9.7 0a4.85 4.85 0 1 0 -9.7 0M509 799.5a4.85 4.85 0 1 0 9.7 0a4.85 4.85 0 1 0 -9.7 0M526.6 771.1a4.85 4.85 0 1 0 9.7 0a4.85 4.85 0 1 0 -9.7 0M522.7 754a4.85 4.85 0 1 0 9.7 0a4.85 4.85 0 1 0 -9.7 0M511.5 784.7a4.85 4.85 0 1 0 9.7 0a4.85 4.85 0 1 0 -9.7 0M479 795.7a4.85 4.85 0 1 0 9.7 0a4.85 4.85 0 1 0 -9.7 0M563 766.9a4.85 4.85 0 1 0 9.7 0a4.85 4.85 0 1 0 -9.7 0M508.3 780.7a4.85 4.85 0 1 0 9.7 0a4.85 4.85 0 1 0 -9.7 0M530.6 760.1a4.85 4.85 0 1 0 9.7 0a4.85 4.85 0 1 0 -9.7 0M555.7 736.6a4.85 4.85 0 1 0 9.7 0a4.85 4.85 0 1 0 -9.7 0M495.7 789.5a4.85 4.85 0 1 0 9.7 0a4.85 4.85 0 1 0 -9.7 0M466.6 826.2a4.85 4.85 0 1 0 9.7 0a4.85 4.85 0 1 0 -9.7 0M513 816.4a4.85 4.85 0 1 0 9.7 0a4.85 4.85 0 1 0 -9.7 0M455 804.7a4.85 4.85 0 1 0 9.7 0a4.85 4.85 0 1 0 -9.7 0M555 760a4.85 4.85 0 1 0 9.7 0a4.85 4.85 0 1 0 -9.7 0M480.8 810a4.85 4.85 0 1 0 9.7 0a4.85 4.85 0 1 0 -9.7 0M561.8 767.1a4.85 4.85 0 1 0 9.7 0a4.85 4.85 0 1 0 -9.7 0M515.2 760.6a4.85 4.85 0 1 0 9.7 0a4.85 4.85 0 1 0 -9.7 0M461.6 800.4a4.85 4.85 0 1 0 9.7 0a4.85 4.85 0 1 0 -9.7 0M438.4 808.7a4.85 4.85 0 1 0 9.7 0a4.85 4.85 0 1 0 -9.7 0M541 770a4.85 4.85 0 1 0 9.7 0a4.85 4.85 0 1 0 -9.7 0M507.4 810.8a4.85 4.85 0 1 0 9.7 0a4.85 4.85 0 1 0 -9.7 0M491.3 805.2a4.85 4.85 0 1 0 9.7 0a4.85 4.85 0 1 0 -9.7 0M497.8 811.5a4.85 4.85 0 1 0 9.7 0a4.85 4.85 0 1 0 -9.7 0M491.1 785.3a4.85 4.85 0 1 0 9.7 0a4.85 4.85 0 1 0 -9.7 0M509 792.3a4.85 4.85 0 1 0 9.7 0a4.85 4.85 0 1 0 -9.7 0M493.9 811.1a4.85 4.85 0 1 0 9.7 0a4.85 4.85 0 1 0 -9.7 0M554.9 765.6a4.85 4.85 0 1 0 9.7 0a4.85 4.85 0 1 0 -9.7 0M544.2 790.4a4.85 4.85 0 1 0 9.7 0a4.85 4.85 0 1 0 -9.7 0M466.2 808a4.85 4.85 0 1 0 9.7 0a4.85 4.85 0 1 0 -9.7 0M475.1 800.7a4.85 4.85 0 1 0 9.7 0a4.85 4.85 0 1 0 -9.7 0M508.9 788.4a4.85 4.85 0 1 0 9.7 0a4.85 4.85 0 1 0 -9.7 0M550.2 750.3a4.85 4.85 0 1 0 9.7 0a4.85 4.85 0 1 0 -9.7 0M504 793.4a4.85 4.85 0 1 0 9.7 0a4.85 4.85 0 1 0 -9.7 0M497.2 826.6a4.85 4.85 0 1 0 9.7 0a4.85 4.85 0 1 0 -9.7 0M513.2 761.5a4.85 4.85 0 1 0 9.7 0a4.85 4.85 0 1 0 -9.7 0M568 733.6a4.85 4.85 0 1 0 9.7 0a4.85 4.85 0 1 0 -9.7 0M511.8 797a4.85 4.85 0 1 0 9.7 0a4.85 4.85 0 1 0 -9.7 0M447.5 793.2a4.85 4.85 0 1 0 9.7 0a4.85 4.85 0 1 0 -9.7 0M531.3 770a4.85 4.85 0 1 0 9.7 0a4.85 4.85 0 1 0 -9.7 0M515.7 802.5a4.85 4.85 0 1 0 9.7 0a4.85 4.85 0 1 0 -9.7 0M459 816.6a4.85 4.85 0 1 0 9.7 0a4.85 4.85 0 1 0 -9.7 0M465.4 815.1a4.85 4.85 0 1 0 9.7 0a4.85 4.85 0 1 0 -9.7 0M500.9 773.4a4.85 4.85 0 1 0 9.7 0a4.85 4.85 0 1 0 -9.7 0M528.6 803.3a4.85 4.85 0 1 0 9.7 0a4.85 4.85 0 1 0 -9.7 0M478 817.8a4.85 4.85 0 1 0 9.7 0a4.85 4.85 0 1 0 -9.7 0M536.6 797.1a4.85 4.85 0 1 0 9.7 0a4.85 4.85 0 1 0 -9.7 0M552.7 730.7a4.85 4.85 0 1 0 9.7 0a4.85 4.85 0 1 0 -9.7 0M520.1 773.1a4.85 4.85 0 1 0 9.7 0a4.85 4.85 0 1 0 -9.7 0M477.1 805.6a4.85 4.85 0 1 0 9.7 0a4.85 4.85 0 1 0 -9.7 0M577.3 754.2a4.85 4.85 0 1 0 9.7 0a4.85 4.85 0 1 0 -9.7 0M449.8 811.7a4.85 4.85 0 1 0 9.7 0a4.85 4.85 0 1 0 -9.7 0M475.7 783.7a4.85 4.85 0 1 0 9.7 0a4.85 4.85 0 1 0 -9.7 0M555.6 721.4a4.85 4.85 0 1 0 9.7 0a4.85 4.85 0 1 0 -9.7 0M552.2 731.4a4.85 4.85 0 1 0 9.7 0a4.85 4.85 0 1 0 -9.7 0M469.5 788.2a4.85 4.85 0 1 0 9.7 0a4.85 4.85 0 1 0 -9.7 0M540.5 743.9a4.85 4.85 0 1 0 9.7 0a4.85 4.85 0 1 0 -9.7 0M544.9 748.3a4.85 4.85 0 1 0 9.7 0a4.85 4.85 0 1 0 -9.7 0M559.8 735.1a4.85 4.85 0 1 0 9.7 0a4.85 4.85 0 1 0 -9.7 0M446 800.1a4.85 4.85 0 1 0 9.7 0a4.85 4.85 0 1 0 -9.7 0M521.9 776.1a4.85 4.85 0 1 0 9.7 0a4.85 4.85 0 1 0 -9.7 0M500.2 780.8a4.85 4.85 0 1 0 9.7 0a4.85 4.85 0 1 0 -9.7 0M509.6 786.1a4.85 4.85 0 1 0 9.7 0a4.85 4.85 0 1 0 -9.7 0M576.7 726.7a4.85 4.85 0 1 0 9.7 0a4.85 4.85 0 1 0 -9.7 0M516.5 814.8a4.85 4.85 0 1 0 9.7 0a4.85 4.85 0 1 0 -9.7 0M480.7 824.1a4.85 4.85 0 1 0 9.7 0a4.85 4.85 0 1 0 -9.7 0M485.5 825.2a4.85 4.85 0 1 0 9.7 0a4.85 4.85 0 1 0 -9.7 0M477.6 784.1a4.85 4.85 0 1 0 9.7 0a4.85 4.85 0 1 0 -9.7 0M518.8 762.2a4.85 4.85 0 1 0 9.7 0a4.85 4.85 0 1 0 -9.7 0M554.8 740.7a4.85 4.85 0 1 0 9.7 0a4.85 4.85 0 1 0 -9.7 0M489.8 803.3a4.85 4.85 0 1 0 9.7 0a4.85 4.85 0 1 0 -9.7 0M559 768.6a4.85 4.85 0 1 0 9.7 0a4.85 4.85 0 1 0 -9.7 0M557.5 728.8a4.85 4.85 0 1 0 9.7 0a4.85 4.85 0 1 0 -9.7 0M485.4 788.4a4.85 4.85 0 1 0 9.7 0a4.85 4.85 0 1 0 -9.7 0M484.9 835.9a4.85 4.85 0 1 0 9.7 0a4.85 4.85 0 1 0 -9.7 0M562.6 730.3a4.85 4.85 0 1 0 9.7 0a4.85 4.85 0 1 0 -9.7 0M536.9 793.9a4.85 4.85 0 1 0 9.7 0a4.85 4.85 0 1 0 -9.7 0M495.3 818.1a4.85 4.85 0 1 0 9.7 0a4.85 4.85 0 1 0 -9.7 0M579.7 746.6a4.85 4.85 0 1 0 9.7 0a4.85 4.85 0 1 0 -9.7 0M467 789a4.85 4.85 0 1 0 9.7 0a4.85 4.85 0 1 0 -9.7 0M560 785.7a4.85 4.85 0 1 0 9.7 0a4.85 4.85 0 1 0 -9.7 0M542.7 735.9a4.85 4.85 0 1 0 9.7 0a4.85 4.85 0 1 0 -9.7 0M486.6 822.8a4.85 4.85 0 1 0 9.7 0a4.85 4.85 0 1 0 -9.7 0M520.8 794.6a4.85 4.85 0 1 0 9.7 0a4.85 4.85 0 1 0 -9.7 0M518.3 770.8a4.85 4.85 0 1 0 9.7 0a4.85 4.85 0 1 0 -9.7 0M485.4 832.8a4.85 4.85 0 1 0 9.7 0a4.85 4.85 0 1 0 -9.7 0M504.9 801.9a4.85 4.85 0 1 0 9.7 0a4.85 4.85 0 1 0 -9.7 0M532.3 808.4a4.85 4.85 0 1 0 9.7 0a4.85 4.85 0 1 0 -9.7 0M515.3 792.1a4.85 4.85 0 1 0 9.7 0a4.85 4.85 0 1 0 -9.7 0M475.6 802.8a4.85 4.85 0 1 0 9.7 0a4.85 4.85 0 1 0 -9.7 0M496.2 803a4.85 4.85 0 1 0 9.7 0a4.85 4.85 0 1 0 -9.7 0M536.2 802.7a4.85 4.85 0 1 0 9.7 0a4.85 4.85 0 1 0 -9.7 0M563.4 769.9a4.85 4.85 0 1 0 9.7 0a4.85 4.85 0 1 0 -9.7 0M570.3 737a4.85 4.85 0 1 0 9.7 0a4.85 4.85 0 1 0 -9.7 0M568.5 731.9a4.85 4.85 0 1 0 9.7 0a4.85 4.85 0 1 0 -9.7 0M500.4 767.8a4.85 4.85 0 1 0 9.7 0a4.85 4.85 0 1 0 -9.7 0M540.1 751.9a4.85 4.85 0 1 0 9.7 0a4.85 4.85 0 1 0 -9.7 0M565 770a4.85 4.85 0 1 0 9.7 0a4.85 4.85 0 1 0 -9.7 0M514.3 816.2a4.85 4.85 0 1 0 9.7 0a4.85 4.85 0 1 0 -9.7 0M494.4 766.6a4.85 4.85 0 1 0 9.7 0a4.85 4.85 0 1 0 -9.7 0M536.5 762.8a4.85 4.85 0 1 0 9.7 0a4.85 4.85 0 1 0 -9.7 0M548.4 772.6a4.85 4.85 0 1 0 9.7 0a4.85 4.85 0 1 0 -9.7 0M563.3 732.6a4.85 4.85 0 1 0 9.7 0a4.85 4.85 0 1 0 -9.7 0M537.6 802.7a4.85 4.85 0 1 0 9.7 0a4.85 4.85 0 1 0 -9.7 0M533.2 805.2a4.85 4.85 0 1 0 9.7 0a4.85 4.85 0 1 0 -9.7 0M576.7 721.9a4.85 4.85 0 1 0 9.7 0a4.85 4.85 0 1 0 -9.7 0M446.5 809.4a4.85 4.85 0 1 0 9.7 0a4.85 4.85 0 1 0 -9.7 0M487.8 788.4a4.85 4.85 0 1 0 9.7 0a4.85 4.85 0 1 0 -9.7 0M544.2 738.3a4.85 4.85 0 1 0 9.7 0a4.85 4.85 0 1 0 -9.7 0M525.6 753.1a4.85 4.85 0 1 0 9.7 0a4.85 4.85 0 1 0 -9.7 0M487.8 834.9a4.85 4.85 0 1 0 9.7 0a4.85 4.85 0 1 0 -9.7 0M504 791.5a4.85 4.85 0 1 0 9.7 0a4.85 4.85 0 1 0 -9.7 0M578.5 732.7a4.85 4.85 0 1 0 9.7 0a4.85 4.85 0 1 0 -9.7 0M468.1 791.7a4.85 4.85 0 1 0 9.7 0a4.85 4.85 0 1 0 -9.7 0M473.1 794.5a4.85 4.85 0 1 0 9.7 0a4.85 4.85 0 1 0 -9.7 0M556.6 774.8a4.85 4.85 0 1 0 9.7 0a4.85 4.85 0 1 0 -9.7 0M470.9 820a4.85 4.85 0 1 0 9.7 0a4.85 4.85 0 1 0 -9.7 0M517.6 806.3a4.85 4.85 0 1 0 9.7 0a4.85 4.85 0 1 0 -9.7 0M541.9 763.3a4.85 4.85 0 1 0 9.7 0a4.85 4.85 0 1 0 -9.7 0M463.8 812.5a4.85 4.85 0 1 0 9.7 0a4.85 4.85 0 1 0 -9.7 0M487.9 796.9a4.85 4.85 0 1 0 9.7 0a4.85 4.85 0 1 0 -9.7 0M495.3 816.7a4.85 4.85 0 1 0 9.7 0a4.85 4.85 0 1 0 -9.7 0M508.7 806.5a4.85 4.85 0 1 0 9.7 0a4.85 4.85 0 1 0 -9.7 0M470.5 822.3a4.85 4.85 0 1 0 9.7 0a4.85 4.85 0 1 0 -9.7 0M495.2 818.8a4.85 4.85 0 1 0 9.7 0a4.85 4.85 0 1 0 -9.7 0M563.6 745.7a4.85 4.85 0 1 0 9.7 0a4.85 4.85 0 1 0 -9.7 0M478.3 809.5a4.85 4.85 0 1 0 9.7 0a4.85 4.85 0 1 0 -9.7 0M529 792.6a4.85 4.85 0 1 0 9.7 0a4.85 4.85 0 1 0 -9.7 0M539.1 773.5a4.85 4.85 0 1 0 9.7 0a4.85 4.85 0 1 0 -9.7 0M500.8 791.1a4.85 4.85 0 1 0 9.7 0a4.85 4.85 0 1 0 -9.7 0M572.7 745.3a4.85 4.85 0 1 0 9.7 0a4.85 4.85 0 1 0 -9.7 0M525.4 802.5a4.85 4.85 0 1 0 9.7 0a4.85 4.85 0 1 0 -9.7 0M517.7 814.7a4.85 4.85 0 1 0 9.7 0a4.85 4.85 0 1 0 -9.7 0M473.9 776.3a4.85 4.85 0 1 0 9.7 0a4.85 4.85 0 1 0 -9.7 0M531.7 784.9a4.85 4.85 0 1 0 9.7 0a4.85 4.85 0 1 0 -9.7 0M452.8 801.4a4.85 4.85 0 1 0 9.7 0a4.85 4.85 0 1 0 -9.7 0M581.7 753.9a4.85 4.85 0 1 0 9.7 0a4.85 4.85 0 1 0 -9.7 0M483.8 813.9a4.85 4.85 0 1 0 9.7 0a4.85 4.85 0 1 0 -9.7 0M500.5 805.1a4.85 4.85 0 1 0 9.7 0a4.85 4.85 0 1 0 -9.7 0M470.8 816.9a4.85 4.85 0 1 0 9.7 0a4.85 4.85 0 1 0 -9.7 0M545.9 757.9a4.85 4.85 0 1 0 9.7 0a4.85 4.85 0 1 0 -9.7 0M466 782.6a4.85 4.85 0 1 0 9.7 0a4.85 4.85 0 1 0 -9.7 0M547.5 781.4a4.85 4.85 0 1 0 9.7 0a4.85 4.85 0 1 0 -9.7 0M482 769.3a4.85 4.85 0 1 0 9.7 0a4.85 4.85 0 1 0 -9.7 0M572.7 723.7a4.85 4.85 0 1 0 9.7 0a4.85 4.85 0 1 0 -9.7 0M542.5 775.3a4.85 4.85 0 1 0 9.7 0a4.85 4.85 0 1 0 -9.7 0M450.7 825.1a4.85 4.85 0 1 0 9.7 0a4.85 4.85 0 1 0 -9.7 0M515.9 783.4a4.85 4.85 0 1 0 9.7 0a4.85 4.85 0 1 0 -9.7 0M562.8 758.5a4.85 4.85 0 1 0 9.7 0a4.85 4.85 0 1 0 -9.7 0M545.8 730.5a4.85 4.85 0 1 0 9.7 0a4.85 4.85 0 1 0 -9.7 0M573.8 766.6a4.85 4.85 0 1 0 9.7 0a4.85 4.85 0 1 0 -9.7 0M484.7 775.5a4.85 4.85 0 1 0 9.7 0a4.85 4.85 0 1 0 -9.7 0M535.8 752.2a4.85 4.85 0 1 0 9.7 0a4.85 4.85 0 1 0 -9.7 0M557.9 749.1a4.85 4.85 0 1 0 9.7 0a4.85 4.85 0 1 0 -9.7 0M521.4 808.2a4.85 4.85 0 1 0 9.7 0a4.85 4.85 0 1 0 -9.7 0M535.3 780.5a4.85 4.85 0 1 0 9.7 0a4.85 4.85 0 1 0 -9.7 0M520.5 804.3a4.85 4.85 0 1 0 9.7 0a4.85 4.85 0 1 0 -9.7 0M566.7 758.5a4.85 4.85 0 1 0 9.7 0a4.85 4.85 0 1 0 -9.7 0M535 760.6a4.85 4.85 0 1 0 9.7 0a4.85 4.85 0 1 0 -9.7 0M534.1 800.4a4.85 4.85 0 1 0 9.7 0a4.85 4.85 0 1 0 -9.7 0M486.7 832.3a4.85 4.85 0 1 0 9.7 0a4.85 4.85 0 1 0 -9.7 0M487.7 790.2a4.85 4.85 0 1 0 9.7 0a4.85 4.85 0 1 0 -9.7 0M505.3 774.1a4.85 4.85 0 1 0 9.7 0a4.85 4.85 0 1 0 -9.7 0M572.3 767.9a4.85 4.85 0 1 0 9.7 0a4.85 4.85 0 1 0 -9.7 0M555 759.5a4.85 4.85 0 1 0 9.7 0a4.85 4.85 0 1 0 -9.7 0M490.4 778.7a4.85 4.85 0 1 0 9.7 0a4.85 4.85 0 1 0 -9.7 0M547.8 761.6a4.85 4.85 0 1 0 9.7 0a4.85 4.85 0 1 0 -9.7 0M540.3 779.8a4.85 4.85 0 1 0 9.7 0a4.85 4.85 0 1 0 -9.7 0M448.3 806.9a4.85 4.85 0 1 0 9.7 0a4.85 4.85 0 1 0 -9.7 0M489.2 771.6a4.85 4.85 0 1 0 9.7 0a4.85 4.85 0 1 0 -9.7 0M537.5 792.9a4.85 4.85 0 1 0 9.7 0a4.85 4.85 0 1 0 -9.7 0M500.8 792.4a4.85 4.85 0 1 0 9.7 0a4.85 4.85 0 1 0 -9.7 0M563.9 737.2a4.85 4.85 0 1 0 9.7 0a4.85 4.85 0 1 0 -9.7 0M562.1 754.8a4.85 4.85 0 1 0 9.7 0a4.85 4.85 0 1 0 -9.7 0M567.3 739.7a4.85 4.85 0 1 0 9.7 0a4.85 4.85 0 1 0 -9.7 0M483.1 820.9a4.85 4.85 0 1 0 9.7 0a4.85 4.85 0 1 0 -9.7 0M510.5 786.1a4.85 4.85 0 1 0 9.7 0a4.85 4.85 0 1 0 -9.7 0M520.6 789.3a4.85 4.85 0 1 0 9.7 0a4.85 4.85 0 1 0 -9.7 0M479.1 834.3a4.85 4.85 0 1 0 9.7 0a4.85 4.85 0 1 0 -9.7 0M491.3 786.6a4.85 4.85 0 1 0 9.7 0a4.85 4.85 0 1 0 -9.7 0M560.6 734.8a4.85 4.85 0 1 0 9.7 0a4.85 4.85 0 1 0 -9.7 0M533.3 751.9a4.85 4.85 0 1 0 9.7 0a4.85 4.85 0 1 0 -9.7 0M451.1 794.9a4.85 4.85 0 1 0 9.7 0a4.85 4.85 0 1 0 -9.7 0M546.6 751.8a4.85 4.85 0 1 0 9.7 0a4.85 4.85 0 1 0 -9.7 0M566.3 749.9a4.85 4.85 0 1 0 9.7 0a4.85 4.85 0 1 0 -9.7 0M541.2 771.9a4.85 4.85 0 1 0 9.7 0a4.85 4.85 0 1 0 -9.7 0M546.6 782.8a4.85 4.85 0 1 0 9.7 0a4.85 4.85 0 1 0 -9.7 0M489.8 810.9a4.85 4.85 0 1 0 9.7 0a4.85 4.85 0 1 0 -9.7 0M460.3 801.4a4.85 4.85 0 1 0 9.7 0a4.85 4.85 0 1 0 -9.7 0M478.4 786.6a4.85 4.85 0 1 0 9.7 0a4.85 4.85 0 1 0 -9.7 0M449.4 819.6a4.85 4.85 0 1 0 9.7 0a4.85 4.85 0 1 0 -9.7 0M483.5 773.8a4.85 4.85 0 1 0 9.7 0a4.85 4.85 0 1 0 -9.7 0M475.7 823.7a4.85 4.85 0 1 0 9.7 0a4.85 4.85 0 1 0 -9.7 0M563.8 737.4a4.85 4.85 0 1 0 9.7 0a4.85 4.85 0 1 0 -9.7 0M508.4 812.3a4.85 4.85 0 1 0 9.7 0a4.85 4.85 0 1 0 -9.7 0M557.4 741a4.85 4.85 0 1 0 9.7 0a4.85 4.85 0 1 0 -9.7 0M510.2 793.6a4.85 4.85 0 1 0 9.7 0a4.85 4.85 0 1 0 -9.7 0M554.4 770.2a4.85 4.85 0 1 0 9.7 0a4.85 4.85 0 1 0 -9.7 0M555.5 734.8a4.85 4.85 0 1 0 9.7 0a4.85 4.85 0 1 0 -9.7 0M473.5 804.6a4.85 4.85 0 1 0 9.7 0a4.85 4.85 0 1 0 -9.7 0M505.6 804.1a4.85 4.85 0 1 0 9.7 0a4.85 4.85 0 1 0 -9.7 0M579.5 759.8a4.85 4.85 0 1 0 9.7 0a4.85 4.85 0 1 0 -9.7 0M462 800.5a4.85 4.85 0 1 0 9.7 0a4.85 4.85 0 1 0 -9.7 0M464.3 797a4.85 4.85 0 1 0 9.7 0a4.85 4.85 0 1 0 -9.7 0M522.2 776.8a4.85 4.85 0 1 0 9.7 0a4.85 4.85 0 1 0 -9.7 0M473.4 796.7a4.85 4.85 0 1 0 9.7 0a4.85 4.85 0 1 0 -9.7 0M444.7 804.9a4.85 4.85 0 1 0 9.7 0a4.85 4.85 0 1 0 -9.7 0M536.2 786.3a4.85 4.85 0 1 0 9.7 0a4.85 4.85 0 1 0 -9.7 0M498.2 763.5a4.85 4.85 0 1 0 9.7 0a4.85 4.85 0 1 0 -9.7 0M573.5 769a4.85 4.85 0 1 0 9.7 0a4.85 4.85 0 1 0 -9.7 0M566.2 766.1a4.85 4.85 0 1 0 9.7 0a4.85 4.85 0 1 0 -9.7 0M535 765.2a4.85 4.85 0 1 0 9.7 0a4.85 4.85 0 1 0 -9.7 0M526.1 756a4.85 4.85 0 1 0 9.7 0a4.85 4.85 0 1 0 -9.7 0M551.7 724.1a4.85 4.85 0 1 0 9.7 0a4.85 4.85 0 1 0 -9.7 0M501.8 813.4a4.85 4.85 0 1 0 9.7 0a4.85 4.85 0 1 0 -9.7 0M487.6 813.6a4.85 4.85 0 1 0 9.7 0a4.85 4.85 0 1 0 -9.7 0M564 767.5a4.85 4.85 0 1 0 9.7 0a4.85 4.85 0 1 0 -9.7 0M529.8 765.6a4.85 4.85 0 1 0 9.7 0a4.85 4.85 0 1 0 -9.7 0M574.3 728.9a4.85 4.85 0 1 0 9.7 0a4.85 4.85 0 1 0 -9.7 0M527.7 771.9a4.85 4.85 0 1 0 9.7 0a4.85 4.85 0 1 0 -9.7 0M546.8 753.2a4.85 4.85 0 1 0 9.7 0a4.85 4.85 0 1 0 -9.7 0M448.9 800.2a4.85 4.85 0 1 0 9.7 0a4.85 4.85 0 1 0 -9.7 0M519.4 789.2a4.85 4.85 0 1 0 9.7 0a4.85 4.85 0 1 0 -9.7 0M476.6 780.9a4.85 4.85 0 1 0 9.7 0a4.85 4.85 0 1 0 -9.7 0M470.6 812a4.85 4.85 0 1 0 9.7 0a4.85 4.85 0 1 0 -9.7 0M498 818.5a4.85 4.85 0 1 0 9.7 0a4.85 4.85 0 1 0 -9.7 0M561.7 743.1a4.85 4.85 0 1 0 9.7 0a4.85 4.85 0 1 0 -9.7 0M562.1 780.3a4.85 4.85 0 1 0 9.7 0a4.85 4.85 0 1 0 -9.7 0M556.8 728.3a4.85 4.85 0 1 0 9.7 0a4.85 4.85 0 1 0 -9.7 0M528.4 806a4.85 4.85 0 1 0 9.7 0a4.85 4.85 0 1 0 -9.7 0M583 741.6a4.85 4.85 0 1 0 9.7 0a4.85 4.85 0 1 0 -9.7 0M546.5 758.1a4.85 4.85 0 1 0 9.7 0a4.85 4.85 0 1 0 -9.7 0M520.7 804.2a4.85 4.85 0 1 0 9.7 0a4.85 4.85 0 1 0 -9.7 0M489.8 793.6a4.85 4.85 0 1 0 9.7 0a4.85 4.85 0 1 0 -9.7 0M529.4 780.1a4.85 4.85 0 1 0 9.7 0a4.85 4.85 0 1 0 -9.7 0M537.1 772.3a4.85 4.85 0 1 0 9.7 0a4.85 4.85 0 1 0 -9.7 0M532.1 771.3a4.85 4.85 0 1 0 9.7 0a4.85 4.85 0 1 0 -9.7 0M541.5 768.4a4.85 4.85 0 1 0 9.7 0a4.85 4.85 0 1 0 -9.7 0M584 738.5a4.85 4.85 0 1 0 9.7 0a4.85 4.85 0 1 0 -9.7 0M573.6 726a4.85 4.85 0 1 0 9.7 0a4.85 4.85 0 1 0 -9.7 0M499.1 796.9a4.85 4.85 0 1 0 9.7 0a4.85 4.85 0 1 0 -9.7 0M490.7 797a4.85 4.85 0 1 0 9.7 0a4.85 4.85 0 1 0 -9.7 0M515.4 764.1a4.85 4.85 0 1 0 9.7 0a4.85 4.85 0 1 0 -9.7 0M583.8 734.6a4.85 4.85 0 1 0 9.7 0a4.85 4.85 0 1 0 -9.7 0M554.8 736a4.85 4.85 0 1 0 9.7 0a4.85 4.85 0 1 0 -9.7 0M539.9 749.5a4.85 4.85 0 1 0 9.7 0a4.85 4.85 0 1 0 -9.7 0M484.9 803.9a4.85 4.85 0 1 0 9.7 0a4.85 4.85 0 1 0 -9.7 0M551.3 750.7a4.85 4.85 0 1 0 9.7 0a4.85 4.85 0 1 0 -9.7 0M477.9 795a4.85 4.85 0 1 0 9.7 0a4.85 4.85 0 1 0 -9.7 0M494.4 808a4.85 4.85 0 1 0 9.7 0a4.85 4.85 0 1 0 -9.7 0M465.8 828.2a4.85 4.85 0 1 0 9.7 0a4.85 4.85 0 1 0 -9.7 0M537.4 770.7a4.85 4.85 0 1 0 9.7 0a4.85 4.85 0 1 0 -9.7 0M542.3 755.9a4.85 4.85 0 1 0 9.7 0a4.85 4.85 0 1 0 -9.7 0M560.2 729.2a4.85 4.85 0 1 0 9.7 0a4.85 4.85 0 1 0 -9.7 0M480.2 824.8a4.85 4.85 0 1 0 9.7 0a4.85 4.85 0 1 0 -9.7 0M559.9 721.3a4.85 4.85 0 1 0 9.7 0a4.85 4.85 0 1 0 -9.7 0M525.1 785.7a4.85 4.85 0 1 0 9.7 0a4.85 4.85 0 1 0 -9.7 0M499.2 766.1a4.85 4.85 0 1 0 9.7 0a4.85 4.85 0 1 0 -9.7 0M510.8 811.4a4.85 4.85 0 1 0 9.7 0a4.85 4.85 0 1 0 -9.7 0M547.2 744.9a4.85 4.85 0 1 0 9.7 0a4.85 4.85 0 1 0 -9.7 0M571.6 738.2a4.85 4.85 0 1 0 9.7 0a4.85 4.85 0 1 0 -9.7 0M534.2 764.2a4.85 4.85 0 1 0 9.7 0a4.85 4.85 0 1 0 -9.7 0M522.7 790.5a4.85 4.85 0 1 0 9.7 0a4.85 4.85 0 1 0 -9.7 0M555.6 749.1a4.85 4.85 0 1 0 9.7 0a4.85 4.85 0 1 0 -9.7 0M531.7 779.3a4.85 4.85 0 1 0 9.7 0a4.85 4.85 0 1 0 -9.7 0M534.3 760.4a4.85 4.85 0 1 0 9.7 0a4.85 4.85 0 1 0 -9.7 0M490.9 796.1a4.85 4.85 0 1 0 9.7 0a4.85 4.85 0 1 0 -9.7 0M544.6 756.7a4.85 4.85 0 1 0 9.7 0a4.85 4.85 0 1 0 -9.7 0M521.4 765.4a4.85 4.85 0 1 0 9.7 0a4.85 4.85 0 1 0 -9.7 0M564.1 747.4a4.85 4.85 0 1 0 9.7 0a4.85 4.85 0 1 0 -9.7 0M527.9 770.8a4.85 4.85 0 1 0 9.7 0a4.85 4.85 0 1 0 -9.7 0M503.8 815.4a4.85 4.85 0 1 0 9.7 0a4.85 4.85 0 1 0 -9.7 0M518.2 809.7a4.85 4.85 0 1 0 9.7 0a4.85 4.85 0 1 0 -9.7 0M527.3 797.5a4.85 4.85 0 1 0 9.7 0a4.85 4.85 0 1 0 -9.7 0M441.4 814.7a4.85 4.85 0 1 0 9.7 0a4.85 4.85 0 1 0 -9.7 0M544.1 777a4.85 4.85 0 1 0 9.7 0a4.85 4.85 0 1 0 -9.7 0M459.5 800.1a4.85 4.85 0 1 0 9.7 0a4.85 4.85 0 1 0 -9.7 0M566 743.4a4.85 4.85 0 1 0 9.7 0a4.85 4.85 0 1 0 -9.7 0M567.9 725.2a4.85 4.85 0 1 0 9.7 0a4.85 4.85 0 1 0 -9.7 0M494.5 787.9a4.85 4.85 0 1 0 9.7 0a4.85 4.85 0 1 0 -9.7 0M549.6 795.4a4.85 4.85 0 1 0 9.7 0a4.85 4.85 0 1 0 -9.7 0M534.3 736.8a4.85 4.85 0 1 0 9.7 0a4.85 4.85 0 1 0 -9.7 0M568.7 780.8a4.85 4.85 0 1 0 9.7 0a4.85 4.85 0 1 0 -9.7 0M487.6 837.8a4.85 4.85 0 1 0 9.7 0a4.85 4.85 0 1 0 -9.7 0M468.1 829.8a4.85 4.85 0 1 0 9.7 0a4.85 4.85 0 1 0 -9.7 0M484.6 761.5a4.85 4.85 0 1 0 9.7 0a4.85 4.85 0 1 0 -9.7 0M452.7 787.9a4.85 4.85 0 1 0 9.7 0a4.85 4.85 0 1 0 -9.7 0M561.8 797.3a4.85 4.85 0 1 0 9.7 0a4.85 4.85 0 1 0 -9.7 0M569.1 779a4.85 4.85 0 1 0 9.7 0a4.85 4.85 0 1 0 -9.7 0M587.9 749.5a4.85 4.85 0 1 0 9.7 0a4.85 4.85 0 1 0 -9.7 0M442 825.4a4.85 4.85 0 1 0 9.7 0a4.85 4.85 0 1 0 -9.7 0M461 781.1a4.85 4.85 0 1 0 9.7 0a4.85 4.85 0 1 0 -9.7 0M469.1 776.7a4.85 4.85 0 1 0 9.7 0a4.85 4.85 0 1 0 -9.7 0M495.8 762.6a4.85 4.85 0 1 0 9.7 0a4.85 4.85 0 1 0 -9.7 0M487.7 838.5a4.85 4.85 0 1 0 9.7 0a4.85 4.85 0 1 0 -9.7 0M580.6 717.3a4.85 4.85 0 1 0 9.7 0a4.85 4.85 0 1 0 -9.7 0M446.1 788.6a4.85 4.85 0 1 0 9.7 0a4.85 4.85 0 1 0 -9.7 0M427.6 804.4a4.85 4.85 0 1 0 9.7 0a4.85 4.85 0 1 0 -9.7 0M442.4 791.2a4.85 4.85 0 1 0 9.7 0a4.85 4.85 0 1 0 -9.7 0M463.7 837.3a4.85 4.85 0 1 0 9.7 0a4.85 4.85 0 1 0 -9.7 0M474.9 770.3a4.85 4.85 0 1 0 9.7 0a4.85 4.85 0 1 0 -9.7 0M433.5 806.8a4.85 4.85 0 1 0 9.7 0a4.85 4.85 0 1 0 -9.7 0M585 740a4.85 4.85 0 1 0 9.7 0a4.85 4.85 0 1 0 -9.7 0M518.8 817a4.85 4.85 0 1 0 9.7 0a4.85 4.85 0 1 0 -9.7 0M485.5 767.9a4.85 4.85 0 1 0 9.7 0a4.85 4.85 0 1 0 -9.7 0M562.8 784.7a4.85 4.85 0 1 0 9.7 0a4.85 4.85 0 1 0 -9.7 0M552.2 799.6a4.85 4.85 0 1 0 9.7 0a4.85 4.85 0 1 0 -9.7 0M526.3 724a4.85 4.85 0 1 0 9.7 0a4.85 4.85 0 1 0 -9.7 0M547.4 796.1a4.85 4.85 0 1 0 9.7 0a4.85 4.85 0 1 0 -9.7 0M449.9 790.4a4.85 4.85 0 1 0 9.7 0a4.85 4.85 0 1 0 -9.7 0M539.3 720.5a4.85 4.85 0 1 0 9.7 0a4.85 4.85 0 1 0 -9.7 0M544.6 726.9a4.85 4.85 0 1 0 9.7 0a4.85 4.85 0 1 0 -9.7 0M441.1 824.5a4.85 4.85 0 1 0 9.7 0a4.85 4.85 0 1 0 -9.7 0M461.5 831.4a4.85 4.85 0 1 0 9.7 0a4.85 4.85 0 1 0 -9.7 0M473.9 833.5a4.85 4.85 0 1 0 9.7 0a4.85 4.85 0 1 0 -9.7 0M587.3 724.2a4.85 4.85 0 1 0 9.7 0a4.85 4.85 0 1 0 -9.7 0M440.3 795.3a4.85 4.85 0 1 0 9.7 0a4.85 4.85 0 1 0 -9.7 0M540.5 812.5a4.85 4.85 0 1 0 9.7 0a4.85 4.85 0 1 0 -9.7 0M553.1 796.7a4.85 4.85 0 1 0 9.7 0a4.85 4.85 0 1 0 -9.7 0M488.3 839.4a4.85 4.85 0 1 0 9.7 0a4.85 4.85 0 1 0 -9.7 0M488 762.3a4.85 4.85 0 1 0 9.7 0a4.85 4.85 0 1 0 -9.7 0M549.9 815.7a4.85 4.85 0 1 0 9.7 0a4.85 4.85 0 1 0 -9.7 0M446.1 831.5a4.85 4.85 0 1 0 9.7 0a4.85 4.85 0 1 0 -9.7 0M516.3 755.7a4.85 4.85 0 1 0 9.7 0a4.85 4.85 0 1 0 -9.7 0M556.8 792.2a4.85 4.85 0 1 0 9.7 0a4.85 4.85 0 1 0 -9.7 0M454.9 827.8a4.85 4.85 0 1 0 9.7 0a4.85 4.85 0 1 0 -9.7 0M460.9 779.7a4.85 4.85 0 1 0 9.7 0a4.85 4.85 0 1 0 -9.7 0M486.9 839.2a4.85 4.85 0 1 0 9.7 0a4.85 4.85 0 1 0 -9.7 0M484.1 768a4.85 4.85 0 1 0 9.7 0a4.85 4.85 0 1 0 -9.7 0M583.4 754.5a4.85 4.85 0 1 0 9.7 0a4.85 4.85 0 1 0 -9.7 0M503.6 825.1a4.85 4.85 0 1 0 9.7 0a4.85 4.85 0 1 0 -9.7 0M540.7 731.4a4.85 4.85 0 1 0 9.7 0a4.85 4.85 0 1 0 -9.7 0M446.8 826.2a4.85 4.85 0 1 0 9.7 0a4.85 4.85 0 1 0 -9.7 0M434.7 823.1a4.85 4.85 0 1 0 9.7 0a4.85 4.85 0 1 0 -9.7 0M508.7 818.7a4.85 4.85 0 1 0 9.7 0a4.85 4.85 0 1 0 -9.7 0M436.5 804.2a4.85 4.85 0 1 0 9.7 0a4.85 4.85 0 1 0 -9.7 0M469.7 775.4a4.85 4.85 0 1 0 9.7 0a4.85 4.85 0 1 0 -9.7 0M508.5 751.2a4.85 4.85 0 1 0 9.7 0a4.85 4.85 0 1 0 -9.7 0M565.7 716.2a4.85 4.85 0 1 0 9.7 0a4.85 4.85 0 1 0 -9.7 0M497.1 832.5a4.85 4.85 0 1 0 9.7 0a4.85 4.85 0 1 0 -9.7 0M541.8 726.3a4.85 4.85 0 1 0 9.7 0a4.85 4.85 0 1 0 -9.7 0M435 806.9a4.85 4.85 0 1 0 9.7 0a4.85 4.85 0 1 0 -9.7 0M527.4 820.1a4.85 4.85 0 1 0 9.7 0a4.85 4.85 0 1 0 -9.7 0M454.1 785.4a4.85 4.85 0 1 0 9.7 0a4.85 4.85 0 1 0 -9.7 0M500.7 757.3a4.85 4.85 0 1 0 9.7 0a4.85 4.85 0 1 0 -9.7 0M551.3 720a4.85 4.85 0 1 0 9.7 0a4.85 4.85 0 1 0 -9.7 0M472.4 834.8a4.85 4.85 0 1 0 9.7 0a4.85 4.85 0 1 0 -9.7 0M510.1 755a4.85 4.85 0 1 0 9.7 0a4.85 4.85 0 1 0 -9.7 0M486.3 757.2a4.85 4.85 0 1 0 9.7 0a4.85 4.85 0 1 0 -9.7 0M434.4 811a4.85 4.85 0 1 0 9.7 0a4.85 4.85 0 1 0 -9.7 0M446.9 787.5a4.85 4.85 0 1 0 9.7 0a4.85 4.85 0 1 0 -9.7 0M468.1 771.8a4.85 4.85 0 1 0 9.7 0a4.85 4.85 0 1 0 -9.7 0M591.6 746.7a4.85 4.85 0 1 0 9.7 0a4.85 4.85 0 1 0 -9.7 0M579.8 725.4a4.85 4.85 0 1 0 9.7 0a4.85 4.85 0 1 0 -9.7 0M480.9 764.1a4.85 4.85 0 1 0 9.7 0a4.85 4.85 0 1 0 -9.7 0M484.3 768.3a4.85 4.85 0 1 0 9.7 0a4.85 4.85 0 1 0 -9.7 0M505.2 832.6a4.85 4.85 0 1 0 9.7 0a4.85 4.85 0 1 0 -9.7 0M487.3 839.3a4.85 4.85 0 1 0 9.7 0a4.85 4.85 0 1 0 -9.7 0M567.4 715.9a4.85 4.85 0 1 0 9.7 0a4.85 4.85 0 1 0 -9.7 0M538.1 809.1a4.85 4.85 0 1 0 9.7 0a4.85 4.85 0 1 0 -9.7 0M555.6 719.9a4.85 4.85 0 1 0 9.7 0a4.85 4.85 0 1 0 -9.7 0M531.1 812a4.85 4.85 0 1 0 9.7 0a4.85 4.85 0 1 0 -9.7 0M536.2 730.4a4.85 4.85 0 1 0 9.7 0a4.85 4.85 0 1 0 -9.7 0M540.7 730.1a4.85 4.85 0 1 0 9.7 0a4.85 4.85 0 1 0 -9.7 0M501.9 761.5a4.85 4.85 0 1 0 9.7 0a4.85 4.85 0 1 0 -9.7 0M579.9 762.7a4.85 4.85 0 1 0 9.7 0a4.85 4.85 0 1 0 -9.7 0M438.2 823.4a4.85 4.85 0 1 0 9.7 0a4.85 4.85 0 1 0 -9.7 0M443.7 831.6a4.85 4.85 0 1 0 9.7 0a4.85 4.85 0 1 0 -9.7 0M541 803.2a4.85 4.85 0 1 0 9.7 0a4.85 4.85 0 1 0 -9.7 0M532.5 810.7a4.85 4.85 0 1 0 9.7 0a4.85 4.85 0 1 0 -9.7 0M483.8 839.1a4.85 4.85 0 1 0 9.7 0a4.85 4.85 0 1 0 -9.7 0M477.3 764.5a4.85 4.85 0 1 0 9.7 0a4.85 4.85 0 1 0 -9.7 0M520.9 754.4a4.85 4.85 0 1 0 9.7 0a4.85 4.85 0 1 0 -9.7 0M479.6 760.1a4.85 4.85 0 1 0 9.7 0a4.85 4.85 0 1 0 -9.7 0M577.4 769.2a4.85 4.85 0 1 0 9.7 0a4.85 4.85 0 1 0 -9.7 0M436.2 814.1a4.85 4.85 0 1 0 9.7 0a4.85 4.85 0 1 0 -9.7 0M506.6 819.4a4.85 4.85 0 1 0 9.7 0a4.85 4.85 0 1 0 -9.7 0M525.5 748.3a4.85 4.85 0 1 0 9.7 0a4.85 4.85 0 1 0 -9.7 0M435.3 814.2a4.85 4.85 0 1 0 9.7 0a4.85 4.85 0 1 0 -9.7 0M508.1 758.3a4.85 4.85 0 1 0 9.7 0a4.85 4.85 0 1 0 -9.7 0M583.9 743.7a4.85 4.85 0 1 0 9.7 0a4.85 4.85 0 1 0 -9.7 0M505.9 821.8a4.85 4.85 0 1 0 9.7 0a4.85 4.85 0 1 0 -9.7 0M457.9 778.4a4.85 4.85 0 1 0 9.7 0a4.85 4.85 0 1 0 -9.7 0M436.1 804.8a4.85 4.85 0 1 0 9.7 0a4.85 4.85 0 1 0 -9.7 0M584.4 730.2a4.85 4.85 0 1 0 9.7 0a4.85 4.85 0 1 0 -9.7 0M460.1 827.9a4.85 4.85 0 1 0 9.7 0a4.85 4.85 0 1 0 -9.7 0M525.3 742.5a4.85 4.85 0 1 0 9.7 0a4.85 4.85 0 1 0 -9.7 0M467.6 776.8a4.85 4.85 0 1 0 9.7 0a4.85 4.85 0 1 0 -9.7 0M545.1 725.1a4.85 4.85 0 1 0 9.7 0a4.85 4.85 0 1 0 -9.7 0M454 829.7a4.85 4.85 0 1 0 9.7 0a4.85 4.85 0 1 0 -9.7 0M583.9 742.6a4.85 4.85 0 1 0 9.7 0a4.85 4.85 0 1 0 -9.7 0M429.4 804.7a4.85 4.85 0 1 0 9.7 0a4.85 4.85 0 1 0 -9.7 0M569.3 777.9a4.85 4.85 0 1 0 9.7 0a4.85 4.85 0 1 0 -9.7 0M540 730a4.85 4.85 0 1 0 9.7 0a4.85 4.85 0 1 0 -9.7 0M561.3 788.4a4.85 4.85 0 1 0 9.7 0a4.85 4.85 0 1 0 -9.7 0M574.7 715.9a4.85 4.85 0 1 0 9.7 0a4.85 4.85 0 1 0 -9.7 0M433.9 822.6a4.85 4.85 0 1 0 9.7 0a4.85 4.85 0 1 0 -9.7 0M505.6 759.8a4.85 4.85 0 1 0 9.7 0a4.85 4.85 0 1 0 -9.7 0M456.2 829a4.85 4.85 0 1 0 9.7 0a4.85 4.85 0 1 0 -9.7 0M518.3 745.5a4.85 4.85 0 1 0 9.7 0a4.85 4.85 0 1 0 -9.7 0M434.8 834.6a4.85 4.85 0 1 0 9.7 0a4.85 4.85 0 1 0 -9.7 0M447.7 849.4a4.85 4.85 0 1 0 9.7 0a4.85 4.85 0 1 0 -9.7 0M477.2 846.4a4.85 4.85 0 1 0 9.7 0a4.85 4.85 0 1 0 -9.7 0M499.7 843.9a4.85 4.85 0 1 0 9.7 0a4.85 4.85 0 1 0 -9.7 0M436.1 844.7a4.85 4.85 0 1 0 9.7 0a4.85 4.85 0 1 0 -9.7 0M439.6 859.9a4.85 4.85 0 1 0 9.7 0a4.85 4.85 0 1 0 -9.7 0M461.2 848a4.85 4.85 0 1 0 9.7 0a4.85 4.85 0 1 0 -9.7 0M494.5 841.1a4.85 4.85 0 1 0 9.7 0a4.85 4.85 0 1 0 -9.7 0M404 840.4a4.85 4.85 0 1 0 9.7 0a4.85 4.85 0 1 0 -9.7 0M502.8 840a4.85 4.85 0 1 0 9.7 0a4.85 4.85 0 1 0 -9.7 0M354 814.7a4.85 4.85 0 1 0 9.7 0a4.85 4.85 0 1 0 -9.7 0M416.3 817.7a4.85 4.85 0 1 0 9.7 0a4.85 4.85 0 1 0 -9.7 0M446.7 857.6a4.85 4.85 0 1 0 9.7 0a4.85 4.85 0 1 0 -9.7 0M380.5 852.4a4.85 4.85 0 1 0 9.7 0a4.85 4.85 0 1 0 -9.7 0M409.4 825.6a4.85 4.85 0 1 0 9.7 0a4.85 4.85 0 1 0 -9.7 0M394.7 843.5a4.85 4.85 0 1 0 9.7 0a4.85 4.85 0 1 0 -9.7 0M434.5 865.4a4.85 4.85 0 1 0 9.7 0a4.85 4.85 0 1 0 -9.7 0M460.7 835.5a4.85 4.85 0 1 0 9.7 0a4.85 4.85 0 1 0 -9.7 0M473 853.5a4.85 4.85 0 1 0 9.7 0a4.85 4.85 0 1 0 -9.7 0M460.8 851.2a4.85 4.85 0 1 0 9.7 0a4.85 4.85 0 1 0 -9.7 0M417.1 804.1a4.85 4.85 0 1 0 9.7 0a4.85 4.85 0 1 0 -9.7 0M380.3 813.4a4.85 4.85 0 1 0 9.7 0a4.85 4.85 0 1 0 -9.7 0M456.7 843a4.85 4.85 0 1 0 9.7 0a4.85 4.85 0 1 0 -9.7 0M504 837.9a4.85 4.85 0 1 0 9.7 0a4.85 4.85 0 1 0 -9.7 0M417.1 843.1a4.85 4.85 0 1 0 9.7 0a4.85 4.85 0 1 0 -9.7 0M404.1 801.9a4.85 4.85 0 1 0 9.7 0a4.85 4.85 0 1 0 -9.7 0M348.4 819.9a4.85 4.85 0 1 0 9.7 0a4.85 4.85 0 1 0 -9.7 0M431.2 850a4.85 4.85 0 1 0 9.7 0a4.85 4.85 0 1 0 -9.7 0M367.4 840.5a4.85 4.85 0 1 0 9.7 0a4.85 4.85 0 1 0 -9.7 0M368.8 834.2a4.85 4.85 0 1 0 9.7 0a4.85 4.85 0 1 0 -9.7 0M472.2 839.4a4.85 4.85 0 1 0 9.7 0a4.85 4.85 0 1 0 -9.7 0M443.7 848.9a4.85 4.85 0 1 0 9.7 0a4.85 4.85 0 1 0 -9.7 0M498 848.7a4.85 4.85 0 1 0 9.7 0a4.85 4.85 0 1 0 -9.7 0M411.6 820.7a4.85 4.85 0 1 0 9.7 0a4.85 4.85 0 1 0 -9.7 0M393.2 849.4a4.85 4.85 0 1 0 9.7 0a4.85 4.85 0 1 0 -9.7 0M492.7 845.1a4.85 4.85 0 1 0 9.7 0a4.85 4.85 0 1 0 -9.7 0M413.4 868.6a4.85 4.85 0 1 0 9.7 0a4.85 4.85 0 1 0 -9.7 0M412.3 866.3a4.85 4.85 0 1 0 9.7 0a4.85 4.85 0 1 0 -9.7 0M421.3 802.4a4.85 4.85 0 1 0 9.7 0a4.85 4.85 0 1 0 -9.7 0M417.3 849.8a4.85 4.85 0 1 0 9.7 0a4.85 4.85 0 1 0 -9.7 0M380.1 812a4.85 4.85 0 1 0 9.7 0a4.85 4.85 0 1 0 -9.7 0M394.9 802.9a4.85 4.85 0 1 0 9.7 0a4.85 4.85 0 1 0 -9.7 0M409.8 857.7a4.85 4.85 0 1 0 9.7 0a4.85 4.85 0 1 0 -9.7 0M336.8 836.1a4.85 4.85 0 1 0 9.7 0a4.85 4.85 0 1 0 -9.7 0M494.6 850.1a4.85 4.85 0 1 0 9.7 0a4.85 4.85 0 1 0 -9.7 0M394.7 834.9a4.85 4.85 0 1 0 9.7 0a4.85 4.85 0 1 0 -9.7 0M408.6 838a4.85 4.85 0 1 0 9.7 0a4.85 4.85 0 1 0 -9.7 0M441.7 850.8a4.85 4.85 0 1 0 9.7 0a4.85 4.85 0 1 0 -9.7 0M425.2 843.8a4.85 4.85 0 1 0 9.7 0a4.85 4.85 0 1 0 -9.7 0M432.4 791.8a4.85 4.85 0 1 0 9.7 0a4.85 4.85 0 1 0 -9.7 0M460.6 846.1a4.85 4.85 0 1 0 9.7 0a4.85 4.85 0 1 0 -9.7 0M424.5 818.7a4.85 4.85 0 1 0 9.7 0a4.85 4.85 0 1 0 -9.7 0M501.3 841.8a4.85 4.85 0 1 0 9.7 0a4.85 4.85 0 1 0 -9.7 0M370 865a4.85 4.85 0 1 0 9.7 0a4.85 4.85 0 1 0 -9.7 0M433.4 828.4a4.85 4.85 0 1 0 9.7 0a4.85 4.85 0 1 0 -9.7 0M421.1 807.9a4.85 4.85 0 1 0 9.7 0a4.85 4.85 0 1 0 -9.7 0M435.1 833.1a4.85 4.85 0 1 0 9.7 0a4.85 4.85 0 1 0 -9.7 0M435.3 843.3a4.85 4.85 0 1 0 9.7 0a4.85 4.85 0 1 0 -9.7 0M395.6 853.5a4.85 4.85 0 1 0 9.7 0a4.85 4.85 0 1 0 -9.7 0M410.9 853.8a4.85 4.85 0 1 0 9.7 0a4.85 4.85 0 1 0 -9.7 0M317.2 869.8a4.85 4.85 0 1 0 9.7 0a4.85 4.85 0 1 0 -9.7 0M331.9 891.7a4.85 4.85 0 1 0 9.7 0a4.85 4.85 0 1 0 -9.7 0M367.8 885a4.85 4.85 0 1 0 9.7 0a4.85 4.85 0 1 0 -9.7 0M371.5 890.6a4.85 4.85 0 1 0 9.7 0a4.85 4.85 0 1 0 -9.7 0M392.6 912.1a4.85 4.85 0 1 0 9.7 0a4.85 4.85 0 1 0 -9.7 0M371.5 918.9a4.85 4.85 0 1 0 9.7 0a4.85 4.85 0 1 0 -9.7 0M353.4 937a4.85 4.85 0 1 0 9.7 0a4.85 4.85 0 1 0 -9.7 0M336.6 1040.8a4.85 4.85 0 1 0 9.7 0a4.85 4.85 0 1 0 -9.7 0M388.1 804.1a4.85 4.85 0 1 0 9.7 0a4.85 4.85 0 1 0 -9.7 0M382.4 816.5a4.85 4.85 0 1 0 9.7 0a4.85 4.85 0 1 0 -9.7 0M355 845.8a4.85 4.85 0 1 0 9.7 0a4.85 4.85 0 1 0 -9.7 0M417.3 867.5a4.85 4.85 0 1 0 9.7 0a4.85 4.85 0 1 0 -9.7 0M432.8 865.2a4.85 4.85 0 1 0 9.7 0a4.85 4.85 0 1 0 -9.7 0M442.9 856.2a4.85 4.85 0 1 0 9.7 0a4.85 4.85 0 1 0 -9.7 0M518.1 719.4a4.85 4.85 0 1 0 9.7 0a4.85 4.85 0 1 0 -9.7 0M519.6 730a4.85 4.85 0 1 0 9.7 0a4.85 4.85 0 1 0 -9.7 0M501.1 741a4.85 4.85 0 1 0 9.7 0a4.85 4.85 0 1 0 -9.7 0M507.5 746a4.85 4.85 0 1 0 9.7 0a4.85 4.85 0 1 0 -9.7 0M604.5 744.5a4.85 4.85 0 1 0 9.7 0a4.85 4.85 0 1 0 -9.7 0M614.2 746a4.85 4.85 0 1 0 9.7 0a4.85 4.85 0 1 0 -9.7 0M589.1 750a4.85 4.85 0 1 0 9.7 0a4.85 4.85 0 1 0 -9.7 0M573.9 779.2a4.85 4.85 0 1 0 9.7 0a4.85 4.85 0 1 0 -9.7 0M563.4 790.6a4.85 4.85 0 1 0 9.7 0a4.85 4.85 0 1 0 -9.7 0M576.2 846.4a4.85 4.85 0 1 0 9.7 0a4.85 4.85 0 1 0 -9.7 0M515.6 872.2a4.85 4.85 0 1 0 9.7 0a4.85 4.85 0 1 0 -9.7 0M540.8 876.3a4.85 4.85 0 1 0 9.7 0a4.85 4.85 0 1 0 -9.7 0M509.9 850.4a4.85 4.85 0 1 0 9.7 0a4.85 4.85 0 1 0 -9.7 0M499.4 843.1a4.85 4.85 0 1 0 9.7 0a4.85 4.85 0 1 0 -9.7 0M479.2 858.5a4.85 4.85 0 1 0 9.7 0a4.85 4.85 0 1 0 -9.7 0M471.1 851.2a4.85 4.85 0 1 0 9.7 0a4.85 4.85 0 1 0 -9.7 0M459 845.6a4.85 4.85 0 1 0 9.7 0a4.85 4.85 0 1 0 -9.7 0M442.8 856a4.85 4.85 0 1 0 9.7 0a4.85 4.85 0 1 0 -9.7 0M432.3 865a4.85 4.85 0 1 0 9.7 0a4.85 4.85 0 1 0 -9.7 0M417.8 867.4a4.85 4.85 0 1 0 9.7 0a4.85 4.85 0 1 0 -9.7 0M656.9 772.4a4.85 4.85 0 1 0 9.7 0a4.85 4.85 0 1 0 -9.7 0M677.9 771.4a4.85 4.85 0 1 0 9.7 0a4.85 4.85 0 1 0 -9.7 0M678.9 750.4a4.85 4.85 0 1 0 9.7 0a4.85 4.85 0 1 0 -9.7 0M322.1 860a4.85 4.85 0 1 0 9.7 0a4.85 4.85 0 1 0 -9.7 0M340.1 857a4.85 4.85 0 1 0 9.7 0a4.85 4.85 0 1 0 -9.7 0M347.1 852a4.85 4.85 0 1 0 9.7 0a4.85 4.85 0 1 0 -9.7 0M360.1 850a4.85 4.85 0 1 0 9.7 0a4.85 4.85 0 1 0 -9.7 0M365.1 832a4.85 4.85 0 1 0 9.7 0a4.85 4.85 0 1 0 -9.7 0M375.1 842a4.85 4.85 0 1 0 9.7 0a4.85 4.85 0 1 0 -9.7 0M385.1 848a4.85 4.85 0 1 0 9.7 0a4.85 4.85 0 1 0 -9.7 0M393.1 850a4.85 4.85 0 1 0 9.7 0a4.85 4.85 0 1 0 -9.7 0M400.1 838a4.85 4.85 0 1 0 9.7 0a4.85 4.85 0 1 0 -9.7 0M335.1 820a4.85 4.85 0 1 0 9.7 0a4.85 4.85 0 1 0 -9.7 0M350.1 824a4.85 4.85 0 1 0 9.7 0a4.85 4.85 0 1 0 -9.7 0M357.1 818a4.85 4.85 0 1 0 9.7 0a4.85 4.85 0 1 0 -9.7 0M367.1 822a4.85 4.85 0 1 0 9.7 0a4.85 4.85 0 1 0 -9.7 0M325.1 849a4.85 4.85 0 1 0 9.7 0a4.85 4.85 0 1 0 -9.7 0M346.1 838a4.85 4.85 0 1 0 9.7 0a4.85 4.85 0 1 0 -9.7 0M386.1 830a4.85 4.85 0 1 0 9.7 0a4.85 4.85 0 1 0 -9.7 0M407.1 829a4.85 4.85 0 1 0 9.7 0a4.85 4.85 0 1 0 -9.7 0M415.1 842a4.85 4.85 0 1 0 9.7 0a4.85 4.85 0 1 0 -9.7 0M425.1 850a4.85 4.85 0 1 0 9.7 0a4.85 4.85 0 1 0 -9.7 0M450.1 842a4.85 4.85 0 1 0 9.7 0a4.85 4.85 0 1 0 -9.7 0" fill="none" stroke="#A9ABAE" stroke-width="1.4"/><circle cx="359.9" cy="765.6" r="5.6" fill="#2064A8"/><circle cx="369.2" cy="782.6" r="5.6" fill="#2064A8"/><circle cx="407.2" cy="780.6" r="5.6" fill="#2064A8"/><circle cx="411.2" cy="791.5" r="5.6" fill="#2064A8"/><circle cx="421" cy="777.4" r="5.6" fill="#2064A8"/><circle cx="434.6" cy="773.5" r="5.6" fill="#2064A8"/><circle cx="443.7" cy="771.3" r="5.6" fill="#2064A8"/><circle cx="460.5" cy="776.1" r="5.6" fill="#2064A8"/><circle cx="332.3" cy="802.3" r="5.6" fill="#2064A8"/><circle cx="359.9" cy="803" r="5.6" fill="#2064A8"/><circle cx="345.2" cy="811.8" r="5.6" fill="#2064A8"/><circle cx="316.9" cy="824.5" r="5.6" fill="#2064A8"/><circle cx="313.5" cy="847.6" r="5.6" fill="#2064A8"/><circle cx="303.3" cy="883.8" r="5.6" fill="#2064A8"/><circle cx="234.2" cy="924.6" r="5.6" fill="#2064A8"/><circle cx="477.7" cy="756" r="5.6" fill="#2064A8"/><circle cx="250.3" cy="744.5" r="5.6" fill="#1C2B5C"/><circle cx="347.6" cy="740.3" r="5.6" fill="#1C2B5C"/><circle cx="395.4" cy="737" r="5.6" fill="#1C2B5C"/><circle cx="358.5" cy="755.5" r="5.6" fill="#1C2B5C"/><circle cx="454.9" cy="750.8" r="5.6" fill="#1C2B5C"/><circle cx="461.6" cy="753.6" r="5.6" fill="#1C2B5C"/><circle cx="476.8" cy="740.3" r="5.6" fill="#1C2B5C"/><circle cx="481" cy="742.2" r="5.6" fill="#1C2B5C"/><circle cx="472.5" cy="744.1" r="5.6" fill="#1C2B5C"/><circle cx="472.5" cy="752.7" r="5.6" fill="#1C2B5C"/><path d="M106.2 605.9V1148.5" stroke="#000" stroke-width="2.8"/><circle cx="106.2" cy="758.4" r="5.8" fill="#2064A8"/><circle cx="106.2" cy="777.8" r="5.8" fill="#2064A8"/><circle cx="106.2" cy="803" r="5.8" fill="#2064A8"/><circle cx="106.2" cy="812" r="5.8" fill="#2064A8"/><circle cx="106.2" cy="820" r="5.8" fill="#2064A8"/><circle cx="106.2" cy="829" r="5.8" fill="#2064A8"/><circle cx="106.2" cy="837" r="5.8" fill="#2064A8"/><circle cx="106.2" cy="846" r="5.8" fill="#2064A8"/><circle cx="106.2" cy="854" r="5.8" fill="#2064A8"/><circle cx="106.2" cy="863" r="5.8" fill="#2064A8"/><circle cx="106.2" cy="871" r="5.8" fill="#2064A8"/><circle cx="106.2" cy="880" r="5.8" fill="#2064A8"/><circle cx="106.2" cy="888" r="5.8" fill="#2064A8"/><circle cx="106.2" cy="896" r="5.8" fill="#2064A8"/><circle cx="106.2" cy="903" r="5.8" fill="#2064A8"/><circle cx="106.2" cy="932" r="5.8" fill="#2064A8"/><circle cx="106.2" cy="987.2" r="5.8" fill="#2064A8"/><circle cx="106.2" cy="1023.5" r="5.8" fill="#2064A8"/><circle cx="106.2" cy="737.7" r="5.8" fill="#1C2B5C"/><circle cx="106.2" cy="748" r="5.8" fill="#1C2B5C"/><circle cx="602.7" cy="999.4" r="4.8" fill="#1C2B5C"/><circle cx="602.7" cy="1052.8" r="4.8" fill="#2064A8"/><circle cx="602.7" cy="1095.8" r="4.3" fill="none" stroke="#A9ABAE" stroke-width="1.4"/><text x="623.5" y="990.9" font-size="26">GFP &lt;= 16 %;</text><text x="623.5" y="1021.8" font-size="26">MTT &gt;= 80 %</text><text x="624.5" y="1060.6" font-size="26">floating MTT</text><text x="623.5" y="1103.7" font-size="26">no hit</text><text x="339.8" y="702.3" font-size="26">Lonafarnib</text><path d="M437.4 708.5L452.1 744.6" stroke="#111" stroke-width="2.6"/>
<defs>
<radialGradient id="med" cx="0.5" cy="0.62" r="0.62" fx="0.5" fy="0.66">
<stop offset="0" stop-color="#FBF4F4"/><stop offset="0.45" stop-color="#F3D3D2"/><stop offset="1" stop-color="#E79E9C"/></radialGradient>
<linearGradient id="gcell" x1="0" y1="0" x2="1" y2="0.3">
<stop offset="0" stop-color="#B9B9BA"/><stop offset="0.55" stop-color="#F2F2F3"/><stop offset="1" stop-color="#D5D5D8"/></linearGradient>
<linearGradient id="gcellr" x1="0" y1="0" x2="1" y2="1">
<stop offset="0" stop-color="#A6A6A7"/><stop offset="0.6" stop-color="#F4F4F4"/><stop offset="1" stop-color="#D8D8D8"/></linearGradient>
<linearGradient id="green" x1="0" y1="0.2" x2="1" y2="0.8">
<stop offset="0" stop-color="#2C7F4A"/><stop offset="0.45" stop-color="#5FA77A"/><stop offset="1" stop-color="#E4F3E8"/></linearGradient>
<linearGradient id="greenr" x1="1" y1="0.2" x2="0" y2="0.8">
<stop offset="0" stop-color="#2C7F4A"/><stop offset="0.5" stop-color="#6AAE83"/><stop offset="1" stop-color="#E8F5EC"/></linearGradient>
</defs><path d="M282.45 136.9A82.4 41.6 0 0 1 447.25 136.9V152.9A82.4 42.6 0 0 1 282.45 152.9Z" fill="#EAEAE9" stroke="#1E1E1E" stroke-width="2.8"/><clipPath id="lc1"><path d="M284.25 143.4A88 49.3 0 0 1 445.45 143.4A88 59.3 0 0 1 284.25 143.4Z"/></clipPath><path d="M284.25 143.4A88 49.3 0 0 1 445.45 143.4A88 59.3 0 0 1 284.25 143.4Z" fill="url(#med)"/><g clip-path="url(#lc1)"><path d="M330.15 122.7C331.6 121.97 335.58 121.2 337.85 121.2C340.12 121.2 341.65 122.13 343.75 122.7C345.85 123.27 347.55 123.95 350.45 124.6C353.35 125.25 359.52 125.78 361.15 126.6C362.78 127.42 361.53 128.87 360.25 129.5C358.97 130.13 355.57 129.83 353.45 130.4C351.33 130.97 349.65 132.73 347.55 132.9C345.45 133.07 343.27 132.13 340.85 131.4C338.43 130.67 335 129.47 333.05 128.5C331.1 127.53 329.63 126.57 329.15 125.6C328.67 124.63 328.7 123.43 330.15 122.7Z" fill="url(#gcell)" stroke="#2B2B2B" stroke-width="1.3"/><ellipse cx="342.25" cy="127" rx="3.6" ry="1.7" fill="#6B6B6B" stroke="#2A2A2A" stroke-width="0.9" transform="rotate(0 342.25 127)"/><path d="M377.65 122.7C379.9 121.8 383.92 120.72 386.35 121.2C388.78 121.68 390.78 124.07 392.25 125.6C393.72 127.13 393.95 128.95 395.15 130.4C396.35 131.85 399.13 132.92 399.45 134.3C399.77 135.68 399.23 137.73 397.05 138.7C394.87 139.67 389.75 140.18 386.35 140.1C382.95 140.02 379.07 139.48 376.65 138.2C374.23 136.92 372.48 134.33 371.85 132.4C371.22 130.47 371.88 128.22 372.85 126.6C373.82 124.98 375.4 123.6 377.65 122.7Z" fill="url(#gcell)" stroke="#2B2B2B" stroke-width="1.3"/><ellipse cx="384.95" cy="131.4" rx="3.6" ry="1.7" fill="#6B6B6B" stroke="#2A2A2A" stroke-width="0.9" transform="rotate(35 384.95 131.4)"/><path d="M296.15 143C296.63 141.72 299.37 139.32 301.95 138.2C304.53 137.08 308.57 136.78 311.65 136.3C314.73 135.82 317.85 134.98 320.45 135.3C323.05 135.62 325.97 136.92 327.25 138.2C328.53 139.48 328.63 141.63 328.15 143C327.67 144.37 326.28 146.07 324.35 146.4C322.42 146.73 319.15 145.32 316.55 145C313.95 144.68 311.67 144.35 308.75 144.5C305.83 144.65 301.15 146.15 299.05 145.9C296.95 145.65 295.67 144.28 296.15 143Z" fill="url(#gcell)" stroke="#2B2B2B" stroke-width="1.3"/><ellipse cx="310.75" cy="139.7" rx="3.6" ry="1.7" fill="#6B6B6B" stroke="#2A2A2A" stroke-width="0.9" transform="rotate(-10 310.75 139.7)"/><path d="M410.65 141.1C411.95 140.3 415.02 139.37 417.45 139.2C419.88 139.03 422.67 139.53 425.25 140.1C427.83 140.67 430.05 141.95 432.95 142.6C435.85 143.25 441.52 143.28 442.65 144C443.78 144.72 441.85 146.25 439.75 146.9C437.65 147.55 432.8 147.5 430.05 147.9C427.3 148.3 425.68 149.47 423.25 149.3C420.82 149.13 417.72 147.78 415.45 146.9C413.18 146.02 410.45 144.97 409.65 144C408.85 143.03 409.35 141.9 410.65 141.1Z" fill="url(#gcell)" stroke="#2B2B2B" stroke-width="1.3"/><ellipse cx="422.25" cy="143.5" rx="3.6" ry="1.7" fill="#6B6B6B" stroke="#2A2A2A" stroke-width="0.9" transform="rotate(5 422.25 143.5)"/><path d="M354.35 145C356.13 144.35 358.3 143.52 360.25 144C362.2 144.48 364.93 146.28 366.05 147.9C367.17 149.52 367.43 152.25 366.95 153.7C366.47 155.15 363.63 154.98 363.15 156.6C362.67 158.22 364.7 162.43 364.05 163.4C363.4 164.37 361.02 163.37 359.25 162.4C357.48 161.43 355.4 158.57 353.45 157.6C351.5 156.63 348.85 157.57 347.55 156.6C346.25 155.63 345.32 153.25 345.65 151.8C345.98 150.35 348.1 149.03 349.55 147.9C351 146.77 352.57 145.65 354.35 145Z" fill="url(#gcell)" stroke="#2B2B2B" stroke-width="1.3"/><ellipse cx="356.35" cy="154.2" rx="3.6" ry="1.7" fill="#6B6B6B" stroke="#2A2A2A" stroke-width="0.9" transform="rotate(0 356.35 154.2)"/><path d="M324.35 151.8C325.97 151.32 329.22 150 331.15 150.8C333.08 151.6 334.33 154.5 335.95 156.6C337.57 158.7 340.37 161.3 340.85 163.4C341.33 165.5 340.32 167.98 338.85 169.2C337.38 170.42 334.47 170.7 332.05 170.7C329.63 170.7 326.45 170.25 324.35 169.2C322.25 168.15 320.43 166.33 319.45 164.4C318.47 162.47 318.12 159.38 318.45 157.6C318.78 155.82 320.47 154.67 321.45 153.7C322.43 152.73 322.73 152.28 324.35 151.8Z" fill="url(#gcell)" stroke="#2B2B2B" stroke-width="1.3"/><ellipse cx="329.15" cy="162" rx="3.6" ry="1.7" fill="#6B6B6B" stroke="#2A2A2A" stroke-width="0.9" transform="rotate(55 329.15 162)"/><path d="M379.65 151.8C380.85 150.98 383.93 149.8 386.35 149.8C388.77 149.8 391.72 151.15 394.15 151.8C396.58 152.45 398.12 153.13 400.95 153.7C403.78 154.27 409.87 154.55 411.15 155.2C412.43 155.85 410.52 156.95 408.65 157.6C406.78 158.25 402.68 158.53 399.95 159.1C397.22 159.67 394.83 161.25 392.25 161C389.67 160.75 386.63 158.65 384.45 157.6C382.27 156.55 379.95 155.67 379.15 154.7C378.35 153.73 378.45 152.62 379.65 151.8Z" fill="url(#gcell)" stroke="#2B2B2B" stroke-width="1.3"/><ellipse cx="391.25" cy="154.7" rx="3.6" ry="1.7" fill="#6B6B6B" stroke="#2A2A2A" stroke-width="0.9" transform="rotate(5 391.25 154.7)"/><path d="M346.65 176C347.62 174.12 349.87 172.75 352.45 171.7C355.03 170.65 358.92 169.95 362.15 169.7C365.38 169.45 369.27 169.63 371.85 170.2C374.43 170.77 376.6 170.97 377.65 173.1C378.7 175.23 383.32 181.35 378.15 183C372.98 184.65 351.9 184.17 346.65 183C341.4 181.83 345.68 177.88 346.65 176Z" fill="url(#gcell)" stroke="#2B2B2B" stroke-width="1.3"/><ellipse cx="362.35" cy="176.5" rx="3.6" ry="1.7" fill="#6B6B6B" stroke="#2A2A2A" stroke-width="0.9" transform="rotate(0 362.35 176.5)"/></g><path d="M284.25 143.4A88 49.3 0 0 1 445.45 143.4A88 59.3 0 0 1 284.25 143.4Z" fill="none" stroke="#2E1C1C" stroke-width="2.4"/><path d="M568.75 131A82.4 41.6 0 0 1 733.55 131V147A82.4 42.6 0 0 1 568.75 147Z" fill="#EAEAE9" stroke="#1E1E1E" stroke-width="2.8"/><clipPath id="lc2"><path d="M570.55 137.5A88 49.3 0 0 1 731.75 137.5A88 59.3 0 0 1 570.55 137.5Z"/></clipPath><path d="M570.55 137.5A88 49.3 0 0 1 731.75 137.5A88 59.3 0 0 1 570.55 137.5Z" fill="url(#med)"/><g clip-path="url(#lc2)"><path d="M611.45 114.05C612.33 113.12 615.48 113.18 617.25 113.25C619.02 113.32 620.6 114.35 622.05 114.45C623.5 114.55 624.82 113.6 625.95 113.85C627.08 114.1 627.4 115.43 628.85 115.95C630.3 116.47 632.38 116.47 634.65 116.95C636.92 117.43 641.32 118.13 642.45 118.85C643.58 119.57 642.58 120.6 641.45 121.25C640.32 121.9 637.1 122.1 635.65 122.75C634.2 123.4 634.2 124.83 632.75 125.15C631.3 125.47 628.88 125.05 626.95 124.65C625.02 124.25 623.08 123.32 621.15 122.75C619.22 122.18 616.88 121.9 615.35 121.25C613.82 120.6 612.6 120.05 611.95 118.85C611.3 117.65 610.57 114.98 611.45 114.05Z" fill="url(#gcell)" stroke="#2B2B2B" stroke-width="1.3"/><ellipse cx="624.05" cy="119.35" rx="3.6" ry="1.7" fill="#6B6B6B" stroke="#2A2A2A" stroke-width="0.9" transform="rotate(0 624.05 119.35)"/><path d="M644.35 134.35C645.82 134.02 648.7 133.53 650.25 134.35C651.8 135.17 652.68 137.63 653.65 139.25C654.62 140.87 655.17 143.08 656.05 144.05C656.93 145.02 658.78 143.92 658.95 145.05C659.12 146.18 658.18 149.4 657.05 150.85C655.92 152.3 654.27 153.27 652.15 153.75C650.03 154.23 646.45 154.23 644.35 153.75C642.25 153.27 640.75 152.3 639.55 150.85C638.35 149.4 637.32 146.98 637.15 145.05C636.98 143.12 637.83 140.7 638.55 139.25C639.27 137.8 640.48 137.17 641.45 136.35C642.42 135.53 642.88 134.68 644.35 134.35Z" fill="url(#gcell)" stroke="#2B2B2B" stroke-width="1.3"/><ellipse cx="646.85" cy="144.05" rx="3.6" ry="1.7" fill="#6B6B6B" stroke="#2A2A2A" stroke-width="0.9" transform="rotate(60 646.85 144.05)"/><path d="M632.75 169.25C633.72 167.5 636.28 166.82 638.55 165.85C640.82 164.88 643.75 163.77 646.35 163.45C648.95 163.13 651.57 163.63 654.15 163.95C656.73 164.27 660.08 164.47 661.85 165.35C663.62 166.23 664.27 167.42 664.75 169.25C665.23 171.08 670.08 175.17 664.75 176.35C659.42 177.53 638.08 177.53 632.75 176.35C627.42 175.17 631.78 171 632.75 169.25Z" fill="url(#gcell)" stroke="#2B2B2B" stroke-width="1.3"/><ellipse cx="647.65" cy="169.85" rx="3.6" ry="1.7" fill="#6B6B6B" stroke="#2A2A2A" stroke-width="0.9" transform="rotate(0 647.65 169.85)"/><path d="M658.95 112.55C660.25 112.4 661.13 116.07 662.35 116.95C663.57 117.83 663.98 117.45 666.25 117.85C668.52 118.25 674.18 118.62 675.95 119.35C677.72 120.08 677.58 121.37 676.85 122.25C676.12 123.13 672.68 122.95 671.55 124.65C670.42 126.35 671.1 131.15 670.05 132.45C669 133.75 666.62 133.02 665.25 132.45C663.88 131.88 663.38 129.3 661.85 129.05C660.32 128.8 658.15 130.78 656.05 130.95C653.95 131.12 650.55 130.62 649.25 130.05C647.95 129.48 647.68 128.37 648.25 127.55C648.82 126.73 652.32 126.03 652.65 125.15C652.98 124.27 650.82 123.3 650.25 122.25C649.68 121.2 648.53 119.58 649.25 118.85C649.97 118.12 652.93 118.9 654.55 117.85C656.17 116.8 657.65 112.7 658.95 112.55Z" fill="url(#greenr)" stroke="#1F2A1F" stroke-width="1.4"/><ellipse cx="665.25" cy="122.25" rx="3.6" ry="1.8" fill="#3E7F57" stroke="#143520" stroke-width="0.9" transform="rotate(10 665.25 122.25)"/><ellipse cx="658.45" cy="127.55" rx="3.6" ry="1.8" fill="#3E7F57" stroke="#143520" stroke-width="0.9" transform="rotate(-15 658.45 127.55)"/><path d="M582.35 130.05C583.88 129.88 588.47 130.73 591.05 131.45C593.63 132.17 595.75 134.58 597.85 134.35C599.95 134.12 601.72 130.93 603.65 130.05C605.58 129.17 607.52 128.65 609.45 129.05C611.38 129.45 613.3 131.4 615.25 132.45C617.2 133.5 619.2 134.38 621.15 135.35C623.1 136.32 626.63 136.95 626.95 138.25C627.27 139.55 624.67 142.02 623.05 143.15C621.43 144.28 618.7 143.77 617.25 145.05C615.8 146.33 615.17 148.83 614.35 150.85C613.53 152.87 613.48 156.5 612.35 157.15C611.22 157.8 609.32 155.8 607.55 154.75C605.78 153.7 604.02 151.58 601.75 150.85C599.48 150.12 596.22 150.18 593.95 150.35C591.68 150.52 590.25 151.85 588.15 151.85C586.05 151.85 582.65 151.17 581.35 150.35C580.05 149.53 579.55 148.15 580.35 146.95C581.15 145.75 584.85 144.43 586.15 143.15C587.45 141.87 588.63 140.55 588.15 139.25C587.67 137.95 584.3 136.48 583.25 135.35C582.2 134.22 582 133.33 581.85 132.45C581.7 131.57 580.82 130.22 582.35 130.05Z" fill="url(#green)" stroke="#1F2A1F" stroke-width="1.4"/><ellipse cx="598.35" cy="140.15" rx="3.6" ry="1.8" fill="#3E7F57" stroke="#143520" stroke-width="0.9" transform="rotate(-10 598.35 140.15)"/><ellipse cx="609.45" cy="138.75" rx="3.6" ry="1.8" fill="#3E7F57" stroke="#143520" stroke-width="0.9" transform="rotate(10 609.45 138.75)"/><ellipse cx="591.55" cy="145.55" rx="3.6" ry="1.8" fill="#3E7F57" stroke="#143520" stroke-width="0.9" transform="rotate(-10 591.55 145.55)"/><ellipse cx="605.65" cy="146.55" rx="3.6" ry="1.8" fill="#3E7F57" stroke="#143520" stroke-width="0.9" transform="rotate(-5 605.65 146.55)"/><path d="M665.75 149.85C667.2 148.72 671.18 148.72 673.45 146.95C675.72 145.18 677.4 141.18 679.35 139.25C681.3 137.32 683.7 136.97 685.15 135.35C686.6 133.73 687.08 131.08 688.05 129.55C689.02 128.02 689.9 126.48 690.95 126.15C692 125.82 694.03 126.35 694.35 127.55C694.67 128.75 692.77 131.88 692.85 133.35C692.93 134.82 693.22 136.02 694.85 136.35C696.48 136.68 700.07 136.17 702.65 135.35C705.23 134.53 707.93 132.67 710.35 131.45C712.77 130.23 715.85 128.05 717.15 128.05C718.45 128.05 718.95 129.58 718.15 131.45C717.35 133.32 713 137.15 712.35 139.25C711.7 141.35 712.88 142.77 714.25 144.05C715.62 145.33 719.75 145.98 720.55 146.95C721.35 147.92 720.75 149.43 719.05 149.85C717.35 150.27 713.73 149.28 710.35 149.45C706.97 149.62 702.95 150.13 698.75 150.85C694.55 151.57 689.37 152.7 685.15 153.75C680.93 154.8 676.52 156.67 673.45 157.15C670.38 157.63 668.2 157.22 666.75 156.65C665.3 156.08 664.92 154.88 664.75 153.75C664.58 152.62 664.3 150.98 665.75 149.85Z" fill="url(#greenr)" stroke="#1F2A1F" stroke-width="1.4"/><ellipse cx="684.65" cy="141.65" rx="3.6" ry="1.8" fill="#3E7F57" stroke="#143520" stroke-width="0.9" transform="rotate(10 684.65 141.65)"/><ellipse cx="698.75" cy="141.65" rx="3.6" ry="1.8" fill="#3E7F57" stroke="#143520" stroke-width="0.9" transform="rotate(10 698.75 141.65)"/><ellipse cx="680.25" cy="149.45" rx="3.6" ry="1.8" fill="#3E7F57" stroke="#143520" stroke-width="0.9" transform="rotate(-25 680.25 149.45)"/><ellipse cx="693.85" cy="147.45" rx="3.6" ry="1.8" fill="#3E7F57" stroke="#143520" stroke-width="0.9" transform="rotate(0 693.85 147.45)"/></g><path d="M570.55 137.5A88 49.3 0 0 1 731.75 137.5A88 59.3 0 0 1 570.55 137.5Z" fill="none" stroke="#2E1C1C" stroke-width="2.4"/><path d="M279.7 433.85A82.4 41.6 0 0 1 444.5 433.85V449.85A82.4 42.6 0 0 1 279.7 449.85Z" fill="#EAEAE9" stroke="#1E1E1E" stroke-width="2.8"/><clipPath id="lc3"><path d="M281.5 440.35A88 49.3 0 0 1 442.7 440.35A88 59.3 0 0 1 281.5 440.35Z"/></clipPath><path d="M281.5 440.35A88 49.3 0 0 1 442.7 440.35A88 59.3 0 0 1 281.5 440.35Z" fill="url(#med)"/><g clip-path="url(#lc3)"><path d="M322.4 416.9C323.28 415.97 326.43 416.03 328.2 416.1C329.97 416.17 331.55 417.2 333 417.3C334.45 417.4 335.77 416.45 336.9 416.7C338.03 416.95 338.35 418.28 339.8 418.8C341.25 419.32 343.33 419.32 345.6 419.8C347.87 420.28 352.27 420.98 353.4 421.7C354.53 422.42 353.53 423.45 352.4 424.1C351.27 424.75 348.05 424.95 346.6 425.6C345.15 426.25 345.15 427.68 343.7 428C342.25 428.32 339.83 427.9 337.9 427.5C335.97 427.1 334.03 426.17 332.1 425.6C330.17 425.03 327.83 424.75 326.3 424.1C324.77 423.45 323.55 422.9 322.9 421.7C322.25 420.5 321.52 417.83 322.4 416.9Z" fill="url(#gcell)" stroke="#2B2B2B" stroke-width="1.3"/><ellipse cx="335" cy="422.2" rx="3.6" ry="1.7" fill="#6B6B6B" stroke="#2A2A2A" stroke-width="0.9" transform="rotate(0 335 422.2)"/><path d="M355.3 437.2C356.77 436.87 359.65 436.38 361.2 437.2C362.75 438.02 363.63 440.48 364.6 442.1C365.57 443.72 366.12 445.93 367 446.9C367.88 447.87 369.73 446.77 369.9 447.9C370.07 449.03 369.13 452.25 368 453.7C366.87 455.15 365.22 456.12 363.1 456.6C360.98 457.08 357.4 457.08 355.3 456.6C353.2 456.12 351.7 455.15 350.5 453.7C349.3 452.25 348.27 449.83 348.1 447.9C347.93 445.97 348.78 443.55 349.5 442.1C350.22 440.65 351.43 440.02 352.4 439.2C353.37 438.38 353.83 437.53 355.3 437.2Z" fill="url(#gcell)" stroke="#2B2B2B" stroke-width="1.3"/><ellipse cx="357.8" cy="446.9" rx="3.6" ry="1.7" fill="#6B6B6B" stroke="#2A2A2A" stroke-width="0.9" transform="rotate(60 357.8 446.9)"/><path d="M343.7 472.1C344.67 470.35 347.23 469.67 349.5 468.7C351.77 467.73 354.7 466.62 357.3 466.3C359.9 465.98 362.52 466.48 365.1 466.8C367.68 467.12 371.03 467.32 372.8 468.2C374.57 469.08 375.22 470.27 375.7 472.1C376.18 473.93 381.03 478.02 375.7 479.2C370.37 480.38 349.03 480.38 343.7 479.2C338.37 478.02 342.73 473.85 343.7 472.1Z" fill="url(#gcell)" stroke="#2B2B2B" stroke-width="1.3"/><ellipse cx="358.6" cy="472.7" rx="3.6" ry="1.7" fill="#6B6B6B" stroke="#2A2A2A" stroke-width="0.9" transform="rotate(0 358.6 472.7)"/><path d="M369.9 415.4C371.2 415.25 372.08 418.92 373.3 419.8C374.52 420.68 374.93 420.3 377.2 420.7C379.47 421.1 385.13 421.47 386.9 422.2C388.67 422.93 388.53 424.22 387.8 425.1C387.07 425.98 383.63 425.8 382.5 427.5C381.37 429.2 382.05 434 381 435.3C379.95 436.6 377.57 435.87 376.2 435.3C374.83 434.73 374.33 432.15 372.8 431.9C371.27 431.65 369.1 433.63 367 433.8C364.9 433.97 361.5 433.47 360.2 432.9C358.9 432.33 358.63 431.22 359.2 430.4C359.77 429.58 363.27 428.88 363.6 428C363.93 427.12 361.77 426.15 361.2 425.1C360.63 424.05 359.48 422.43 360.2 421.7C360.92 420.97 363.88 421.75 365.5 420.7C367.12 419.65 368.6 415.55 369.9 415.4Z" fill="#B6D77C" stroke="#1F2A1F" stroke-width="1.4"/><ellipse cx="376.2" cy="425.1" rx="3.6" ry="1.8" fill="#3C6A2A" stroke="#1E3A12" stroke-width="0.9" transform="rotate(10 376.2 425.1)"/><ellipse cx="369.4" cy="430.4" rx="3.6" ry="1.8" fill="#3C6A2A" stroke="#1E3A12" stroke-width="0.9" transform="rotate(-15 369.4 430.4)"/><path d="M293.3 432.9C294.83 432.73 299.42 433.58 302 434.3C304.58 435.02 306.7 437.43 308.8 437.2C310.9 436.97 312.67 433.78 314.6 432.9C316.53 432.02 318.47 431.5 320.4 431.9C322.33 432.3 324.25 434.25 326.2 435.3C328.15 436.35 330.15 437.23 332.1 438.2C334.05 439.17 337.58 439.8 337.9 441.1C338.22 442.4 335.62 444.87 334 446C332.38 447.13 329.65 446.62 328.2 447.9C326.75 449.18 326.12 451.68 325.3 453.7C324.48 455.72 324.43 459.35 323.3 460C322.17 460.65 320.27 458.65 318.5 457.6C316.73 456.55 314.97 454.43 312.7 453.7C310.43 452.97 307.17 453.03 304.9 453.2C302.63 453.37 301.2 454.7 299.1 454.7C297 454.7 293.6 454.02 292.3 453.2C291 452.38 290.5 451 291.3 449.8C292.1 448.6 295.8 447.28 297.1 446C298.4 444.72 299.58 443.4 299.1 442.1C298.62 440.8 295.25 439.33 294.2 438.2C293.15 437.07 292.95 436.18 292.8 435.3C292.65 434.42 291.77 433.07 293.3 432.9Z" fill="#B6D77C" stroke="#1F2A1F" stroke-width="1.4"/><ellipse cx="309.3" cy="443" rx="3.6" ry="1.8" fill="#3C6A2A" stroke="#1E3A12" stroke-width="0.9" transform="rotate(-10 309.3 443)"/><ellipse cx="320.4" cy="441.6" rx="3.6" ry="1.8" fill="#3C6A2A" stroke="#1E3A12" stroke-width="0.9" transform="rotate(10 320.4 441.6)"/><ellipse cx="302.5" cy="448.4" rx="3.6" ry="1.8" fill="#3C6A2A" stroke="#1E3A12" stroke-width="0.9" transform="rotate(-10 302.5 448.4)"/><ellipse cx="316.6" cy="449.4" rx="3.6" ry="1.8" fill="#3C6A2A" stroke="#1E3A12" stroke-width="0.9" transform="rotate(-5 316.6 449.4)"/><path d="M376.7 452.7C378.15 451.57 382.13 451.57 384.4 449.8C386.67 448.03 388.35 444.03 390.3 442.1C392.25 440.17 394.65 439.82 396.1 438.2C397.55 436.58 398.03 433.93 399 432.4C399.97 430.87 400.85 429.33 401.9 429C402.95 428.67 404.98 429.2 405.3 430.4C405.62 431.6 403.72 434.73 403.8 436.2C403.88 437.67 404.17 438.87 405.8 439.2C407.43 439.53 411.02 439.02 413.6 438.2C416.18 437.38 418.88 435.52 421.3 434.3C423.72 433.08 426.8 430.9 428.1 430.9C429.4 430.9 429.9 432.43 429.1 434.3C428.3 436.17 423.95 440 423.3 442.1C422.65 444.2 423.83 445.62 425.2 446.9C426.57 448.18 430.7 448.83 431.5 449.8C432.3 450.77 431.7 452.28 430 452.7C428.3 453.12 424.68 452.13 421.3 452.3C417.92 452.47 413.9 452.98 409.7 453.7C405.5 454.42 400.32 455.55 396.1 456.6C391.88 457.65 387.47 459.52 384.4 460C381.33 460.48 379.15 460.07 377.7 459.5C376.25 458.93 375.87 457.73 375.7 456.6C375.53 455.47 375.25 453.83 376.7 452.7Z" fill="#B6D77C" stroke="#1F2A1F" stroke-width="1.4"/><ellipse cx="395.6" cy="444.5" rx="3.6" ry="1.8" fill="#3C6A2A" stroke="#1E3A12" stroke-width="0.9" transform="rotate(10 395.6 444.5)"/><ellipse cx="409.7" cy="444.5" rx="3.6" ry="1.8" fill="#3C6A2A" stroke="#1E3A12" stroke-width="0.9" transform="rotate(10 409.7 444.5)"/><ellipse cx="391.2" cy="452.3" rx="3.6" ry="1.8" fill="#3C6A2A" stroke="#1E3A12" stroke-width="0.9" transform="rotate(-25 391.2 452.3)"/><ellipse cx="404.8" cy="450.3" rx="3.6" ry="1.8" fill="#3C6A2A" stroke="#1E3A12" stroke-width="0.9" transform="rotate(0 404.8 450.3)"/></g><path d="M281.5 440.35A88 49.3 0 0 1 442.7 440.35A88 59.3 0 0 1 281.5 440.35Z" fill="none" stroke="#2E1C1C" stroke-width="2.4"/><path d="M567.9 427.85A82.4 41.6 0 0 1 732.7 427.85V443.85A82.4 42.6 0 0 1 567.9 443.85Z" fill="#EAEAE9" stroke="#1E1E1E" stroke-width="2.8"/><clipPath id="lc4"><path d="M569.7 434.35A88 49.3 0 0 1 730.9 434.35A88 59.3 0 0 1 569.7 434.35Z"/></clipPath><path d="M569.7 434.35A88 49.3 0 0 1 730.9 434.35A88 59.3 0 0 1 569.7 434.35Z" fill="url(#med)"/><g clip-path="url(#lc4)"><path d="M610.6 410.9C611.48 409.97 614.63 410.03 616.4 410.1C618.17 410.17 619.75 411.2 621.2 411.3C622.65 411.4 623.97 410.45 625.1 410.7C626.23 410.95 626.55 412.28 628 412.8C629.45 413.32 631.53 413.32 633.8 413.8C636.07 414.28 640.47 414.98 641.6 415.7C642.73 416.42 641.73 417.45 640.6 418.1C639.47 418.75 636.25 418.95 634.8 419.6C633.35 420.25 633.35 421.68 631.9 422C630.45 422.32 628.03 421.9 626.1 421.5C624.17 421.1 622.23 420.17 620.3 419.6C618.37 419.03 616.03 418.75 614.5 418.1C612.97 417.45 611.75 416.9 611.1 415.7C610.45 414.5 609.72 411.83 610.6 410.9Z" fill="url(#gcell)" stroke="#2B2B2B" stroke-width="1.3"/><ellipse cx="623.2" cy="416.2" rx="3.6" ry="1.7" fill="#6B6B6B" stroke="#2A2A2A" stroke-width="0.9" transform="rotate(0 623.2 416.2)"/><path d="M643.5 431.2C644.97 430.87 647.85 430.38 649.4 431.2C650.95 432.02 651.83 434.48 652.8 436.1C653.77 437.72 654.32 439.93 655.2 440.9C656.08 441.87 657.93 440.77 658.1 441.9C658.27 443.03 657.33 446.25 656.2 447.7C655.07 449.15 653.42 450.12 651.3 450.6C649.18 451.08 645.6 451.08 643.5 450.6C641.4 450.12 639.9 449.15 638.7 447.7C637.5 446.25 636.47 443.83 636.3 441.9C636.13 439.97 636.98 437.55 637.7 436.1C638.42 434.65 639.63 434.02 640.6 433.2C641.57 432.38 642.03 431.53 643.5 431.2Z" fill="url(#gcell)" stroke="#2B2B2B" stroke-width="1.3"/><ellipse cx="646" cy="440.9" rx="3.6" ry="1.7" fill="#6B6B6B" stroke="#2A2A2A" stroke-width="0.9" transform="rotate(60 646 440.9)"/><path d="M631.9 466.1C632.87 464.35 635.43 463.67 637.7 462.7C639.97 461.73 642.9 460.62 645.5 460.3C648.1 459.98 650.72 460.48 653.3 460.8C655.88 461.12 659.23 461.32 661 462.2C662.77 463.08 663.42 464.27 663.9 466.1C664.38 467.93 669.23 472.02 663.9 473.2C658.57 474.38 637.23 474.38 631.9 473.2C626.57 472.02 630.93 467.85 631.9 466.1Z" fill="url(#gcell)" stroke="#2B2B2B" stroke-width="1.3"/><ellipse cx="646.8" cy="466.7" rx="3.6" ry="1.7" fill="#6B6B6B" stroke="#2A2A2A" stroke-width="0.9" transform="rotate(0 646.8 466.7)"/><path d="M658.1 409.4C659.4 409.25 660.28 412.92 661.5 413.8C662.72 414.68 663.13 414.3 665.4 414.7C667.67 415.1 673.33 415.47 675.1 416.2C676.87 416.93 676.73 418.22 676 419.1C675.27 419.98 671.83 419.8 670.7 421.5C669.57 423.2 670.25 428 669.2 429.3C668.15 430.6 665.77 429.87 664.4 429.3C663.03 428.73 662.53 426.15 661 425.9C659.47 425.65 657.3 427.63 655.2 427.8C653.1 427.97 649.7 427.47 648.4 426.9C647.1 426.33 646.83 425.22 647.4 424.4C647.97 423.58 651.47 422.88 651.8 422C652.13 421.12 649.97 420.15 649.4 419.1C648.83 418.05 647.68 416.43 648.4 415.7C649.12 414.97 652.08 415.75 653.7 414.7C655.32 413.65 656.8 409.55 658.1 409.4Z" fill="#B6D77C" stroke="#1F2A1F" stroke-width="1.4"/><ellipse cx="664.4" cy="419.1" rx="3.6" ry="1.8" fill="#3C6A2A" stroke="#1E3A12" stroke-width="0.9" transform="rotate(10 664.4 419.1)"/><ellipse cx="657.6" cy="424.4" rx="3.6" ry="1.8" fill="#3C6A2A" stroke="#1E3A12" stroke-width="0.9" transform="rotate(-15 657.6 424.4)"/><path d="M581.5 426.9C583.03 426.73 587.62 427.58 590.2 428.3C592.78 429.02 594.9 431.43 597 431.2C599.1 430.97 600.87 427.78 602.8 426.9C604.73 426.02 606.67 425.5 608.6 425.9C610.53 426.3 612.45 428.25 614.4 429.3C616.35 430.35 618.35 431.23 620.3 432.2C622.25 433.17 625.78 433.8 626.1 435.1C626.42 436.4 623.82 438.87 622.2 440C620.58 441.13 617.85 440.62 616.4 441.9C614.95 443.18 614.32 445.68 613.5 447.7C612.68 449.72 612.63 453.35 611.5 454C610.37 454.65 608.47 452.65 606.7 451.6C604.93 450.55 603.17 448.43 600.9 447.7C598.63 446.97 595.37 447.03 593.1 447.2C590.83 447.37 589.4 448.7 587.3 448.7C585.2 448.7 581.8 448.02 580.5 447.2C579.2 446.38 578.7 445 579.5 443.8C580.3 442.6 584 441.28 585.3 440C586.6 438.72 587.78 437.4 587.3 436.1C586.82 434.8 583.45 433.33 582.4 432.2C581.35 431.07 581.15 430.18 581 429.3C580.85 428.42 579.97 427.07 581.5 426.9Z" fill="#B6D77C" stroke="#1F2A1F" stroke-width="1.4"/><ellipse cx="597.5" cy="437" rx="3.6" ry="1.8" fill="#3C6A2A" stroke="#1E3A12" stroke-width="0.9" transform="rotate(-10 597.5 437)"/><ellipse cx="608.6" cy="435.6" rx="3.6" ry="1.8" fill="#3C6A2A" stroke="#1E3A12" stroke-width="0.9" transform="rotate(10 608.6 435.6)"/><ellipse cx="590.7" cy="442.4" rx="3.6" ry="1.8" fill="#3C6A2A" stroke="#1E3A12" stroke-width="0.9" transform="rotate(-10 590.7 442.4)"/><ellipse cx="604.8" cy="443.4" rx="3.6" ry="1.8" fill="#3C6A2A" stroke="#1E3A12" stroke-width="0.9" transform="rotate(-5 604.8 443.4)"/><path d="M664.9 446.7C666.35 445.57 670.33 445.57 672.6 443.8C674.87 442.03 676.55 438.03 678.5 436.1C680.45 434.17 682.85 433.82 684.3 432.2C685.75 430.58 686.23 427.93 687.2 426.4C688.17 424.87 689.05 423.33 690.1 423C691.15 422.67 693.18 423.2 693.5 424.4C693.82 425.6 691.92 428.73 692 430.2C692.08 431.67 692.37 432.87 694 433.2C695.63 433.53 699.22 433.02 701.8 432.2C704.38 431.38 707.08 429.52 709.5 428.3C711.92 427.08 715 424.9 716.3 424.9C717.6 424.9 718.1 426.43 717.3 428.3C716.5 430.17 712.15 434 711.5 436.1C710.85 438.2 712.03 439.62 713.4 440.9C714.77 442.18 718.9 442.83 719.7 443.8C720.5 444.77 719.9 446.28 718.2 446.7C716.5 447.12 712.88 446.13 709.5 446.3C706.12 446.47 702.1 446.98 697.9 447.7C693.7 448.42 688.52 449.55 684.3 450.6C680.08 451.65 675.67 453.52 672.6 454C669.53 454.48 667.35 454.07 665.9 453.5C664.45 452.93 664.07 451.73 663.9 450.6C663.73 449.47 663.45 447.83 664.9 446.7Z" fill="#B6D77C" stroke="#1F2A1F" stroke-width="1.4"/><ellipse cx="683.8" cy="438.5" rx="3.6" ry="1.8" fill="#3C6A2A" stroke="#1E3A12" stroke-width="0.9" transform="rotate(10 683.8 438.5)"/><ellipse cx="697.9" cy="438.5" rx="3.6" ry="1.8" fill="#3C6A2A" stroke="#1E3A12" stroke-width="0.9" transform="rotate(10 697.9 438.5)"/><ellipse cx="679.4" cy="446.3" rx="3.6" ry="1.8" fill="#3C6A2A" stroke="#1E3A12" stroke-width="0.9" transform="rotate(-25 679.4 446.3)"/><ellipse cx="693" cy="444.3" rx="3.6" ry="1.8" fill="#3C6A2A" stroke="#1E3A12" stroke-width="0.9" transform="rotate(0 693 444.3)"/></g><path d="M569.7 434.35A88 49.3 0 0 1 730.9 434.35A88 59.3 0 0 1 569.7 434.35Z" fill="none" stroke="#2E1C1C" stroke-width="2.4"/><g transform="translate(184.4 120.7) scale(1)"><g fill="#2573A6"><g transform="rotate(-3)"><path d="M-1.9 -24V-30C-3.6 -30.4 -5.9 -31.5 -5.9 -33.6C-5.9 -35.8 -3 -36.4 0 -36.4C3 -36.4 5.9 -35.8 5.9 -33.6C5.9 -31.5 3.6 -30.4 1.9 -30V-24Z"/></g><g transform="rotate(26.6)"><path d="M-1.9 -24V-30C-3.6 -30.4 -5.9 -31.5 -5.9 -33.6C-5.9 -35.8 -3 -36.4 0 -36.4C3 -36.4 5.9 -35.8 5.9 -33.6C5.9 -31.5 3.6 -30.4 1.9 -30V-24Z"/></g><g transform="rotate(56.2)"><path d="M-1.9 -24V-30C-3.6 -30.4 -5.9 -31.5 -5.9 -33.6C-5.9 -35.8 -3 -36.4 0 -36.4C3 -36.4 5.9 -35.8 5.9 -33.6C5.9 -31.5 3.6 -30.4 1.9 -30V-24Z"/></g><g transform="rotate(85.8)"><path d="M-1.9 -24V-30C-3.6 -30.4 -5.9 -31.5 -5.9 -33.6C-5.9 -35.8 -3 -36.4 0 -36.4C3 -36.4 5.9 -35.8 5.9 -33.6C5.9 -31.5 3.6 -30.4 1.9 -30V-24Z"/></g><g transform="rotate(115.4)"><path d="M-1.9 -24V-30C-3.6 -30.4 -5.9 -31.5 -5.9 -33.6C-5.9 -35.8 -3 -36.4 0 -36.4C3 -36.4 5.9 -35.8 5.9 -33.6C5.9 -31.5 3.6 -30.4 1.9 -30V-24Z"/></g><g transform="rotate(145)"><path d="M-1.9 -24V-30C-3.6 -30.4 -5.9 -31.5 -5.9 -33.6C-5.9 -35.8 -3 -36.4 0 -36.4C3 -36.4 5.9 -35.8 5.9 -33.6C5.9 -31.5 3.6 -30.4 1.9 -30V-24Z"/></g><g transform="rotate(174.6)"><path d="M-1.9 -24V-30C-3.6 -30.4 -5.9 -31.5 -5.9 -33.6C-5.9 -35.8 -3 -36.4 0 -36.4C3 -36.4 5.9 -35.8 5.9 -33.6C5.9 -31.5 3.6 -30.4 1.9 -30V-24Z"/></g><g transform="rotate(204.2)"><path d="M-1.9 -24V-30C-3.6 -30.4 -5.9 -31.5 -5.9 -33.6C-5.9 -35.8 -3 -36.4 0 -36.4C3 -36.4 5.9 -35.8 5.9 -33.6C5.9 -31.5 3.6 -30.4 1.9 -30V-24Z"/></g><g transform="rotate(233.8)"><path d="M-1.9 -24V-30C-3.6 -30.4 -5.9 -31.5 -5.9 -33.6C-5.9 -35.8 -3 -36.4 0 -36.4C3 -36.4 5.9 -35.8 5.9 -33.6C5.9 -31.5 3.6 -30.4 1.9 -30V-24Z"/></g><g transform="rotate(263.4)"><path d="M-1.9 -24V-30C-3.6 -30.4 -5.9 -31.5 -5.9 -33.6C-5.9 -35.8 -3 -36.4 0 -36.4C3 -36.4 5.9 -35.8 5.9 -33.6C5.9 -31.5 3.6 -30.4 1.9 -30V-24Z"/></g><g transform="rotate(293)"><path d="M-1.9 -24V-30C-3.6 -30.4 -5.9 -31.5 -5.9 -33.6C-5.9 -35.8 -3 -36.4 0 -36.4C3 -36.4 5.9 -35.8 5.9 -33.6C5.9 -31.5 3.6 -30.4 1.9 -30V-24Z"/></g><g transform="rotate(322.6)"><path d="M-1.9 -24V-30C-3.6 -30.4 -5.9 -31.5 -5.9 -33.6C-5.9 -35.8 -3 -36.4 0 -36.4C3 -36.4 5.9 -35.8 5.9 -33.6C5.9 -31.5 3.6 -30.4 1.9 -30V-24Z"/></g></g><circle r="25.2" fill="#109A48" stroke="#111" stroke-width="2.9"/><circle r="21.6" fill="none" stroke="#7ED9A6" stroke-width="2" stroke-dasharray="4.2 2.8"/><path d="M9.5 -10.5C5 -12.5 -2 -13 -2.5 -10C-3 -6.5 6 -4.5 5.5 -0.5C5 3 -5.5 0.5 -8.5 3.5C-11 6.5 -6 11 -1.5 14" fill="none" stroke="#0D1A10" stroke-width="2.2" stroke-linecap="round"/></g><g transform="translate(186.9 391) scale(1)"><g fill="#2269AE"><g transform="rotate(-3)"><path d="M-1.9 -24V-30C-3.6 -30.4 -5.9 -31.5 -5.9 -33.6C-5.9 -35.8 -3 -36.4 0 -36.4C3 -36.4 5.9 -35.8 5.9 -33.6C5.9 -31.5 3.6 -30.4 1.9 -30V-24Z"/></g><g transform="rotate(26.6)"><path d="M-1.9 -24V-30C-3.6 -30.4 -5.9 -31.5 -5.9 -33.6C-5.9 -35.8 -3 -36.4 0 -36.4C3 -36.4 5.9 -35.8 5.9 -33.6C5.9 -31.5 3.6 -30.4 1.9 -30V-24Z"/></g><g transform="rotate(56.2)"><path d="M-1.9 -24V-30C-3.6 -30.4 -5.9 -31.5 -5.9 -33.6C-5.9 -35.8 -3 -36.4 0 -36.4C3 -36.4 5.9 -35.8 5.9 -33.6C5.9 -31.5 3.6 -30.4 1.9 -30V-24Z"/></g><g transform="rotate(85.8)"><path d="M-1.9 -24V-30C-3.6 -30.4 -5.9 -31.5 -5.9 -33.6C-5.9 -35.8 -3 -36.4 0 -36.4C3 -36.4 5.9 -35.8 5.9 -33.6C5.9 -31.5 3.6 -30.4 1.9 -30V-24Z"/></g><g transform="rotate(115.4)"><path d="M-1.9 -24V-30C-3.6 -30.4 -5.9 -31.5 -5.9 -33.6C-5.9 -35.8 -3 -36.4 0 -36.4C3 -36.4 5.9 -35.8 5.9 -33.6C5.9 -31.5 3.6 -30.4 1.9 -30V-24Z"/></g><g transform="rotate(145)"><path d="M-1.9 -24V-30C-3.6 -30.4 -5.9 -31.5 -5.9 -33.6C-5.9 -35.8 -3 -36.4 0 -36.4C3 -36.4 5.9 -35.8 5.9 -33.6C5.9 -31.5 3.6 -30.4 1.9 -30V-24Z"/></g><g transform="rotate(174.6)"><path d="M-1.9 -24V-30C-3.6 -30.4 -5.9 -31.5 -5.9 -33.6C-5.9 -35.8 -3 -36.4 0 -36.4C3 -36.4 5.9 -35.8 5.9 -33.6C5.9 -31.5 3.6 -30.4 1.9 -30V-24Z"/></g><g transform="rotate(204.2)"><path d="M-1.9 -24V-30C-3.6 -30.4 -5.9 -31.5 -5.9 -33.6C-5.9 -35.8 -3 -36.4 0 -36.4C3 -36.4 5.9 -35.8 5.9 -33.6C5.9 -31.5 3.6 -30.4 1.9 -30V-24Z"/></g><g transform="rotate(233.8)"><path d="M-1.9 -24V-30C-3.6 -30.4 -5.9 -31.5 -5.9 -33.6C-5.9 -35.8 -3 -36.4 0 -36.4C3 -36.4 5.9 -35.8 5.9 -33.6C5.9 -31.5 3.6 -30.4 1.9 -30V-24Z"/></g><g transform="rotate(263.4)"><path d="M-1.9 -24V-30C-3.6 -30.4 -5.9 -31.5 -5.9 -33.6C-5.9 -35.8 -3 -36.4 0 -36.4C3 -36.4 5.9 -35.8 5.9 -33.6C5.9 -31.5 3.6 -30.4 1.9 -30V-24Z"/></g><g transform="rotate(293)"><path d="M-1.9 -24V-30C-3.6 -30.4 -5.9 -31.5 -5.9 -33.6C-5.9 -35.8 -3 -36.4 0 -36.4C3 -36.4 5.9 -35.8 5.9 -33.6C5.9 -31.5 3.6 -30.4 1.9 -30V-24Z"/></g><g transform="rotate(322.6)"><path d="M-1.9 -24V-30C-3.6 -30.4 -5.9 -31.5 -5.9 -33.6C-5.9 -35.8 -3 -36.4 0 -36.4C3 -36.4 5.9 -35.8 5.9 -33.6C5.9 -31.5 3.6 -30.4 1.9 -30V-24Z"/></g></g><circle r="25.2" fill="#FFFFFF" stroke="#111" stroke-width="2.4"/><circle r="21.6" fill="none" stroke="#A9B4BF" stroke-width="2" stroke-dasharray="4.2 2.8"/><path d="M9.5 -10.5C5 -12.5 -2 -13 -2.5 -10C-3 -6.5 6 -4.5 5.5 -0.5C5 3 -5.5 0.5 -8.5 3.5C-11 6.5 -6 11 -1.5 14" fill="none" stroke="#0D1A10" stroke-width="2.2" stroke-linecap="round"/></g><g transform="translate(542.8 335.3) scale(0.72)"><g fill="#2269AE"><g transform="rotate(-3)"><path d="M-1.9 -24V-30C-3.6 -30.4 -5.9 -31.5 -5.9 -33.6C-5.9 -35.8 -3 -36.4 0 -36.4C3 -36.4 5.9 -35.8 5.9 -33.6C5.9 -31.5 3.6 -30.4 1.9 -30V-24Z"/></g><g transform="rotate(26.6)"><path d="M-1.9 -24V-30C-3.6 -30.4 -5.9 -31.5 -5.9 -33.6C-5.9 -35.8 -3 -36.4 0 -36.4C3 -36.4 5.9 -35.8 5.9 -33.6C5.9 -31.5 3.6 -30.4 1.9 -30V-24Z"/></g><g transform="rotate(56.2)"><path d="M-1.9 -24V-30C-3.6 -30.4 -5.9 -31.5 -5.9 -33.6C-5.9 -35.8 -3 -36.4 0 -36.4C3 -36.4 5.9 -35.8 5.9 -33.6C5.9 -31.5 3.6 -30.4 1.9 -30V-24Z"/></g><g transform="rotate(85.8)"><path d="M-1.9 -24V-30C-3.6 -30.4 -5.9 -31.5 -5.9 -33.6C-5.9 -35.8 -3 -36.4 0 -36.4C3 -36.4 5.9 -35.8 5.9 -33.6C5.9 -31.5 3.6 -30.4 1.9 -30V-24Z"/></g><g transform="rotate(115.4)"><path d="M-1.9 -24V-30C-3.6 -30.4 -5.9 -31.5 -5.9 -33.6C-5.9 -35.8 -3 -36.4 0 -36.4C3 -36.4 5.9 -35.8 5.9 -33.6C5.9 -31.5 3.6 -30.4 1.9 -30V-24Z"/></g><g transform="rotate(145)"><path d="M-1.9 -24V-30C-3.6 -30.4 -5.9 -31.5 -5.9 -33.6C-5.9 -35.8 -3 -36.4 0 -36.4C3 -36.4 5.9 -35.8 5.9 -33.6C5.9 -31.5 3.6 -30.4 1.9 -30V-24Z"/></g><g transform="rotate(174.6)"><path d="M-1.9 -24V-30C-3.6 -30.4 -5.9 -31.5 -5.9 -33.6C-5.9 -35.8 -3 -36.4 0 -36.4C3 -36.4 5.9 -35.8 5.9 -33.6C5.9 -31.5 3.6 -30.4 1.9 -30V-24Z"/></g><g transform="rotate(204.2)"><path d="M-1.9 -24V-30C-3.6 -30.4 -5.9 -31.5 -5.9 -33.6C-5.9 -35.8 -3 -36.4 0 -36.4C3 -36.4 5.9 -35.8 5.9 -33.6C5.9 -31.5 3.6 -30.4 1.9 -30V-24Z"/></g><g transform="rotate(233.8)"><path d="M-1.9 -24V-30C-3.6 -30.4 -5.9 -31.5 -5.9 -33.6C-5.9 -35.8 -3 -36.4 0 -36.4C3 -36.4 5.9 -35.8 5.9 -33.6C5.9 -31.5 3.6 -30.4 1.9 -30V-24Z"/></g><g transform="rotate(263.4)"><path d="M-1.9 -24V-30C-3.6 -30.4 -5.9 -31.5 -5.9 -33.6C-5.9 -35.8 -3 -36.4 0 -36.4C3 -36.4 5.9 -35.8 5.9 -33.6C5.9 -31.5 3.6 -30.4 1.9 -30V-24Z"/></g><g transform="rotate(293)"><path d="M-1.9 -24V-30C-3.6 -30.4 -5.9 -31.5 -5.9 -33.6C-5.9 -35.8 -3 -36.4 0 -36.4C3 -36.4 5.9 -35.8 5.9 -33.6C5.9 -31.5 3.6 -30.4 1.9 -30V-24Z"/></g><g transform="rotate(322.6)"><path d="M-1.9 -24V-30C-3.6 -30.4 -5.9 -31.5 -5.9 -33.6C-5.9 -35.8 -3 -36.4 0 -36.4C3 -36.4 5.9 -35.8 5.9 -33.6C5.9 -31.5 3.6 -30.4 1.9 -30V-24Z"/></g></g><circle r="25.2" fill="#FFFFFF" stroke="#111" stroke-width="2.6"/><circle r="21.6" fill="none" stroke="#A9B4BF" stroke-width="2" stroke-dasharray="4.2 2.8"/><path d="M9.5 -10.5C5 -12.5 -2 -13 -2.5 -10C-3 -6.5 6 -4.5 5.5 -0.5C5 3 -5.5 0.5 -8.5 3.5C-11 6.5 -6 11 -1.5 14" fill="none" stroke="#0D1A10" stroke-width="2.2" stroke-linecap="round"/></g><path d="M195.8 313.02L214.6 313.02L224 329.3L214.6 345.58L195.8 345.58L186.4 329.3Z" fill="none" stroke="#1A1A1A" stroke-width="1.8" stroke-linejoin="round"/><path d="M190.42 328.51L197.13 316.9M213.27 316.9L219.98 328.51M211.9 342.49L198.5 342.49" stroke="#1A1A1A" stroke-width="1.8"/><path d="M195.8 313.02L189.5 301.52 M224 329.3H238" stroke="#1A1A1A" stroke-width="1.8"/><text x="182.4" y="301.42" font-size="10.6" fill="#3A3A3A">R</text><text x="237.6" y="334.1" font-size="10.6" fill="#3A3A3A">R</text><path d="M457.7 313.02L476.5 313.02L485.9 329.3L476.5 345.58L457.7 345.58L448.3 329.3Z" fill="none" stroke="#1A1A1A" stroke-width="1.8" stroke-linejoin="round"/><path d="M452.32 328.51L459.03 316.9M475.17 316.9L481.88 328.51M473.8 342.49L460.4 342.49" stroke="#1A1A1A" stroke-width="1.8"/><path d="M457.7 313.02L451.4 301.52 M485.9 329.3H499.9" stroke="#1A1A1A" stroke-width="1.8"/><text x="444.3" y="301.42" font-size="10.6" fill="#3A3A3A">R</text><text x="499.5" y="334.1" font-size="10.6" fill="#3A3A3A">R</text><g fill="#000"><path d="M226.6 88C262 51 322 41 349 81" fill="none" stroke="#000" stroke-width="2.9"/><path d="M357 88.6L342.89 83.95L350.04 82.13L351.34 74.87Z"/><path d="M475.9 151.8H522" stroke="#000" stroke-width="3.3"/><path d="M534.5 151.8L516.7 158.8L519.7 151.8L516.7 144.8Z"/><path d="M574.8 180.2L562 201" stroke="#000" stroke-width="3.2"/><path d="M556.8 209.6L558.13 195.17L562.28 200.65L569.05 201.85Z"/><path d="M733.2 180.2L745.8 201" stroke="#000" stroke-width="3.2"/><path d="M751.2 210.2L739.02 202.35L745.8 201.2L750 195.76Z"/><path d="M244.3 354.7C270 353 292 362 299 381" fill="none" stroke="#000" stroke-width="2.9"/><path d="M300.3 391L291.76 378.29L298.56 381.15L303.97 376.13Z"/><path d="M436.1 391.1C470 352 525 338 558 383" fill="none" stroke="#000" stroke-width="2.9"/><path d="M566.3 390.4L552.15 385.88L559.28 384L560.51 376.72Z"/><path d="M276.5 487.7L263.5 509.5" stroke="#000" stroke-width="3.2"/><path d="M258.6 518.3L259.64 503.85L263.9 509.24L270.69 510.31Z"/><path d="M448.2 487.7L461.5 509.5" stroke="#000" stroke-width="3.2"/><path d="M466.9 518.3L454.66 510.54L461.42 509.34L465.58 503.87Z"/><path d="M647.3 495.4V514" stroke="#000" stroke-width="3.2"/><path d="M647.3 525.7L641.7 512.7L647.3 515.2L652.9 512.7Z"/></g><text x="0" y="28.5" font-size="33.5" text-anchor="start" fill="#000">A</text><text transform="translate(72 97.2) rotate(-90)" text-anchor="middle" font-size="30.2">Screen</text><text transform="translate(72 412.5) rotate(-90)" text-anchor="middle" font-size="30.4">Validation</text><text x="189.6" y="31.2" font-size="22.4" text-anchor="middle" fill="#000">ReFRAME library</text><text x="190" y="59" font-size="22.4" text-anchor="middle" fill="#000">(5 µM)</text><text x="180.3" y="188.4" font-size="22.4" text-anchor="middle" fill="#000">rHRSV-A-GFP</text><text x="500.5" y="128.3" font-size="22.4" text-anchor="middle" fill="#000">48h</text><text x="541.7" y="235.4" font-size="22.4" text-anchor="middle" fill="#000">reporter activity</text><text x="541.7" y="262.2" font-size="22.4" text-anchor="middle" fill="#000">(infection efficiency)</text><text x="758.6" y="235.4" font-size="22.4" text-anchor="middle" fill="#000">MTT</text><text x="758.8" y="262.2" font-size="22.4" text-anchor="middle" fill="#000">(viability)</text><text x="179.8" y="474.2" font-size="22.4" text-anchor="middle" fill="#000">rHRSV-A-Luc</text><text x="361.2" y="371.4" font-size="22.4" text-anchor="middle" fill="#BE464C">round I</text><text x="650.3" y="370.9" font-size="22.4" text-anchor="middle" fill="#E2C3C4">round II</text><text x="251.4" y="544.7" font-size="22.4" text-anchor="middle" fill="#000">reporter activity</text><text x="470.7" y="544.7" font-size="22.4" text-anchor="middle" fill="#000">MTT</text><text x="647" y="544.9" font-size="22.4" text-anchor="middle" fill="#000">reporter activity</text>
</svg></body></html>
